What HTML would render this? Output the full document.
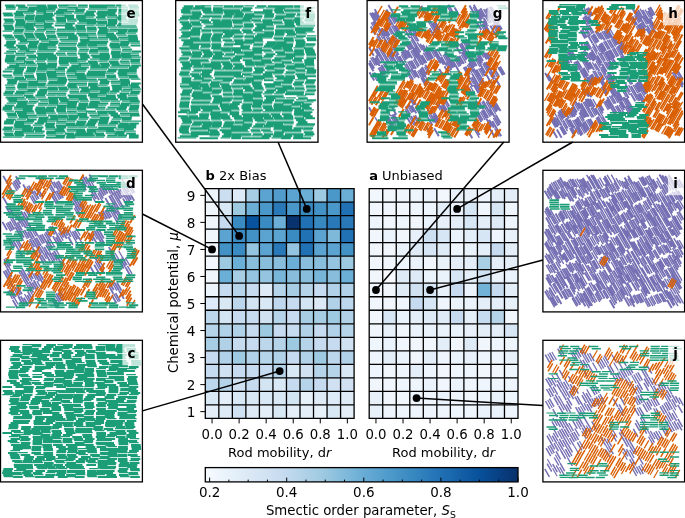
<!DOCTYPE html>
<html><head><meta charset="utf-8"><style>
html,body{margin:0;padding:0;background:#fff;}
svg{display:block;font-family:"DejaVu Sans","Liberation Sans",sans-serif;}
</style></head><body>
<svg width="685" height="518" viewBox="0 0 685 518">
<rect x="205.30" y="188.60" width="13.53" height="13.52" fill="#edf5fc"/>
<rect x="218.83" y="188.60" width="13.53" height="13.52" fill="#ccdff1"/>
<rect x="232.35" y="188.60" width="13.53" height="13.52" fill="#ddeaf7"/>
<rect x="245.88" y="188.60" width="13.53" height="13.52" fill="#a6cde4"/>
<rect x="259.41" y="188.60" width="13.53" height="13.52" fill="#5ba3d0"/>
<rect x="272.94" y="188.60" width="13.53" height="13.52" fill="#519ccc"/>
<rect x="286.46" y="188.60" width="13.53" height="13.52" fill="#5ba3d0"/>
<rect x="299.99" y="188.60" width="13.53" height="13.52" fill="#6baed6"/>
<rect x="313.52" y="188.60" width="13.53" height="13.52" fill="#9ecae1"/>
<rect x="327.05" y="188.60" width="13.53" height="13.52" fill="#4a98c9"/>
<rect x="340.57" y="188.60" width="13.53" height="13.52" fill="#6baed6"/>
<rect x="205.30" y="202.12" width="13.53" height="13.52" fill="#eff6fc"/>
<rect x="218.83" y="202.12" width="13.53" height="13.52" fill="#d9e8f5"/>
<rect x="232.35" y="202.12" width="13.53" height="13.52" fill="#9ecae1"/>
<rect x="245.88" y="202.12" width="13.53" height="13.52" fill="#6baed6"/>
<rect x="259.41" y="202.12" width="13.53" height="13.52" fill="#4a98c9"/>
<rect x="272.94" y="202.12" width="13.53" height="13.52" fill="#2979b9"/>
<rect x="286.46" y="202.12" width="13.53" height="13.52" fill="#4a98c9"/>
<rect x="299.99" y="202.12" width="13.53" height="13.52" fill="#3989c1"/>
<rect x="313.52" y="202.12" width="13.53" height="13.52" fill="#4292c6"/>
<rect x="327.05" y="202.12" width="13.53" height="13.52" fill="#4a98c9"/>
<rect x="340.57" y="202.12" width="13.53" height="13.52" fill="#2171b5"/>
<rect x="205.30" y="215.64" width="13.53" height="13.52" fill="#eff6fc"/>
<rect x="218.83" y="215.64" width="13.53" height="13.52" fill="#c6dbef"/>
<rect x="232.35" y="215.64" width="13.53" height="13.52" fill="#3b8bc3"/>
<rect x="245.88" y="215.64" width="13.53" height="13.52" fill="#09529d"/>
<rect x="259.41" y="215.64" width="13.53" height="13.52" fill="#3b8bc3"/>
<rect x="272.94" y="215.64" width="13.53" height="13.52" fill="#6baed6"/>
<rect x="286.46" y="215.64" width="13.53" height="13.52" fill="#08336f"/>
<rect x="299.99" y="215.64" width="13.53" height="13.52" fill="#2171b5"/>
<rect x="313.52" y="215.64" width="13.53" height="13.52" fill="#3989c1"/>
<rect x="327.05" y="215.64" width="13.53" height="13.52" fill="#2979b9"/>
<rect x="340.57" y="215.64" width="13.53" height="13.52" fill="#2979b9"/>
<rect x="205.30" y="229.15" width="13.53" height="13.52" fill="#eff6fc"/>
<rect x="218.83" y="229.15" width="13.53" height="13.52" fill="#5ba3d0"/>
<rect x="232.35" y="229.15" width="13.53" height="13.52" fill="#3b8bc3"/>
<rect x="245.88" y="229.15" width="13.53" height="13.52" fill="#4292c6"/>
<rect x="259.41" y="229.15" width="13.53" height="13.52" fill="#5ba3d0"/>
<rect x="272.94" y="229.15" width="13.53" height="13.52" fill="#5ba3d0"/>
<rect x="286.46" y="229.15" width="13.53" height="13.52" fill="#3b8bc3"/>
<rect x="299.99" y="229.15" width="13.53" height="13.52" fill="#2171b5"/>
<rect x="313.52" y="229.15" width="13.53" height="13.52" fill="#5ba3d0"/>
<rect x="327.05" y="229.15" width="13.53" height="13.52" fill="#7fb9da"/>
<rect x="340.57" y="229.15" width="13.53" height="13.52" fill="#2171b5"/>
<rect x="205.30" y="242.67" width="13.53" height="13.52" fill="#f3f8fe"/>
<rect x="218.83" y="242.67" width="13.53" height="13.52" fill="#4292c6"/>
<rect x="232.35" y="242.67" width="13.53" height="13.52" fill="#3b8bc3"/>
<rect x="245.88" y="242.67" width="13.53" height="13.52" fill="#94c4df"/>
<rect x="259.41" y="242.67" width="13.53" height="13.52" fill="#5ba3d0"/>
<rect x="272.94" y="242.67" width="13.53" height="13.52" fill="#2979b9"/>
<rect x="286.46" y="242.67" width="13.53" height="13.52" fill="#94c4df"/>
<rect x="299.99" y="242.67" width="13.53" height="13.52" fill="#2171b5"/>
<rect x="313.52" y="242.67" width="13.53" height="13.52" fill="#5ba3d0"/>
<rect x="327.05" y="242.67" width="13.53" height="13.52" fill="#5ba3d0"/>
<rect x="340.57" y="242.67" width="13.53" height="13.52" fill="#4292c6"/>
<rect x="205.30" y="256.19" width="13.53" height="13.52" fill="#f1f7fd"/>
<rect x="218.83" y="256.19" width="13.53" height="13.52" fill="#9ecae1"/>
<rect x="232.35" y="256.19" width="13.53" height="13.52" fill="#6baed6"/>
<rect x="245.88" y="256.19" width="13.53" height="13.52" fill="#88bedc"/>
<rect x="259.41" y="256.19" width="13.53" height="13.52" fill="#88bedc"/>
<rect x="272.94" y="256.19" width="13.53" height="13.52" fill="#88bedc"/>
<rect x="286.46" y="256.19" width="13.53" height="13.52" fill="#6baed6"/>
<rect x="299.99" y="256.19" width="13.53" height="13.52" fill="#88bedc"/>
<rect x="313.52" y="256.19" width="13.53" height="13.52" fill="#88bedc"/>
<rect x="327.05" y="256.19" width="13.53" height="13.52" fill="#94c4df"/>
<rect x="340.57" y="256.19" width="13.53" height="13.52" fill="#9ecae1"/>
<rect x="205.30" y="269.71" width="13.53" height="13.52" fill="#eff6fc"/>
<rect x="218.83" y="269.71" width="13.53" height="13.52" fill="#6baed6"/>
<rect x="232.35" y="269.71" width="13.53" height="13.52" fill="#a6cde4"/>
<rect x="245.88" y="269.71" width="13.53" height="13.52" fill="#94c4df"/>
<rect x="259.41" y="269.71" width="13.53" height="13.52" fill="#94c4df"/>
<rect x="272.94" y="269.71" width="13.53" height="13.52" fill="#77b5d9"/>
<rect x="286.46" y="269.71" width="13.53" height="13.52" fill="#88bedc"/>
<rect x="299.99" y="269.71" width="13.53" height="13.52" fill="#88bedc"/>
<rect x="313.52" y="269.71" width="13.53" height="13.52" fill="#77b5d9"/>
<rect x="327.05" y="269.71" width="13.53" height="13.52" fill="#88bedc"/>
<rect x="340.57" y="269.71" width="13.53" height="13.52" fill="#6baed6"/>
<rect x="205.30" y="283.22" width="13.53" height="13.52" fill="#edf5fc"/>
<rect x="218.83" y="283.22" width="13.53" height="13.52" fill="#c6dbef"/>
<rect x="232.35" y="283.22" width="13.53" height="13.52" fill="#b6d4e9"/>
<rect x="245.88" y="283.22" width="13.53" height="13.52" fill="#c6dbef"/>
<rect x="259.41" y="283.22" width="13.53" height="13.52" fill="#deebf7"/>
<rect x="272.94" y="283.22" width="13.53" height="13.52" fill="#b6d4e9"/>
<rect x="286.46" y="283.22" width="13.53" height="13.52" fill="#a6cde4"/>
<rect x="299.99" y="283.22" width="13.53" height="13.52" fill="#b6d4e9"/>
<rect x="313.52" y="283.22" width="13.53" height="13.52" fill="#c6dbef"/>
<rect x="327.05" y="283.22" width="13.53" height="13.52" fill="#b0d1e7"/>
<rect x="340.57" y="283.22" width="13.53" height="13.52" fill="#b0d1e7"/>
<rect x="205.30" y="296.74" width="13.53" height="13.52" fill="#ddeaf7"/>
<rect x="218.83" y="296.74" width="13.53" height="13.52" fill="#d9e8f5"/>
<rect x="232.35" y="296.74" width="13.53" height="13.52" fill="#bcd7ec"/>
<rect x="245.88" y="296.74" width="13.53" height="13.52" fill="#d3e4f3"/>
<rect x="259.41" y="296.74" width="13.53" height="13.52" fill="#d9e8f5"/>
<rect x="272.94" y="296.74" width="13.53" height="13.52" fill="#c0d8ed"/>
<rect x="286.46" y="296.74" width="13.53" height="13.52" fill="#c6dbef"/>
<rect x="299.99" y="296.74" width="13.53" height="13.52" fill="#d3e4f3"/>
<rect x="313.52" y="296.74" width="13.53" height="13.52" fill="#dbe9f6"/>
<rect x="327.05" y="296.74" width="13.53" height="13.52" fill="#b0d1e7"/>
<rect x="340.57" y="296.74" width="13.53" height="13.52" fill="#bcd7ec"/>
<rect x="205.30" y="310.26" width="13.53" height="13.52" fill="#bcd7ec"/>
<rect x="218.83" y="310.26" width="13.53" height="13.52" fill="#d3e4f3"/>
<rect x="232.35" y="310.26" width="13.53" height="13.52" fill="#c6dbef"/>
<rect x="245.88" y="310.26" width="13.53" height="13.52" fill="#c6dbef"/>
<rect x="259.41" y="310.26" width="13.53" height="13.52" fill="#d0e1f2"/>
<rect x="272.94" y="310.26" width="13.53" height="13.52" fill="#b6d4e9"/>
<rect x="286.46" y="310.26" width="13.53" height="13.52" fill="#c6dbef"/>
<rect x="299.99" y="310.26" width="13.53" height="13.52" fill="#a6cde4"/>
<rect x="313.52" y="310.26" width="13.53" height="13.52" fill="#a6cde4"/>
<rect x="327.05" y="310.26" width="13.53" height="13.52" fill="#9ecae1"/>
<rect x="340.57" y="310.26" width="13.53" height="13.52" fill="#b0d1e7"/>
<rect x="205.30" y="323.78" width="13.53" height="13.52" fill="#b6d4e9"/>
<rect x="218.83" y="323.78" width="13.53" height="13.52" fill="#b0d1e7"/>
<rect x="232.35" y="323.78" width="13.53" height="13.52" fill="#b0d1e7"/>
<rect x="245.88" y="323.78" width="13.53" height="13.52" fill="#c6dbef"/>
<rect x="259.41" y="323.78" width="13.53" height="13.52" fill="#9ecae1"/>
<rect x="272.94" y="323.78" width="13.53" height="13.52" fill="#c6dbef"/>
<rect x="286.46" y="323.78" width="13.53" height="13.52" fill="#c6dbef"/>
<rect x="299.99" y="323.78" width="13.53" height="13.52" fill="#b0d1e7"/>
<rect x="313.52" y="323.78" width="13.53" height="13.52" fill="#c6dbef"/>
<rect x="327.05" y="323.78" width="13.53" height="13.52" fill="#b0d1e7"/>
<rect x="340.57" y="323.78" width="13.53" height="13.52" fill="#b6d4e9"/>
<rect x="205.30" y="337.29" width="13.53" height="13.52" fill="#a6cde4"/>
<rect x="218.83" y="337.29" width="13.53" height="13.52" fill="#b0d1e7"/>
<rect x="232.35" y="337.29" width="13.53" height="13.52" fill="#c6dbef"/>
<rect x="245.88" y="337.29" width="13.53" height="13.52" fill="#c6dbef"/>
<rect x="259.41" y="337.29" width="13.53" height="13.52" fill="#bcd7ec"/>
<rect x="272.94" y="337.29" width="13.53" height="13.52" fill="#b6d4e9"/>
<rect x="286.46" y="337.29" width="13.53" height="13.52" fill="#9ecae1"/>
<rect x="299.99" y="337.29" width="13.53" height="13.52" fill="#b6d4e9"/>
<rect x="313.52" y="337.29" width="13.53" height="13.52" fill="#c6dbef"/>
<rect x="327.05" y="337.29" width="13.53" height="13.52" fill="#c6dbef"/>
<rect x="340.57" y="337.29" width="13.53" height="13.52" fill="#d0e1f2"/>
<rect x="205.30" y="350.81" width="13.53" height="13.52" fill="#c6dbef"/>
<rect x="218.83" y="350.81" width="13.53" height="13.52" fill="#b0d1e7"/>
<rect x="232.35" y="350.81" width="13.53" height="13.52" fill="#9ecae1"/>
<rect x="245.88" y="350.81" width="13.53" height="13.52" fill="#b0d1e7"/>
<rect x="259.41" y="350.81" width="13.53" height="13.52" fill="#b6d4e9"/>
<rect x="272.94" y="350.81" width="13.53" height="13.52" fill="#b0d1e7"/>
<rect x="286.46" y="350.81" width="13.53" height="13.52" fill="#c6dbef"/>
<rect x="299.99" y="350.81" width="13.53" height="13.52" fill="#b0d1e7"/>
<rect x="313.52" y="350.81" width="13.53" height="13.52" fill="#9ecae1"/>
<rect x="327.05" y="350.81" width="13.53" height="13.52" fill="#bcd7ec"/>
<rect x="340.57" y="350.81" width="13.53" height="13.52" fill="#b0d1e7"/>
<rect x="205.30" y="364.33" width="13.53" height="13.52" fill="#c6dbef"/>
<rect x="218.83" y="364.33" width="13.53" height="13.52" fill="#d0e1f2"/>
<rect x="232.35" y="364.33" width="13.53" height="13.52" fill="#c6dbef"/>
<rect x="245.88" y="364.33" width="13.53" height="13.52" fill="#c6dbef"/>
<rect x="259.41" y="364.33" width="13.53" height="13.52" fill="#c6dbef"/>
<rect x="272.94" y="364.33" width="13.53" height="13.52" fill="#b6d4e9"/>
<rect x="286.46" y="364.33" width="13.53" height="13.52" fill="#d9e8f5"/>
<rect x="299.99" y="364.33" width="13.53" height="13.52" fill="#d0e1f2"/>
<rect x="313.52" y="364.33" width="13.53" height="13.52" fill="#b6d4e9"/>
<rect x="327.05" y="364.33" width="13.53" height="13.52" fill="#b6d4e9"/>
<rect x="340.57" y="364.33" width="13.53" height="13.52" fill="#d9e8f5"/>
<rect x="205.30" y="377.85" width="13.53" height="13.52" fill="#bcd7ec"/>
<rect x="218.83" y="377.85" width="13.53" height="13.52" fill="#b6d4e9"/>
<rect x="232.35" y="377.85" width="13.53" height="13.52" fill="#d0e1f2"/>
<rect x="245.88" y="377.85" width="13.53" height="13.52" fill="#c6dbef"/>
<rect x="259.41" y="377.85" width="13.53" height="13.52" fill="#d3e4f3"/>
<rect x="272.94" y="377.85" width="13.53" height="13.52" fill="#d9e8f5"/>
<rect x="286.46" y="377.85" width="13.53" height="13.52" fill="#c6dbef"/>
<rect x="299.99" y="377.85" width="13.53" height="13.52" fill="#b6d4e9"/>
<rect x="313.52" y="377.85" width="13.53" height="13.52" fill="#c6dbef"/>
<rect x="327.05" y="377.85" width="13.53" height="13.52" fill="#d0e1f2"/>
<rect x="340.57" y="377.85" width="13.53" height="13.52" fill="#d0e1f2"/>
<rect x="205.30" y="391.36" width="13.53" height="13.52" fill="#d9e8f5"/>
<rect x="218.83" y="391.36" width="13.53" height="13.52" fill="#e3eef9"/>
<rect x="232.35" y="391.36" width="13.53" height="13.52" fill="#d9e8f5"/>
<rect x="245.88" y="391.36" width="13.53" height="13.52" fill="#d9e8f5"/>
<rect x="259.41" y="391.36" width="13.53" height="13.52" fill="#d9e8f5"/>
<rect x="272.94" y="391.36" width="13.53" height="13.52" fill="#d9e8f5"/>
<rect x="286.46" y="391.36" width="13.53" height="13.52" fill="#d3e4f3"/>
<rect x="299.99" y="391.36" width="13.53" height="13.52" fill="#e7f1fa"/>
<rect x="313.52" y="391.36" width="13.53" height="13.52" fill="#deebf7"/>
<rect x="327.05" y="391.36" width="13.53" height="13.52" fill="#ddeaf7"/>
<rect x="340.57" y="391.36" width="13.53" height="13.52" fill="#deebf7"/>
<rect x="205.30" y="404.88" width="13.53" height="13.52" fill="#e3eef9"/>
<rect x="218.83" y="404.88" width="13.53" height="13.52" fill="#deebf7"/>
<rect x="232.35" y="404.88" width="13.53" height="13.52" fill="#d0e1f2"/>
<rect x="245.88" y="404.88" width="13.53" height="13.52" fill="#deebf7"/>
<rect x="259.41" y="404.88" width="13.53" height="13.52" fill="#e3eef9"/>
<rect x="272.94" y="404.88" width="13.53" height="13.52" fill="#d9e8f5"/>
<rect x="286.46" y="404.88" width="13.53" height="13.52" fill="#e3eef9"/>
<rect x="299.99" y="404.88" width="13.53" height="13.52" fill="#e3eef9"/>
<rect x="313.52" y="404.88" width="13.53" height="13.52" fill="#e7f1fa"/>
<rect x="327.05" y="404.88" width="13.53" height="13.52" fill="#d9e8f5"/>
<rect x="340.57" y="404.88" width="13.53" height="13.52" fill="#e3eef9"/>
<path d="M205.30 188.60V418.40M218.83 188.60V418.40M232.35 188.60V418.40M245.88 188.60V418.40M259.41 188.60V418.40M272.94 188.60V418.40M286.46 188.60V418.40M299.99 188.60V418.40M313.52 188.60V418.40M327.05 188.60V418.40M340.57 188.60V418.40M354.10 188.60V418.40M205.30 188.60H354.10M205.30 202.12H354.10M205.30 215.64H354.10M205.30 229.15H354.10M205.30 242.67H354.10M205.30 256.19H354.10M205.30 269.71H354.10M205.30 283.22H354.10M205.30 296.74H354.10M205.30 310.26H354.10M205.30 323.78H354.10M205.30 337.29H354.10M205.30 350.81H354.10M205.30 364.33H354.10M205.30 377.85H354.10M205.30 391.36H354.10M205.30 404.88H354.10M205.30 418.40H354.10" stroke="#000" stroke-width="1.3" fill="none" stroke-linecap="square"/>
<rect x="369.20" y="188.60" width="13.53" height="13.52" fill="#f2f7fd"/>
<rect x="382.73" y="188.60" width="13.53" height="13.52" fill="#f0f6fc"/>
<rect x="396.25" y="188.60" width="13.53" height="13.52" fill="#edf4fc"/>
<rect x="409.78" y="188.60" width="13.53" height="13.52" fill="#edf4fc"/>
<rect x="423.31" y="188.60" width="13.53" height="13.52" fill="#eaf2fb"/>
<rect x="436.84" y="188.60" width="13.53" height="13.52" fill="#f2f7fd"/>
<rect x="450.36" y="188.60" width="13.53" height="13.52" fill="#e8f1fa"/>
<rect x="463.89" y="188.60" width="13.53" height="13.52" fill="#e8f1fa"/>
<rect x="477.42" y="188.60" width="13.53" height="13.52" fill="#eef5fc"/>
<rect x="490.95" y="188.60" width="13.53" height="13.52" fill="#e3eef8"/>
<rect x="504.47" y="188.60" width="13.53" height="13.52" fill="#e3eef8"/>
<rect x="369.20" y="202.12" width="13.53" height="13.52" fill="#f2f7fd"/>
<rect x="382.73" y="202.12" width="13.53" height="13.52" fill="#f0f6fc"/>
<rect x="396.25" y="202.12" width="13.53" height="13.52" fill="#f2f7fd"/>
<rect x="409.78" y="202.12" width="13.53" height="13.52" fill="#eef5fc"/>
<rect x="423.31" y="202.12" width="13.53" height="13.52" fill="#eef5fc"/>
<rect x="436.84" y="202.12" width="13.53" height="13.52" fill="#e3eef8"/>
<rect x="450.36" y="202.12" width="13.53" height="13.52" fill="#e8f1fa"/>
<rect x="463.89" y="202.12" width="13.53" height="13.52" fill="#d6e6f4"/>
<rect x="477.42" y="202.12" width="13.53" height="13.52" fill="#f0f6fc"/>
<rect x="490.95" y="202.12" width="13.53" height="13.52" fill="#d6e6f4"/>
<rect x="504.47" y="202.12" width="13.53" height="13.52" fill="#eef5fc"/>
<rect x="369.20" y="215.64" width="13.53" height="13.52" fill="#eef5fc"/>
<rect x="382.73" y="215.64" width="13.53" height="13.52" fill="#f0f6fc"/>
<rect x="396.25" y="215.64" width="13.53" height="13.52" fill="#eef5fc"/>
<rect x="409.78" y="215.64" width="13.53" height="13.52" fill="#f0f6fc"/>
<rect x="423.31" y="215.64" width="13.53" height="13.52" fill="#eaf2fb"/>
<rect x="436.84" y="215.64" width="13.53" height="13.52" fill="#e8f1fa"/>
<rect x="450.36" y="215.64" width="13.53" height="13.52" fill="#e3eef8"/>
<rect x="463.89" y="215.64" width="13.53" height="13.52" fill="#d6e6f4"/>
<rect x="477.42" y="215.64" width="13.53" height="13.52" fill="#e3eef8"/>
<rect x="490.95" y="215.64" width="13.53" height="13.52" fill="#deebf7"/>
<rect x="504.47" y="215.64" width="13.53" height="13.52" fill="#eef5fc"/>
<rect x="369.20" y="229.15" width="13.53" height="13.52" fill="#f0f6fc"/>
<rect x="382.73" y="229.15" width="13.53" height="13.52" fill="#eaf2fb"/>
<rect x="396.25" y="229.15" width="13.53" height="13.52" fill="#f0f6fc"/>
<rect x="409.78" y="229.15" width="13.53" height="13.52" fill="#e8f1fa"/>
<rect x="423.31" y="229.15" width="13.53" height="13.52" fill="#cde0f1"/>
<rect x="436.84" y="229.15" width="13.53" height="13.52" fill="#d6e6f4"/>
<rect x="450.36" y="229.15" width="13.53" height="13.52" fill="#eaf2fb"/>
<rect x="463.89" y="229.15" width="13.53" height="13.52" fill="#e3eef8"/>
<rect x="477.42" y="229.15" width="13.53" height="13.52" fill="#d6e6f4"/>
<rect x="490.95" y="229.15" width="13.53" height="13.52" fill="#eef5fc"/>
<rect x="504.47" y="229.15" width="13.53" height="13.52" fill="#e8f1fa"/>
<rect x="369.20" y="242.67" width="13.53" height="13.52" fill="#f0f6fc"/>
<rect x="382.73" y="242.67" width="13.53" height="13.52" fill="#f0f6fc"/>
<rect x="396.25" y="242.67" width="13.53" height="13.52" fill="#eaf2fb"/>
<rect x="409.78" y="242.67" width="13.53" height="13.52" fill="#deebf7"/>
<rect x="423.31" y="242.67" width="13.53" height="13.52" fill="#d6e6f4"/>
<rect x="436.84" y="242.67" width="13.53" height="13.52" fill="#deebf7"/>
<rect x="450.36" y="242.67" width="13.53" height="13.52" fill="#eef5fc"/>
<rect x="463.89" y="242.67" width="13.53" height="13.52" fill="#eaf2fb"/>
<rect x="477.42" y="242.67" width="13.53" height="13.52" fill="#e3eef8"/>
<rect x="490.95" y="242.67" width="13.53" height="13.52" fill="#c6dbef"/>
<rect x="504.47" y="242.67" width="13.53" height="13.52" fill="#e3eef8"/>
<rect x="369.20" y="256.19" width="13.53" height="13.52" fill="#f0f6fc"/>
<rect x="382.73" y="256.19" width="13.53" height="13.52" fill="#f0f6fc"/>
<rect x="396.25" y="256.19" width="13.53" height="13.52" fill="#eef5fc"/>
<rect x="409.78" y="256.19" width="13.53" height="13.52" fill="#eaf2fb"/>
<rect x="423.31" y="256.19" width="13.53" height="13.52" fill="#f0f6fc"/>
<rect x="436.84" y="256.19" width="13.53" height="13.52" fill="#e8f1fa"/>
<rect x="450.36" y="256.19" width="13.53" height="13.52" fill="#e3eef8"/>
<rect x="463.89" y="256.19" width="13.53" height="13.52" fill="#e3eef8"/>
<rect x="477.42" y="256.19" width="13.53" height="13.52" fill="#a9cfe5"/>
<rect x="490.95" y="256.19" width="13.53" height="13.52" fill="#e3eef8"/>
<rect x="504.47" y="256.19" width="13.53" height="13.52" fill="#e3eef8"/>
<rect x="369.20" y="269.71" width="13.53" height="13.52" fill="#f0f6fc"/>
<rect x="382.73" y="269.71" width="13.53" height="13.52" fill="#f7fbff"/>
<rect x="396.25" y="269.71" width="13.53" height="13.52" fill="#deebf7"/>
<rect x="409.78" y="269.71" width="13.53" height="13.52" fill="#deebf7"/>
<rect x="423.31" y="269.71" width="13.53" height="13.52" fill="#eaf2fb"/>
<rect x="436.84" y="269.71" width="13.53" height="13.52" fill="#eaf2fb"/>
<rect x="450.36" y="269.71" width="13.53" height="13.52" fill="#d6e6f4"/>
<rect x="463.89" y="269.71" width="13.53" height="13.52" fill="#e3eef8"/>
<rect x="477.42" y="269.71" width="13.53" height="13.52" fill="#d0e2f2"/>
<rect x="490.95" y="269.71" width="13.53" height="13.52" fill="#eaf2fb"/>
<rect x="504.47" y="269.71" width="13.53" height="13.52" fill="#eaf2fb"/>
<rect x="369.20" y="283.22" width="13.53" height="13.52" fill="#f0f6fc"/>
<rect x="382.73" y="283.22" width="13.53" height="13.52" fill="#f0f6fc"/>
<rect x="396.25" y="283.22" width="13.53" height="13.52" fill="#deebf7"/>
<rect x="409.78" y="283.22" width="13.53" height="13.52" fill="#d0e2f2"/>
<rect x="423.31" y="283.22" width="13.53" height="13.52" fill="#d6e6f4"/>
<rect x="436.84" y="283.22" width="13.53" height="13.52" fill="#e8f1fa"/>
<rect x="450.36" y="283.22" width="13.53" height="13.52" fill="#c6dbef"/>
<rect x="463.89" y="283.22" width="13.53" height="13.52" fill="#eaf2fb"/>
<rect x="477.42" y="283.22" width="13.53" height="13.52" fill="#74b3d8"/>
<rect x="490.95" y="283.22" width="13.53" height="13.52" fill="#c6dbef"/>
<rect x="504.47" y="283.22" width="13.53" height="13.52" fill="#e3eef8"/>
<rect x="369.20" y="296.74" width="13.53" height="13.52" fill="#f0f6fc"/>
<rect x="382.73" y="296.74" width="13.53" height="13.52" fill="#f0f6fc"/>
<rect x="396.25" y="296.74" width="13.53" height="13.52" fill="#eef5fc"/>
<rect x="409.78" y="296.74" width="13.53" height="13.52" fill="#c6dbef"/>
<rect x="423.31" y="296.74" width="13.53" height="13.52" fill="#d6e6f4"/>
<rect x="436.84" y="296.74" width="13.53" height="13.52" fill="#eef5fc"/>
<rect x="450.36" y="296.74" width="13.53" height="13.52" fill="#eaf2fb"/>
<rect x="463.89" y="296.74" width="13.53" height="13.52" fill="#eaf2fb"/>
<rect x="477.42" y="296.74" width="13.53" height="13.52" fill="#e3eef8"/>
<rect x="490.95" y="296.74" width="13.53" height="13.52" fill="#e3eef8"/>
<rect x="504.47" y="296.74" width="13.53" height="13.52" fill="#e8f1fa"/>
<rect x="369.20" y="310.26" width="13.53" height="13.52" fill="#f0f6fc"/>
<rect x="382.73" y="310.26" width="13.53" height="13.52" fill="#d6e6f4"/>
<rect x="396.25" y="310.26" width="13.53" height="13.52" fill="#eaf2fb"/>
<rect x="409.78" y="310.26" width="13.53" height="13.52" fill="#e3eef8"/>
<rect x="423.31" y="310.26" width="13.53" height="13.52" fill="#deebf7"/>
<rect x="436.84" y="310.26" width="13.53" height="13.52" fill="#deebf7"/>
<rect x="450.36" y="310.26" width="13.53" height="13.52" fill="#c6dbef"/>
<rect x="463.89" y="310.26" width="13.53" height="13.52" fill="#e3eef8"/>
<rect x="477.42" y="310.26" width="13.53" height="13.52" fill="#c6dbef"/>
<rect x="490.95" y="310.26" width="13.53" height="13.52" fill="#b5d4e9"/>
<rect x="504.47" y="310.26" width="13.53" height="13.52" fill="#f0f6fc"/>
<rect x="369.20" y="323.78" width="13.53" height="13.52" fill="#f0f6fc"/>
<rect x="382.73" y="323.78" width="13.53" height="13.52" fill="#e8f1fa"/>
<rect x="396.25" y="323.78" width="13.53" height="13.52" fill="#f0f6fc"/>
<rect x="409.78" y="323.78" width="13.53" height="13.52" fill="#eaf2fb"/>
<rect x="423.31" y="323.78" width="13.53" height="13.52" fill="#eaf2fb"/>
<rect x="436.84" y="323.78" width="13.53" height="13.52" fill="#eaf2fb"/>
<rect x="450.36" y="323.78" width="13.53" height="13.52" fill="#eaf2fb"/>
<rect x="463.89" y="323.78" width="13.53" height="13.52" fill="#e8f1fa"/>
<rect x="477.42" y="323.78" width="13.53" height="13.52" fill="#e3eef8"/>
<rect x="490.95" y="323.78" width="13.53" height="13.52" fill="#e3eef8"/>
<rect x="504.47" y="323.78" width="13.53" height="13.52" fill="#d6e6f4"/>
<rect x="369.20" y="337.29" width="13.53" height="13.52" fill="#eef5fc"/>
<rect x="382.73" y="337.29" width="13.53" height="13.52" fill="#eaf2fb"/>
<rect x="396.25" y="337.29" width="13.53" height="13.52" fill="#f0f6fc"/>
<rect x="409.78" y="337.29" width="13.53" height="13.52" fill="#f0f6fc"/>
<rect x="423.31" y="337.29" width="13.53" height="13.52" fill="#f0f6fc"/>
<rect x="436.84" y="337.29" width="13.53" height="13.52" fill="#e3eef8"/>
<rect x="450.36" y="337.29" width="13.53" height="13.52" fill="#f0f6fc"/>
<rect x="463.89" y="337.29" width="13.53" height="13.52" fill="#deebf7"/>
<rect x="477.42" y="337.29" width="13.53" height="13.52" fill="#f0f6fc"/>
<rect x="490.95" y="337.29" width="13.53" height="13.52" fill="#eef5fc"/>
<rect x="504.47" y="337.29" width="13.53" height="13.52" fill="#eef5fc"/>
<rect x="369.20" y="350.81" width="13.53" height="13.52" fill="#eef5fc"/>
<rect x="382.73" y="350.81" width="13.53" height="13.52" fill="#e3eef8"/>
<rect x="396.25" y="350.81" width="13.53" height="13.52" fill="#eaf2fb"/>
<rect x="409.78" y="350.81" width="13.53" height="13.52" fill="#f0f6fc"/>
<rect x="423.31" y="350.81" width="13.53" height="13.52" fill="#e3eef8"/>
<rect x="436.84" y="350.81" width="13.53" height="13.52" fill="#eef5fc"/>
<rect x="450.36" y="350.81" width="13.53" height="13.52" fill="#eaf2fb"/>
<rect x="463.89" y="350.81" width="13.53" height="13.52" fill="#e8f1fa"/>
<rect x="477.42" y="350.81" width="13.53" height="13.52" fill="#eef5fc"/>
<rect x="490.95" y="350.81" width="13.53" height="13.52" fill="#eef5fc"/>
<rect x="504.47" y="350.81" width="13.53" height="13.52" fill="#e8f1fa"/>
<rect x="369.20" y="364.33" width="13.53" height="13.52" fill="#eef5fc"/>
<rect x="382.73" y="364.33" width="13.53" height="13.52" fill="#f0f6fc"/>
<rect x="396.25" y="364.33" width="13.53" height="13.52" fill="#eef5fc"/>
<rect x="409.78" y="364.33" width="13.53" height="13.52" fill="#e3eef8"/>
<rect x="423.31" y="364.33" width="13.53" height="13.52" fill="#eef5fc"/>
<rect x="436.84" y="364.33" width="13.53" height="13.52" fill="#f0f6fc"/>
<rect x="450.36" y="364.33" width="13.53" height="13.52" fill="#eef5fc"/>
<rect x="463.89" y="364.33" width="13.53" height="13.52" fill="#eef5fc"/>
<rect x="477.42" y="364.33" width="13.53" height="13.52" fill="#f0f6fc"/>
<rect x="490.95" y="364.33" width="13.53" height="13.52" fill="#f0f6fc"/>
<rect x="504.47" y="364.33" width="13.53" height="13.52" fill="#eef5fc"/>
<rect x="369.20" y="377.85" width="13.53" height="13.52" fill="#f0f6fc"/>
<rect x="382.73" y="377.85" width="13.53" height="13.52" fill="#f0f6fc"/>
<rect x="396.25" y="377.85" width="13.53" height="13.52" fill="#eef5fc"/>
<rect x="409.78" y="377.85" width="13.53" height="13.52" fill="#eef5fc"/>
<rect x="423.31" y="377.85" width="13.53" height="13.52" fill="#eaf2fb"/>
<rect x="436.84" y="377.85" width="13.53" height="13.52" fill="#f0f6fc"/>
<rect x="450.36" y="377.85" width="13.53" height="13.52" fill="#eaf2fb"/>
<rect x="463.89" y="377.85" width="13.53" height="13.52" fill="#eef5fc"/>
<rect x="477.42" y="377.85" width="13.53" height="13.52" fill="#eef5fc"/>
<rect x="490.95" y="377.85" width="13.53" height="13.52" fill="#eef5fc"/>
<rect x="504.47" y="377.85" width="13.53" height="13.52" fill="#eef5fc"/>
<rect x="369.20" y="391.36" width="13.53" height="13.52" fill="#e8f1fa"/>
<rect x="382.73" y="391.36" width="13.53" height="13.52" fill="#f0f6fc"/>
<rect x="396.25" y="391.36" width="13.53" height="13.52" fill="#f2f7fd"/>
<rect x="409.78" y="391.36" width="13.53" height="13.52" fill="#eef5fc"/>
<rect x="423.31" y="391.36" width="13.53" height="13.52" fill="#eef5fc"/>
<rect x="436.84" y="391.36" width="13.53" height="13.52" fill="#eaf2fb"/>
<rect x="450.36" y="391.36" width="13.53" height="13.52" fill="#eef5fc"/>
<rect x="463.89" y="391.36" width="13.53" height="13.52" fill="#f0f6fc"/>
<rect x="477.42" y="391.36" width="13.53" height="13.52" fill="#eef5fc"/>
<rect x="490.95" y="391.36" width="13.53" height="13.52" fill="#e8f1fa"/>
<rect x="504.47" y="391.36" width="13.53" height="13.52" fill="#eef5fc"/>
<rect x="369.20" y="404.88" width="13.53" height="13.52" fill="#e8f1fa"/>
<rect x="382.73" y="404.88" width="13.53" height="13.52" fill="#eef5fc"/>
<rect x="396.25" y="404.88" width="13.53" height="13.52" fill="#eef5fc"/>
<rect x="409.78" y="404.88" width="13.53" height="13.52" fill="#eef5fc"/>
<rect x="423.31" y="404.88" width="13.53" height="13.52" fill="#eef5fc"/>
<rect x="436.84" y="404.88" width="13.53" height="13.52" fill="#eef5fc"/>
<rect x="450.36" y="404.88" width="13.53" height="13.52" fill="#eef5fc"/>
<rect x="463.89" y="404.88" width="13.53" height="13.52" fill="#eef5fc"/>
<rect x="477.42" y="404.88" width="13.53" height="13.52" fill="#eaf2fb"/>
<rect x="490.95" y="404.88" width="13.53" height="13.52" fill="#eaf2fb"/>
<rect x="504.47" y="404.88" width="13.53" height="13.52" fill="#eef5fc"/>
<path d="M369.20 188.60V418.40M382.73 188.60V418.40M396.25 188.60V418.40M409.78 188.60V418.40M423.31 188.60V418.40M436.84 188.60V418.40M450.36 188.60V418.40M463.89 188.60V418.40M477.42 188.60V418.40M490.95 188.60V418.40M504.47 188.60V418.40M518.00 188.60V418.40M369.20 188.60H518.00M369.20 202.12H518.00M369.20 215.64H518.00M369.20 229.15H518.00M369.20 242.67H518.00M369.20 256.19H518.00M369.20 269.71H518.00M369.20 283.22H518.00M369.20 296.74H518.00M369.20 310.26H518.00M369.20 323.78H518.00M369.20 337.29H518.00M369.20 350.81H518.00M369.20 364.33H518.00M369.20 377.85H518.00M369.20 391.36H518.00M369.20 404.88H518.00M369.20 418.40H518.00" stroke="#000" stroke-width="1.3" fill="none" stroke-linecap="square"/>
<path d="M200.30 411.64H205.30" stroke="#000" stroke-width="1"/>
<text x="195.40" y="416.84" text-anchor="end" font-size="13.6">1</text>
<path d="M200.30 384.61H205.30" stroke="#000" stroke-width="1"/>
<text x="195.40" y="389.81" text-anchor="end" font-size="13.6">2</text>
<path d="M200.30 357.57H205.30" stroke="#000" stroke-width="1"/>
<text x="195.40" y="362.77" text-anchor="end" font-size="13.6">3</text>
<path d="M200.30 330.54H205.30" stroke="#000" stroke-width="1"/>
<text x="195.40" y="335.74" text-anchor="end" font-size="13.6">4</text>
<path d="M200.30 303.50H205.30" stroke="#000" stroke-width="1"/>
<text x="195.40" y="308.70" text-anchor="end" font-size="13.6">5</text>
<path d="M200.30 276.46H205.30" stroke="#000" stroke-width="1"/>
<text x="195.40" y="281.66" text-anchor="end" font-size="13.6">6</text>
<path d="M200.30 249.43H205.30" stroke="#000" stroke-width="1"/>
<text x="195.40" y="254.63" text-anchor="end" font-size="13.6">7</text>
<path d="M200.30 222.39H205.30" stroke="#000" stroke-width="1"/>
<text x="195.40" y="227.59" text-anchor="end" font-size="13.6">8</text>
<path d="M200.30 195.36H205.30" stroke="#000" stroke-width="1"/>
<text x="195.40" y="200.56" text-anchor="end" font-size="13.6">9</text>
<path d="M212.06 418.40V423.40" stroke="#000" stroke-width="1"/>
<text x="212.06" y="438.80" text-anchor="middle" font-size="13.3">0.0</text>
<path d="M239.12 418.40V423.40" stroke="#000" stroke-width="1"/>
<text x="239.12" y="438.80" text-anchor="middle" font-size="13.3">0.2</text>
<path d="M266.17 418.40V423.40" stroke="#000" stroke-width="1"/>
<text x="266.17" y="438.80" text-anchor="middle" font-size="13.3">0.4</text>
<path d="M293.23 418.40V423.40" stroke="#000" stroke-width="1"/>
<text x="293.23" y="438.80" text-anchor="middle" font-size="13.3">0.6</text>
<path d="M320.28 418.40V423.40" stroke="#000" stroke-width="1"/>
<text x="320.28" y="438.80" text-anchor="middle" font-size="13.3">0.8</text>
<path d="M347.34 418.40V423.40" stroke="#000" stroke-width="1"/>
<text x="347.34" y="438.80" text-anchor="middle" font-size="13.3">1.0</text>
<text x="279.70" y="457.1" text-anchor="middle" font-size="13">Rod mobility, d<tspan font-style="italic">r</tspan></text>
<path d="M375.96 418.40V423.40" stroke="#000" stroke-width="1"/>
<text x="375.96" y="438.80" text-anchor="middle" font-size="13.3">0.0</text>
<path d="M403.02 418.40V423.40" stroke="#000" stroke-width="1"/>
<text x="403.02" y="438.80" text-anchor="middle" font-size="13.3">0.2</text>
<path d="M430.07 418.40V423.40" stroke="#000" stroke-width="1"/>
<text x="430.07" y="438.80" text-anchor="middle" font-size="13.3">0.4</text>
<path d="M457.13 418.40V423.40" stroke="#000" stroke-width="1"/>
<text x="457.13" y="438.80" text-anchor="middle" font-size="13.3">0.6</text>
<path d="M484.18 418.40V423.40" stroke="#000" stroke-width="1"/>
<text x="484.18" y="438.80" text-anchor="middle" font-size="13.3">0.8</text>
<path d="M511.24 418.40V423.40" stroke="#000" stroke-width="1"/>
<text x="511.24" y="438.80" text-anchor="middle" font-size="13.3">1.0</text>
<text x="443.60" y="457.1" text-anchor="middle" font-size="13">Rod mobility, d<tspan font-style="italic">r</tspan></text>
<text x="0" y="0" transform="translate(178.0,302.6) rotate(-90)" text-anchor="middle" font-size="13.2">Chemical potential, <tspan font-style="italic">μ</tspan></text>
<text x="205.6" y="180.1" font-size="13"><tspan font-weight="bold">b</tspan> 2x Bias</text>
<text x="369.2" y="180.1" font-size="13"><tspan font-weight="bold">a</tspan> Unbiased</text>
<defs><linearGradient id="cb" x1="0" x2="1" y1="0" y2="0"><stop offset="0.000" stop-color="#f7fbff"/><stop offset="0.031" stop-color="#f1f7fd"/><stop offset="0.062" stop-color="#eaf3fb"/><stop offset="0.094" stop-color="#e4eff9"/><stop offset="0.125" stop-color="#deebf7"/><stop offset="0.156" stop-color="#d8e7f5"/><stop offset="0.188" stop-color="#d2e3f3"/><stop offset="0.219" stop-color="#ccdff1"/><stop offset="0.250" stop-color="#c6dbef"/><stop offset="0.281" stop-color="#bcd7ec"/><stop offset="0.312" stop-color="#b2d2e8"/><stop offset="0.344" stop-color="#a8cee4"/><stop offset="0.375" stop-color="#9ecae1"/><stop offset="0.406" stop-color="#91c3de"/><stop offset="0.438" stop-color="#84bcdc"/><stop offset="0.469" stop-color="#78b5d9"/><stop offset="0.500" stop-color="#6baed6"/><stop offset="0.531" stop-color="#61a7d2"/><stop offset="0.562" stop-color="#56a0ce"/><stop offset="0.594" stop-color="#4c99ca"/><stop offset="0.625" stop-color="#4292c6"/><stop offset="0.656" stop-color="#3a8ac2"/><stop offset="0.688" stop-color="#3282be"/><stop offset="0.719" stop-color="#2979b9"/><stop offset="0.750" stop-color="#2171b5"/><stop offset="0.781" stop-color="#1b69af"/><stop offset="0.812" stop-color="#1461a8"/><stop offset="0.844" stop-color="#0e59a2"/><stop offset="0.875" stop-color="#08519c"/><stop offset="0.906" stop-color="#084990"/><stop offset="0.938" stop-color="#084084"/><stop offset="0.969" stop-color="#083877"/><stop offset="1.000" stop-color="#08306b"/></linearGradient></defs>
<rect x="205.30" y="467.60" width="312.70" height="14.30" fill="url(#cb)" stroke="#000" stroke-width="1.3"/>
<path d="M209.62 481.90V477.60" stroke="#000" stroke-width="1"/>
<text x="209.62" y="496.70" text-anchor="middle" font-size="13.5">0.2</text>
<path d="M228.89 481.90V479.60" stroke="#000" stroke-width="1"/>
<path d="M248.17 481.90V479.60" stroke="#000" stroke-width="1"/>
<path d="M267.44 481.90V479.60" stroke="#000" stroke-width="1"/>
<path d="M286.71 481.90V477.60" stroke="#000" stroke-width="1"/>
<text x="286.71" y="496.70" text-anchor="middle" font-size="13.5">0.4</text>
<path d="M305.99 481.90V479.60" stroke="#000" stroke-width="1"/>
<path d="M325.26 481.90V479.60" stroke="#000" stroke-width="1"/>
<path d="M344.53 481.90V479.60" stroke="#000" stroke-width="1"/>
<path d="M363.81 481.90V477.60" stroke="#000" stroke-width="1"/>
<text x="363.81" y="496.70" text-anchor="middle" font-size="13.5">0.6</text>
<path d="M383.08 481.90V479.60" stroke="#000" stroke-width="1"/>
<path d="M402.36 481.90V479.60" stroke="#000" stroke-width="1"/>
<path d="M421.63 481.90V479.60" stroke="#000" stroke-width="1"/>
<path d="M440.90 481.90V477.60" stroke="#000" stroke-width="1"/>
<text x="440.90" y="496.70" text-anchor="middle" font-size="13.5">0.8</text>
<path d="M460.18 481.90V479.60" stroke="#000" stroke-width="1"/>
<path d="M479.45 481.90V479.60" stroke="#000" stroke-width="1"/>
<path d="M498.73 481.90V479.60" stroke="#000" stroke-width="1"/>
<path d="M518.00 481.90V477.60" stroke="#000" stroke-width="1"/>
<text x="518.00" y="496.70" text-anchor="middle" font-size="13.5">1.0</text>
<text x="360.90" y="515.4" text-anchor="middle" font-size="13.3">Smectic order parameter, <tspan font-style="italic">S</tspan><tspan font-size="9.3" dy="2.3">S</tspan></text>
<defs><clipPath id="cle"><rect x="1.50" y="1.50" width="139.80" height="139.80"/></clipPath><clipPath id="clf"><rect x="176.70" y="1.50" width="139.80" height="139.80"/></clipPath><clipPath id="clg"><rect x="368.10" y="1.50" width="139.80" height="139.80"/></clipPath><clipPath id="clh"><rect x="543.90" y="1.50" width="139.80" height="139.80"/></clipPath><clipPath id="cld"><rect x="1.50" y="171.30" width="139.80" height="139.80"/></clipPath><clipPath id="cli"><rect x="543.90" y="171.30" width="139.80" height="139.80"/></clipPath><clipPath id="clc"><rect x="1.50" y="341.30" width="139.80" height="139.80"/></clipPath><clipPath id="clj"><rect x="543.90" y="341.30" width="139.80" height="139.80"/></clipPath></defs>
<g clip-path="url(#cle)">
<path fill="none" stroke="#1b9e77" stroke-width="1.97" d="M4.9 5.4l9.7 0.0M6.0 7.4l9.7 0.0M2.8 13.4l9.7 0.0M3.6 15.4l9.7 0.0M3.6 19.4l9.7 0.0M4.7 21.4l9.7 0.0M3.2 25.4l9.7 0.0M4.2 27.4l9.7 0.0M4.5 29.4l9.7 0.0M2.8 35.4l9.7 0.0M4.6 37.4l9.7 0.0M6.3 41.4l9.7 0.0M5.8 43.4l9.7 0.0M4.2 45.4l9.7 0.0M6.5 47.4l9.7 0.0M6.3 51.4l9.7 0.0M5.9 55.4l9.7 0.0M5.6 57.4l9.7 0.0M4.8 59.4l9.7 0.0M4.9 61.4l9.7 0.0M9.2 65.4l9.7 0.0M7.1 67.4l9.7 0.0M2.8 71.4l9.7 0.0M2.4 75.4l9.7 0.0M6.6 79.4l9.7 0.0M7.6 81.4l9.7 0.0M7.0 83.4l9.7 0.0M5.6 87.4l9.7 0.0M4.8 91.4l9.7 0.0M3.5 93.4l9.7 0.0M5.6 97.4l9.7 0.0M7.3 99.4l9.7 0.0M8.6 101.4l9.7 0.0M4.7 105.4l9.7 0.0M2.8 107.4l9.7 0.0M2.4 109.4l9.7 0.0M6.5 113.4l9.7 0.0M7.4 115.4l9.7 0.0M6.1 119.4l9.7 0.0M4.2 121.4l9.7 0.0M3.8 123.4l9.7 0.0M3.7 127.4l9.7 0.0M2.5 129.4l9.7 0.0M3.6 133.4l9.7 0.0M4.6 135.4l9.7 0.0M15.6 5.4l9.7 0.0M18.1 7.4l9.7 0.0M15.8 11.4l9.7 0.0M13.7 13.4l9.7 0.0M14.7 15.4l9.7 0.0M14.6 19.4l9.7 0.0M15.9 21.4l9.7 0.0M15.5 23.4l9.7 0.0M14.7 25.4l9.7 0.0M14.8 29.4l9.7 0.0M13.8 31.4l9.7 0.0M13.9 35.4l9.7 0.0M15.1 37.4l9.7 0.0M17.4 39.4l9.7 0.0M19.7 41.4l9.7 0.0M16.1 45.4l9.7 0.0M17.5 47.4l9.7 0.0M19.5 49.4l9.7 0.0M15.5 53.4l9.7 0.0M16.5 57.4l9.7 0.0M15.6 59.4l9.7 0.0M15.7 63.4l9.7 0.0M16.2 67.4l9.7 0.0M14.3 69.4l9.7 0.0M13.5 71.4l9.7 0.0M12.9 73.4l9.7 0.0M14.4 77.4l9.7 0.0M16.3 79.4l9.7 0.0M18.1 83.4l9.7 0.0M17.3 85.4l9.7 0.0M17.2 87.4l9.7 0.0M16.1 91.4l9.7 0.0M14.7 93.4l9.7 0.0M14.8 97.4l9.7 0.0M18.3 101.4l9.7 0.0M17.2 103.4l9.7 0.0M16.1 105.4l9.7 0.0M14.1 107.4l9.7 0.0M14.9 111.4l9.7 0.0M17.0 113.4l9.7 0.0M18.0 115.4l9.7 0.0M18.8 117.4l9.7 0.0M15.2 121.4l9.7 0.0M14.4 123.4l9.7 0.0M13.8 125.4l9.7 0.0M14.3 127.4l9.7 0.0M14.8 131.4l9.7 0.0M14.1 133.4l9.7 0.0M14.7 135.4l9.7 0.0M28.6 7.4l9.7 0.0M27.4 9.4l9.7 0.0M25.0 11.4l9.7 0.0M25.6 15.4l9.7 0.0M24.5 17.4l9.7 0.0M24.9 19.4l9.7 0.0M25.5 23.4l9.7 0.0M23.7 25.4l9.7 0.0M24.2 27.4l9.7 0.0M25.3 29.4l9.7 0.0M23.7 33.4l9.7 0.0M24.7 35.4l9.7 0.0M25.7 37.4l9.7 0.0M29.3 41.4l9.7 0.0M28.8 43.4l9.7 0.0M27.6 45.4l9.7 0.0M27.9 47.4l9.7 0.0M26.1 51.4l9.7 0.0M26.3 55.4l9.7 0.0M28.3 57.4l9.7 0.0M24.0 61.4l9.7 0.0M25.8 63.4l9.7 0.0M27.0 67.4l9.7 0.0M26.6 69.4l9.7 0.0M25.6 71.4l9.7 0.0M24.3 75.4l9.7 0.0M25.0 77.4l9.7 0.0M28.3 81.4l9.7 0.0M28.1 83.4l9.7 0.0M27.3 85.4l9.7 0.0M27.5 89.4l9.7 0.0M25.7 91.4l9.7 0.0M23.7 95.4l9.7 0.0M25.8 97.4l9.7 0.0M28.7 101.4l9.7 0.0M24.6 105.4l9.7 0.0M23.1 107.4l9.7 0.0M22.9 109.4l9.7 0.0M24.2 111.4l9.7 0.0M27.1 115.4l9.7 0.0M26.9 119.4l9.7 0.0M24.4 121.4l9.7 0.0M21.1 125.4l9.7 0.0M23.3 127.4l9.7 0.0M22.2 129.4l9.7 0.0M24.5 131.4l9.7 0.0M25.7 135.4l9.7 0.0M36.6 5.4l9.7 0.0M37.6 7.4l9.7 0.0M37.2 9.4l9.7 0.0M36.4 11.4l9.7 0.0M35.9 15.4l9.7 0.0M34.7 17.4l9.7 0.0M35.0 19.4l9.7 0.0M35.6 21.4l9.7 0.0M33.6 25.4l9.7 0.0M36.6 29.4l9.7 0.0M34.2 33.4l9.7 0.0M35.2 35.4l9.7 0.0M36.3 37.4l9.7 0.0M38.8 39.4l9.7 0.0M39.3 43.4l9.7 0.0M38.3 45.4l9.7 0.0M37.9 47.4l9.7 0.0M38.2 49.4l9.7 0.0M36.4 53.4l9.7 0.0M37.6 55.4l9.7 0.0M38.1 57.4l9.7 0.0M37.0 59.4l9.7 0.0M36.6 63.4l9.7 0.0M38.0 65.4l9.7 0.0M37.3 67.4l9.7 0.0M37.1 69.4l9.7 0.0M36.1 73.4l9.7 0.0M36.6 75.4l9.7 0.0M37.0 77.4l9.7 0.0M37.0 79.4l9.7 0.0M36.5 83.4l9.7 0.0M35.8 85.4l9.7 0.0M39.2 89.4l9.7 0.0M37.6 91.4l9.7 0.0M37.0 93.4l9.7 0.0M35.4 95.4l9.7 0.0M38.1 99.4l9.7 0.0M38.3 103.4l9.7 0.0M35.7 107.4l9.7 0.0M34.8 109.4l9.7 0.0M35.4 111.4l9.7 0.0M36.4 113.4l9.7 0.0M38.9 117.4l9.7 0.0M38.2 119.4l9.7 0.0M37.3 121.4l9.7 0.0M34.5 123.4l9.7 0.0M33.8 127.4l9.7 0.0M32.4 129.4l9.7 0.0M35.0 131.4l9.7 0.0M35.3 135.4l9.7 0.0M47.2 5.4l9.7 0.0M47.7 7.4l9.7 0.0M45.9 9.4l9.7 0.0M43.4 13.4l9.7 0.0M44.8 15.4l9.7 0.0M42.8 17.4l9.7 0.0M44.2 19.4l9.7 0.0M43.8 23.4l9.7 0.0M42.1 25.4l9.7 0.0M44.2 27.4l9.7 0.0M45.9 31.4l9.7 0.0M46.2 35.4l9.7 0.0M47.1 37.4l9.7 0.0M48.9 41.4l9.7 0.0M48.1 43.4l9.7 0.0M46.1 45.4l9.7 0.0M46.8 49.4l9.7 0.0M44.0 53.4l9.7 0.0M46.4 55.4l9.7 0.0M47.6 57.4l9.7 0.0M47.4 59.4l9.7 0.0M47.4 63.4l9.7 0.0M47.2 65.4l9.7 0.0M46.8 67.4l9.7 0.0M46.3 71.4l9.7 0.0M46.2 73.4l9.7 0.0M47.0 75.4l9.7 0.0M47.7 77.4l9.7 0.0M48.6 81.4l9.7 0.0M47.5 83.4l9.7 0.0M47.6 87.4l9.7 0.0M48.4 89.4l9.7 0.0M47.8 93.4l9.7 0.0M47.8 97.4l9.7 0.0M48.2 99.4l9.7 0.0M48.9 101.4l9.7 0.0M48.4 103.4l9.7 0.0M46.3 107.4l9.7 0.0M44.5 109.4l9.7 0.0M45.0 111.4l9.7 0.0M48.1 115.4l9.7 0.0M50.2 117.4l9.7 0.0M48.2 119.4l9.7 0.0M45.5 123.4l9.7 0.0M44.8 125.4l9.7 0.0M45.6 127.4l9.7 0.0M46.4 131.4l9.7 0.0M46.1 133.4l9.7 0.0M45.9 137.4l9.7 0.0M58.1 5.4l9.7 0.0M57.6 9.4l9.7 0.0M55.9 11.4l9.7 0.0M54.1 13.4l9.7 0.0M55.7 17.4l9.7 0.0M56.3 19.4l9.7 0.0M56.4 21.4l9.7 0.0M54.7 25.4l9.7 0.0M56.9 29.4l9.7 0.0M56.5 33.4l9.7 0.0M57.4 35.4l9.7 0.0M59.5 39.4l9.7 0.0M58.7 43.4l9.7 0.0M58.2 47.4l9.7 0.0M59.6 49.4l9.7 0.0M55.8 53.4l9.7 0.0M59.0 57.4l9.7 0.0M59.0 59.4l9.7 0.0M58.6 61.4l9.7 0.0M58.9 63.4l9.7 0.0M57.6 67.4l9.7 0.0M55.3 69.4l9.7 0.0M55.5 73.4l9.7 0.0M56.4 77.4l9.7 0.0M57.3 79.4l9.7 0.0M57.2 81.4l9.7 0.0M56.2 83.4l9.7 0.0M57.6 87.4l9.7 0.0M58.9 89.4l9.7 0.0M56.7 93.4l9.7 0.0M57.1 97.4l9.7 0.0M58.9 99.4l9.7 0.0M60.2 101.4l9.7 0.0M57.2 105.4l9.7 0.0M56.6 107.4l9.7 0.0M56.1 109.4l9.7 0.0M56.5 111.4l9.7 0.0M58.0 115.4l9.7 0.0M58.4 117.4l9.7 0.0M56.3 121.4l9.7 0.0M55.9 125.4l9.7 0.0M56.4 127.4l9.7 0.0M54.7 129.4l9.7 0.0M55.7 131.4l9.7 0.0M55.7 135.4l9.7 0.0M55.0 137.4l9.7 0.0M68.1 7.4l9.7 0.0M64.5 11.4l9.7 0.0M64.5 15.4l9.7 0.0M64.4 17.4l9.7 0.0M66.8 19.4l9.7 0.0M65.2 23.4l9.7 0.0M63.0 25.4l9.7 0.0M65.0 27.4l9.7 0.0M66.7 29.4l9.7 0.0M64.9 33.4l9.7 0.0M67.0 35.4l9.7 0.0M68.1 37.4l9.7 0.0M68.2 39.4l9.7 0.0M67.2 43.4l9.7 0.0M66.8 47.4l9.7 0.0M67.4 49.4l9.7 0.0M66.9 53.4l9.7 0.0M68.0 57.4l9.7 0.0M68.1 59.4l9.7 0.0M67.7 61.4l9.7 0.0M71.3 65.4l9.7 0.0M69.3 67.4l9.7 0.0M67.4 69.4l9.7 0.0M66.6 71.4l9.7 0.0M66.8 75.4l9.7 0.0M67.6 79.4l9.7 0.0M68.1 83.4l9.7 0.0M67.1 85.4l9.7 0.0M68.1 87.4l9.7 0.0M69.4 91.4l9.7 0.0M67.6 95.4l9.7 0.0M68.8 97.4l9.7 0.0M69.0 101.4l9.7 0.0M67.3 103.4l9.7 0.0M66.9 105.4l9.7 0.0M66.8 107.4l9.7 0.0M67.0 111.4l9.7 0.0M68.1 115.4l9.7 0.0M68.5 117.4l9.7 0.0M66.9 119.4l9.7 0.0M65.7 123.4l9.7 0.0M65.5 125.4l9.7 0.0M66.6 129.4l9.7 0.0M64.7 133.4l9.7 0.0M66.5 135.4l9.7 0.0M65.9 137.4l9.7 0.0M78.0 5.4l9.7 0.0M75.6 9.4l9.7 0.0M74.6 11.4l9.7 0.0M76.1 15.4l9.7 0.0M76.1 17.4l9.7 0.0M77.2 19.4l9.7 0.0M78.9 21.4l9.7 0.0M75.3 25.4l9.7 0.0M75.5 27.4l9.7 0.0M76.7 29.4l9.7 0.0M76.4 33.4l9.7 0.0M78.4 35.4l9.7 0.0M79.7 39.4l9.7 0.0M80.3 41.4l9.7 0.0M78.2 43.4l9.7 0.0M77.1 45.4l9.7 0.0M79.2 49.4l9.7 0.0M77.8 53.4l9.7 0.0M79.6 55.4l9.7 0.0M80.2 57.4l9.7 0.0M78.0 59.4l9.7 0.0M78.5 63.4l9.7 0.0M79.1 67.4l9.7 0.0M76.9 69.4l9.7 0.0M75.1 73.4l9.7 0.0M76.2 75.4l9.7 0.0M76.9 77.4l9.7 0.0M77.4 79.4l9.7 0.0M77.4 83.4l9.7 0.0M79.0 87.4l9.7 0.0M81.2 89.4l9.7 0.0M80.0 91.4l9.7 0.0M77.0 95.4l9.7 0.0M77.2 97.4l9.7 0.0M78.3 99.4l9.7 0.0M78.6 103.4l9.7 0.0M78.2 105.4l9.7 0.0M76.8 107.4l9.7 0.0M76.6 109.4l9.7 0.0M77.5 113.4l9.7 0.0M77.5 115.4l9.7 0.0M79.1 117.4l9.7 0.0M76.7 121.4l9.7 0.0M76.0 123.4l9.7 0.0M75.1 125.4l9.7 0.0M75.3 129.4l9.7 0.0M76.2 131.4l9.7 0.0M75.1 133.4l9.7 0.0M76.1 135.4l9.7 0.0M89.0 5.4l9.7 0.0M89.2 7.4l9.7 0.0M86.2 11.4l9.7 0.0M84.4 13.4l9.7 0.0M85.6 15.4l9.7 0.0M86.3 19.4l9.7 0.0M88.4 21.4l9.7 0.0M86.8 23.4l9.7 0.0M86.6 27.4l9.7 0.0M87.1 29.4l9.7 0.0M86.3 33.4l9.7 0.0M87.4 37.4l9.7 0.0M89.5 41.4l9.7 0.0M88.1 43.4l9.7 0.0M87.4 45.4l9.7 0.0M89.8 49.4l9.7 0.0M88.8 51.4l9.7 0.0M90.6 55.4l9.7 0.0M92.3 57.4l9.7 0.0M87.9 61.4l9.7 0.0M88.5 63.4l9.7 0.0M90.3 65.4l9.7 0.0M90.3 67.4l9.7 0.0M87.8 71.4l9.7 0.0M86.6 73.4l9.7 0.0M86.2 75.4l9.7 0.0M87.1 79.4l9.7 0.0M88.2 83.4l9.7 0.0M88.0 85.4l9.7 0.0M90.2 87.4l9.7 0.0M90.9 89.4l9.7 0.0M88.4 93.4l9.7 0.0M87.9 95.4l9.7 0.0M89.6 97.4l9.7 0.0M90.1 101.4l9.7 0.0M89.1 103.4l9.7 0.0M88.3 105.4l9.7 0.0M86.8 107.4l9.7 0.0M86.1 111.4l9.7 0.0M89.5 115.4l9.7 0.0M89.5 119.4l9.7 0.0M88.0 121.4l9.7 0.0M86.6 123.4l9.7 0.0M85.3 125.4l9.7 0.0M86.7 129.4l9.7 0.0M86.7 131.4l9.7 0.0M83.9 133.4l9.7 0.0M85.1 135.4l9.7 0.0M97.0 5.4l9.7 0.0M97.8 7.4l9.7 0.0M97.3 11.4l9.7 0.0M96.4 13.4l9.7 0.0M97.3 15.4l9.7 0.0M95.8 17.4l9.7 0.0M97.3 21.4l9.7 0.0M97.3 23.4l9.7 0.0M97.5 27.4l9.7 0.0M99.1 29.4l9.7 0.0M98.0 31.4l9.7 0.0M97.3 33.4l9.7 0.0M97.9 37.4l9.7 0.0M98.6 41.4l9.7 0.0M97.6 43.4l9.7 0.0M97.9 47.4l9.7 0.0M99.2 49.4l9.7 0.0M99.4 53.4l9.7 0.0M100.2 55.4l9.7 0.0M100.3 57.4l9.7 0.0M99.5 59.4l9.7 0.0M99.4 63.4l9.7 0.0M100.4 65.4l9.7 0.0M99.0 67.4l9.7 0.0M96.4 71.4l9.7 0.0M95.6 73.4l9.7 0.0M95.7 75.4l9.7 0.0M97.9 79.4l9.7 0.0M100.1 81.4l9.7 0.0M99.3 83.4l9.7 0.0M100.1 87.4l9.7 0.0M100.3 89.4l9.7 0.0M99.5 91.4l9.7 0.0M97.1 93.4l9.7 0.0M97.8 97.4l9.7 0.0M99.7 99.4l9.7 0.0M98.6 103.4l9.7 0.0M95.8 107.4l9.7 0.0M97.1 111.4l9.7 0.0M98.0 113.4l9.7 0.0M99.9 117.4l9.7 0.0M99.2 119.4l9.7 0.0M98.7 121.4l9.7 0.0M98.1 123.4l9.7 0.0M98.2 127.4l9.7 0.0M96.4 129.4l9.7 0.0M94.4 133.4l9.7 0.0M95.5 135.4l9.7 0.0M105.7 5.4l9.7 0.0M107.6 9.4l9.7 0.0M106.9 11.4l9.7 0.0M105.8 13.4l9.7 0.0M107.3 15.4l9.7 0.0M107.4 19.4l9.7 0.0M107.7 21.4l9.7 0.0M107.4 23.4l9.7 0.0M105.9 25.4l9.7 0.0M109.4 29.4l9.7 0.0M104.5 33.4l9.7 0.0M106.2 35.4l9.7 0.0M107.6 37.4l9.7 0.0M109.3 39.4l9.7 0.0M109.8 43.4l9.7 0.0M109.3 45.4l9.7 0.0M110.3 47.4l9.7 0.0M111.1 51.4l9.7 0.0M110.7 53.4l9.7 0.0M111.6 55.4l9.7 0.0M111.8 57.4l9.7 0.0M108.8 61.4l9.7 0.0M109.8 63.4l9.7 0.0M111.4 65.4l9.7 0.0M108.1 69.4l9.7 0.0M106.6 71.4l9.7 0.0M106.2 75.4l9.7 0.0M106.5 77.4l9.7 0.0M110.6 81.4l9.7 0.0M111.4 85.4l9.7 0.0M112.1 87.4l9.7 0.0M112.3 89.4l9.7 0.0M109.7 91.4l9.7 0.0M105.9 95.4l9.7 0.0M106.4 97.4l9.7 0.0M108.3 99.4l9.7 0.0M110.3 103.4l9.7 0.0M107.6 107.4l9.7 0.0M106.1 111.4l9.7 0.0M108.3 113.4l9.7 0.0M110.6 115.4l9.7 0.0M113.1 117.4l9.7 0.0M110.6 121.4l9.7 0.0M108.7 123.4l9.7 0.0M106.8 127.4l9.7 0.0M104.4 129.4l9.7 0.0M106.1 131.4l9.7 0.0M107.3 135.4l9.7 0.0M116.1 5.4l9.7 0.0M118.5 9.4l9.7 0.0M118.5 11.4l9.7 0.0M118.3 15.4l9.7 0.0M116.4 17.4l9.7 0.0M117.6 19.4l9.7 0.0M118.4 23.4l9.7 0.0M117.0 25.4l9.7 0.0M118.2 29.4l9.7 0.0M117.6 31.4l9.7 0.0M116.0 33.4l9.7 0.0M118.2 37.4l9.7 0.0M120.6 41.4l9.7 0.0M119.8 43.4l9.7 0.0M118.7 45.4l9.7 0.0M122.2 49.4l9.7 0.0M120.8 53.4l9.7 0.0M121.1 55.4l9.7 0.0M121.8 57.4l9.7 0.0M119.8 61.4l9.7 0.0M120.6 65.4l9.7 0.0M118.2 69.4l9.7 0.0M118.1 71.4l9.7 0.0M117.5 73.4l9.7 0.0M118.3 75.4l9.7 0.0M119.6 79.4l9.7 0.0M120.4 81.4l9.7 0.0M120.3 83.4l9.7 0.0M118.9 85.4l9.7 0.0M122.5 89.4l9.7 0.0M119.6 93.4l9.7 0.0M117.0 95.4l9.7 0.0M117.8 97.4l9.7 0.0M120.0 99.4l9.7 0.0M120.8 103.4l9.7 0.0M119.3 105.4l9.7 0.0M117.3 107.4l9.7 0.0M116.4 109.4l9.7 0.0M120.0 113.4l9.7 0.0M122.1 117.4l9.7 0.0M121.8 119.4l9.7 0.0M119.2 123.4l9.7 0.0M117.7 125.4l9.7 0.0M117.5 127.4l9.7 0.0M116.1 131.4l9.7 0.0M114.7 133.4l9.7 0.0M117.3 135.4l9.7 0.0M128.2 5.4l9.7 0.0M129.2 7.4l9.7 0.0M128.9 11.4l9.7 0.0M129.5 13.4l9.7 0.0M130.1 15.4l9.7 0.0M128.3 19.4l9.7 0.0M128.4 21.4l9.7 0.0M127.4 23.4l9.7 0.0M126.6 25.4l9.7 0.0M128.2 29.4l9.7 0.0M127.8 31.4l9.7 0.0M127.6 35.4l9.7 0.0M128.1 37.4l9.7 0.0M128.3 39.4l9.7 0.0M130.1 41.4l9.7 0.0M130.6 45.4l9.7 0.0M131.6 51.4l9.7 0.0M129.5 55.4l9.7 0.0M130.6 59.4l9.7 0.0M130.2 61.4l9.7 0.0M131.2 65.4l9.7 0.0M129.0 67.4l9.7 0.0M127.2 69.4l9.7 0.0M127.0 71.4l9.7 0.0M127.8 75.4l9.7 0.0M128.8 77.4l9.7 0.0M131.0 83.4l9.7 0.0M129.1 85.4l9.7 0.0M130.4 87.4l9.7 0.0M130.8 91.4l9.7 0.0M129.8 93.4l9.7 0.0M128.1 97.4l9.7 0.0M128.9 99.4l9.7 0.0M130.1 101.4l9.7 0.0M129.6 105.4l9.7 0.0M129.3 107.4l9.7 0.0M128.6 109.4l9.7 0.0M129.4 113.4l9.7 0.0M130.0 115.4l9.7 0.0M129.2 123.4l9.7 0.0M126.7 125.4l9.7 0.0M126.5 127.4l9.7 0.0M124.1 129.4l9.7 0.0M126.2 133.4l9.7 0.0M129.0 135.4l9.7 0.0M128.9 137.4l9.7 0.0"/>
<path fill="none" stroke="#1b9e77" stroke-width="1.35" d="M5.7 9.1l9.7 0.0M3.7 23.1l9.7 0.0M2.5 31.1l9.7 0.0M5.4 39.1l9.7 0.0M8.6 49.1l9.7 0.0M4.3 53.1l9.7 0.0M6.8 63.1l9.7 0.0M4.8 69.1l9.7 0.0M3.8 77.1l9.7 0.0M4.9 85.1l9.7 0.0M5.8 89.1l9.7 0.0M3.5 95.1l9.7 0.0M6.6 103.1l9.7 0.0M4.5 111.1l9.7 0.0M7.9 117.1l9.7 0.0M4.1 131.1l9.7 0.0M2.7 137.1l9.7 0.0M17.5 9.1l9.7 0.0M14.2 17.1l9.7 0.0M14.8 27.1l9.7 0.0M12.9 33.1l9.7 0.0M18.1 43.1l9.7 0.0M17.6 51.1l9.7 0.0M15.8 55.1l9.7 0.0M14.0 61.1l9.7 0.0M17.8 65.1l9.7 0.0M13.4 75.1l9.7 0.0M18.9 81.1l9.7 0.0M18.0 89.1l9.7 0.0M13.3 95.1l9.7 0.0M16.5 99.1l9.7 0.0M13.8 109.1l9.7 0.0M16.4 119.1l9.7 0.0M13.0 129.1l9.7 0.0M12.7 137.1l9.7 0.0M27.0 5.1l9.7 0.0M24.1 13.1l9.7 0.0M26.7 21.1l9.7 0.0M24.4 31.1l9.7 0.0M27.0 39.1l9.7 0.0M27.9 49.1l9.7 0.0M24.1 53.1l9.7 0.0M26.2 59.1l9.7 0.0M27.7 65.1l9.7 0.0M23.8 73.1l9.7 0.0M26.7 79.1l9.7 0.0M27.3 87.1l9.7 0.0M23.8 93.1l9.7 0.0M28.0 99.1l9.7 0.0M26.7 103.1l9.7 0.0M24.9 113.1l9.7 0.0M29.0 117.1l9.7 0.0M23.2 123.1l9.7 0.0M24.2 133.1l9.7 0.0M24.7 137.1l9.7 0.0M35.8 13.1l9.7 0.0M34.0 23.1l9.7 0.0M35.7 27.1l9.7 0.0M35.0 31.1l9.7 0.0M41.0 41.1l9.7 0.0M37.0 51.1l9.7 0.0M35.3 61.1l9.7 0.0M36.1 71.1l9.7 0.0M37.1 81.1l9.7 0.0M37.5 87.1l9.7 0.0M36.3 97.1l9.7 0.0M40.2 101.1l9.7 0.0M37.8 105.1l9.7 0.0M37.2 115.1l9.7 0.0M32.7 125.1l9.7 0.0M33.7 133.1l9.7 0.0M34.2 137.1l9.7 0.0M45.2 11.1l9.7 0.0M45.8 21.1l9.7 0.0M46.3 29.1l9.7 0.0M45.3 33.1l9.7 0.0M48.0 39.1l9.7 0.0M47.1 47.1l9.7 0.0M45.7 51.1l9.7 0.0M47.1 61.1l9.7 0.0M46.5 69.1l9.7 0.0M47.6 79.1l9.7 0.0M46.2 85.1l9.7 0.0M48.2 91.1l9.7 0.0M46.2 95.1l9.7 0.0M47.8 105.1l9.7 0.0M46.2 113.1l9.7 0.0M46.2 121.1l9.7 0.0M45.4 129.1l9.7 0.0M46.8 135.1l9.7 0.0M59.0 7.1l9.7 0.0M56.2 15.1l9.7 0.0M55.3 23.1l9.7 0.0M56.3 31.1l9.7 0.0M57.7 37.1l9.7 0.0M60.7 41.1l9.7 0.0M58.0 45.1l9.7 0.0M57.4 51.1l9.7 0.0M56.9 55.1l9.7 0.0M59.7 65.1l9.7 0.0M55.6 71.1l9.7 0.0M55.7 75.1l9.7 0.0M55.1 85.1l9.7 0.0M58.0 91.1l9.7 0.0M56.3 95.1l9.7 0.0M58.4 103.1l9.7 0.0M57.9 113.1l9.7 0.0M56.9 119.1l9.7 0.0M56.1 123.1l9.7 0.0M53.9 133.1l9.7 0.0M66.9 5.1l9.7 0.0M66.5 9.1l9.7 0.0M62.6 13.1l9.7 0.0M67.2 21.1l9.7 0.0M66.1 31.1l9.7 0.0M68.0 41.1l9.7 0.0M66.3 45.1l9.7 0.0M67.2 51.1l9.7 0.0M67.4 55.1l9.7 0.0M69.9 63.1l9.7 0.0M66.1 73.1l9.7 0.0M67.4 77.1l9.7 0.0M68.8 81.1l9.7 0.0M69.6 89.1l9.7 0.0M69.6 93.1l9.7 0.0M68.5 99.1l9.7 0.0M66.7 109.1l9.7 0.0M68.0 113.1l9.7 0.0M65.6 121.1l9.7 0.0M67.3 127.1l9.7 0.0M66.9 131.1l9.7 0.0M78.0 7.1l9.7 0.0M74.0 13.1l9.7 0.0M77.3 23.1l9.7 0.0M76.3 31.1l9.7 0.0M79.8 37.1l9.7 0.0M78.0 47.1l9.7 0.0M78.3 51.1l9.7 0.0M76.4 61.1l9.7 0.0M80.4 65.1l9.7 0.0M76.0 71.1l9.7 0.0M78.1 81.1l9.7 0.0M77.2 85.1l9.7 0.0M78.8 93.1l9.7 0.0M79.6 101.1l9.7 0.0M77.4 111.1l9.7 0.0M78.3 119.1l9.7 0.0M77.2 127.1l9.7 0.0M75.7 137.1l9.7 0.0M88.3 9.1l9.7 0.0M84.1 17.1l9.7 0.0M85.0 25.1l9.7 0.0M86.7 31.1l9.7 0.0M87.0 35.1l9.7 0.0M88.5 39.1l9.7 0.0M88.3 47.1l9.7 0.0M89.0 53.1l9.7 0.0M90.0 59.1l9.7 0.0M89.7 69.1l9.7 0.0M86.8 77.1l9.7 0.0M88.3 81.1l9.7 0.0M89.1 91.1l9.7 0.0M89.7 99.1l9.7 0.0M88.1 113.1l9.7 0.0M91.1 117.1l9.7 0.0M87.6 127.1l9.7 0.0M84.6 137.1l9.7 0.0M97.6 9.1l9.7 0.0M97.0 19.1l9.7 0.0M95.5 25.1l9.7 0.0M97.7 35.1l9.7 0.0M98.3 39.1l9.7 0.0M97.1 45.1l9.7 0.0M99.1 51.1l9.7 0.0M98.0 61.1l9.7 0.0M97.4 69.1l9.7 0.0M95.7 77.1l9.7 0.0M98.0 85.1l9.7 0.0M96.0 95.1l9.7 0.0M100.4 101.1l9.7 0.0M96.8 105.1l9.7 0.0M95.3 109.1l9.7 0.0M98.9 115.1l9.7 0.0M97.8 125.1l9.7 0.0M96.6 131.1l9.7 0.0M94.5 137.1l9.7 0.0M107.6 7.1l9.7 0.0M106.9 17.1l9.7 0.0M107.8 27.1l9.7 0.0M107.2 31.1l9.7 0.0M111.2 41.1l9.7 0.0M111.5 49.1l9.7 0.0M109.7 59.1l9.7 0.0M109.8 67.1l9.7 0.0M104.5 73.1l9.7 0.0M108.2 79.1l9.7 0.0M110.9 83.1l9.7 0.0M107.2 93.1l9.7 0.0M110.6 101.1l9.7 0.0M109.9 105.1l9.7 0.0M105.7 109.1l9.7 0.0M111.6 119.1l9.7 0.0M106.4 125.1l9.7 0.0M105.7 133.1l9.7 0.0M106.7 137.1l9.7 0.0M118.4 7.1l9.7 0.0M118.0 13.1l9.7 0.0M119.2 21.1l9.7 0.0M118.0 27.1l9.7 0.0M117.2 35.1l9.7 0.0M119.4 39.1l9.7 0.0M120.7 47.1l9.7 0.0M121.5 51.1l9.7 0.0M121.1 59.1l9.7 0.0M120.4 63.1l9.7 0.0M118.8 67.1l9.7 0.0M118.7 77.1l9.7 0.0M120.7 87.1l9.7 0.0M120.9 91.1l9.7 0.0M122.0 101.1l9.7 0.0M118.1 111.1l9.7 0.0M120.8 115.1l9.7 0.0M121.5 121.1l9.7 0.0M115.3 129.1l9.7 0.0M116.6 137.1l9.7 0.0M129.1 9.1l9.7 0.0M128.2 17.1l9.7 0.0M127.4 27.1l9.7 0.0M126.4 33.1l9.7 0.0M130.3 43.1l9.7 0.0M129.4 53.1l9.7 0.0M131.2 57.1l9.7 0.0M130.7 63.1l9.7 0.0M126.9 73.1l9.7 0.0M130.7 79.1l9.7 0.0M131.7 89.1l9.7 0.0M127.8 95.1l9.7 0.0M129.8 103.1l9.7 0.0M129.0 111.1l9.7 0.0M131.3 121.1l9.7 0.0M126.1 131.1l9.7 0.0"/>
</g>
<rect x="121.25" y="0.50" width="21.15" height="24.90" fill="#fff" fill-opacity="0.72"/>
<text x="131.02" y="17.70" text-anchor="middle" font-size="13.5" font-weight="bold">e</text>
<rect x="0.50" y="0.50" width="141.90" height="141.70" fill="none" stroke="#000" stroke-width="1.3"/>
<g clip-path="url(#clf)">
<path fill="none" stroke="#1b9e77" stroke-width="1.97" d="M183.7 6.2l9.7 0.0M182.3 8.2l9.7 0.0M180.9 10.2l9.7 0.0M181.1 12.2l9.7 0.0M181.7 16.2l9.7 0.0M180.0 18.2l9.7 0.0M179.7 22.2l9.7 0.0M181.5 24.2l9.7 0.0M182.7 26.2l9.7 0.0M181.3 28.2l9.7 0.0M181.3 32.2l9.7 0.0M182.3 34.2l9.7 0.0M180.8 36.2l9.7 0.0M181.3 40.2l9.7 0.0M183.5 42.2l9.7 0.0M182.9 44.2l9.7 0.0M179.4 48.2l9.7 0.0M181.2 52.2l9.7 0.0M182.5 54.2l9.7 0.0M179.5 58.2l9.7 0.0M180.2 62.2l9.7 0.0M182.0 64.2l9.7 0.0M182.7 66.2l9.7 0.0M181.0 68.2l9.7 0.0M180.1 72.2l9.7 0.0M179.1 74.2l9.7 0.0M181.7 78.2l9.7 0.0M181.6 80.2l9.7 0.0M181.7 82.2l9.7 0.0M180.0 86.2l9.7 0.0M182.6 90.2l9.7 0.0M181.9 92.2l9.7 0.0M180.3 94.2l9.7 0.0M180.8 98.2l9.7 0.0M180.1 102.2l9.7 0.0M179.5 104.2l9.7 0.0M179.3 106.2l9.7 0.0M180.2 110.2l9.7 0.0M178.0 112.2l9.7 0.0M178.2 116.2l9.7 0.0M180.7 118.2l9.7 0.0M181.9 120.2l9.7 0.0M182.5 122.2l9.7 0.0M180.4 126.2l9.7 0.0M179.4 128.2l9.7 0.0M179.0 130.2l9.7 0.0M179.5 132.2l9.7 0.0M180.0 136.2l9.7 0.0M194.9 6.2l9.7 0.0M192.3 8.2l9.7 0.0M191.4 12.2l9.7 0.0M192.2 14.2l9.7 0.0M191.1 16.2l9.7 0.0M190.0 18.2l9.7 0.0M190.2 22.2l9.7 0.0M191.6 24.2l9.7 0.0M192.2 28.2l9.7 0.0M190.6 30.2l9.7 0.0M190.7 32.2l9.7 0.0M190.5 34.2l9.7 0.0M190.0 38.2l9.7 0.0M191.0 40.2l9.7 0.0M191.4 44.2l9.7 0.0M189.4 46.2l9.7 0.0M189.2 48.2l9.7 0.0M192.0 52.2l9.7 0.0M192.4 54.2l9.7 0.0M191.3 56.2l9.7 0.0M189.7 60.2l9.7 0.0M190.7 62.2l9.7 0.0M191.6 64.2l9.7 0.0M193.4 66.2l9.7 0.0M193.6 70.2l9.7 0.0M189.8 74.2l9.7 0.0M191.5 76.2l9.7 0.0M194.1 78.2l9.7 0.0M190.9 82.2l9.7 0.0M189.0 84.2l9.7 0.0M189.8 86.2l9.7 0.0M191.6 88.2l9.7 0.0M192.9 92.2l9.7 0.0M191.7 94.2l9.7 0.0M191.5 96.2l9.7 0.0M193.3 98.2l9.7 0.0M191.0 102.2l9.7 0.0M190.5 106.2l9.7 0.0M190.7 108.2l9.7 0.0M190.9 110.2l9.7 0.0M188.3 112.2l9.7 0.0M188.4 116.2l9.7 0.0M190.2 118.2l9.7 0.0M193.3 122.2l9.7 0.0M192.1 124.2l9.7 0.0M190.4 128.2l9.7 0.0M190.8 132.2l9.7 0.0M190.9 134.2l9.7 0.0M188.6 136.2l9.7 0.0M201.6 8.2l9.7 0.0M201.7 10.2l9.7 0.0M203.1 12.2l9.7 0.0M202.4 16.2l9.7 0.0M199.3 20.2l9.7 0.0M201.4 22.2l9.7 0.0M205.4 26.2l9.7 0.0M201.4 30.2l9.7 0.0M202.2 34.2l9.7 0.0M201.3 36.2l9.7 0.0M200.7 38.2l9.7 0.0M200.8 40.2l9.7 0.0M200.8 44.2l9.7 0.0M200.9 46.2l9.7 0.0M200.7 50.2l9.7 0.0M202.6 52.2l9.7 0.0M203.8 54.2l9.7 0.0M202.3 56.2l9.7 0.0M198.9 60.2l9.7 0.0M201.9 64.2l9.7 0.0M203.5 66.2l9.7 0.0M203.4 70.2l9.7 0.0M202.0 72.2l9.7 0.0M200.2 74.2l9.7 0.0M201.9 76.2l9.7 0.0M202.0 80.2l9.7 0.0M198.7 84.2l9.7 0.0M199.7 86.2l9.7 0.0M202.2 88.2l9.7 0.0M202.3 90.2l9.7 0.0M200.4 94.2l9.7 0.0M201.1 96.2l9.7 0.0M201.9 98.2l9.7 0.0M200.7 102.2l9.7 0.0M199.4 106.2l9.7 0.0M200.8 108.2l9.7 0.0M202.6 110.2l9.7 0.0M199.2 114.2l9.7 0.0M199.2 116.2l9.7 0.0M198.7 118.2l9.7 0.0M202.2 122.2l9.7 0.0M202.5 124.2l9.7 0.0M201.6 126.2l9.7 0.0M200.0 128.2l9.7 0.0M199.4 132.2l9.7 0.0M200.5 134.2l9.7 0.0M199.6 138.2l9.7 0.0M213.0 8.2l9.7 0.0M212.8 10.2l9.7 0.0M213.2 12.2l9.7 0.0M212.0 16.2l9.7 0.0M211.0 20.2l9.7 0.0M212.8 22.2l9.7 0.0M213.2 24.2l9.7 0.0M214.5 26.2l9.7 0.0M211.6 30.2l9.7 0.0M213.3 34.2l9.7 0.0M212.2 36.2l9.7 0.0M211.1 38.2l9.7 0.0M211.3 40.2l9.7 0.0M211.4 44.2l9.7 0.0M211.6 46.2l9.7 0.0M211.2 48.2l9.7 0.0M212.8 52.2l9.7 0.0M214.5 54.2l9.7 0.0M212.8 56.2l9.7 0.0M212.2 58.2l9.7 0.0M210.7 62.2l9.7 0.0M211.2 64.2l9.7 0.0M212.0 66.2l9.7 0.0M211.6 68.2l9.7 0.0M214.5 72.2l9.7 0.0M214.0 74.2l9.7 0.0M214.8 78.2l9.7 0.0M210.9 82.2l9.7 0.0M209.5 84.2l9.7 0.0M210.2 86.2l9.7 0.0M212.2 90.2l9.7 0.0M211.5 92.2l9.7 0.0M212.2 96.2l9.7 0.0M213.8 98.2l9.7 0.0M213.1 100.2l9.7 0.0M212.2 102.2l9.7 0.0M208.5 106.2l9.7 0.0M209.9 108.2l9.7 0.0M210.6 112.2l9.7 0.0M209.6 114.2l9.7 0.0M210.8 116.2l9.7 0.0M210.9 118.2l9.7 0.0M212.2 122.2l9.7 0.0M212.2 124.2l9.7 0.0M211.7 126.2l9.7 0.0M208.0 130.2l9.7 0.0M209.6 132.2l9.7 0.0M210.2 134.2l9.7 0.0M208.4 138.2l9.7 0.0M223.7 6.2l9.7 0.0M222.5 10.2l9.7 0.0M223.6 12.2l9.7 0.0M224.4 14.2l9.7 0.0M222.8 16.2l9.7 0.0M221.3 20.2l9.7 0.0M222.4 22.2l9.7 0.0M222.4 24.2l9.7 0.0M222.8 26.2l9.7 0.0M220.3 30.2l9.7 0.0M222.5 32.2l9.7 0.0M224.6 34.2l9.7 0.0M223.0 36.2l9.7 0.0M222.7 40.2l9.7 0.0M224.0 44.2l9.7 0.0M221.0 48.2l9.7 0.0M221.4 50.2l9.7 0.0M225.3 54.2l9.7 0.0M221.8 58.2l9.7 0.0M220.6 62.2l9.7 0.0M222.3 64.2l9.7 0.0M223.5 66.2l9.7 0.0M222.4 68.2l9.7 0.0M224.2 72.2l9.7 0.0M223.3 74.2l9.7 0.0M224.0 78.2l9.7 0.0M222.4 80.2l9.7 0.0M219.8 84.2l9.7 0.0M221.3 86.2l9.7 0.0M221.6 88.2l9.7 0.0M222.7 90.2l9.7 0.0M222.7 94.2l9.7 0.0M223.6 98.2l9.7 0.0M222.0 100.2l9.7 0.0M220.0 104.2l9.7 0.0M219.7 106.2l9.7 0.0M221.0 108.2l9.7 0.0M221.6 110.2l9.7 0.0M218.1 114.2l9.7 0.0M220.1 116.2l9.7 0.0M220.8 118.2l9.7 0.0M224.5 122.2l9.7 0.0M223.6 124.2l9.7 0.0M222.9 126.2l9.7 0.0M219.7 130.2l9.7 0.0M221.8 132.2l9.7 0.0M223.6 134.2l9.7 0.0M221.9 136.2l9.7 0.0M233.9 6.2l9.7 0.0M230.7 10.2l9.7 0.0M233.0 12.2l9.7 0.0M234.4 14.2l9.7 0.0M233.6 16.2l9.7 0.0M231.4 20.2l9.7 0.0M232.7 22.2l9.7 0.0M233.7 26.2l9.7 0.0M230.2 30.2l9.7 0.0M231.9 32.2l9.7 0.0M233.9 36.2l9.7 0.0M233.7 40.2l9.7 0.0M235.0 42.2l9.7 0.0M233.8 44.2l9.7 0.0M230.8 48.2l9.7 0.0M231.4 50.2l9.7 0.0M233.9 52.2l9.7 0.0M234.7 56.2l9.7 0.0M232.5 58.2l9.7 0.0M230.3 60.2l9.7 0.0M232.7 64.2l9.7 0.0M234.5 66.2l9.7 0.0M232.8 68.2l9.7 0.0M232.0 72.2l9.7 0.0M231.3 74.2l9.7 0.0M233.3 76.2l9.7 0.0M234.1 80.2l9.7 0.0M233.2 82.2l9.7 0.0M231.2 86.2l9.7 0.0M233.4 90.2l9.7 0.0M233.6 92.2l9.7 0.0M232.9 94.2l9.7 0.0M233.6 98.2l9.7 0.0M232.2 102.2l9.7 0.0M230.0 104.2l9.7 0.0M228.1 106.2l9.7 0.0M229.4 108.2l9.7 0.0M229.5 112.2l9.7 0.0M229.5 114.2l9.7 0.0M232.0 116.2l9.7 0.0M233.9 118.2l9.7 0.0M234.6 122.2l9.7 0.0M232.2 126.2l9.7 0.0M230.6 128.2l9.7 0.0M229.3 130.2l9.7 0.0M232.5 134.2l9.7 0.0M231.8 136.2l9.7 0.0M231.2 138.2l9.7 0.0M242.8 8.2l9.7 0.0M241.2 10.2l9.7 0.0M244.9 14.2l9.7 0.0M243.9 16.2l9.7 0.0M242.4 18.2l9.7 0.0M240.9 20.2l9.7 0.0M243.7 24.2l9.7 0.0M244.1 26.2l9.7 0.0M241.8 30.2l9.7 0.0M243.1 32.2l9.7 0.0M244.4 36.2l9.7 0.0M244.4 40.2l9.7 0.0M244.6 42.2l9.7 0.0M240.4 46.2l9.7 0.0M240.0 48.2l9.7 0.0M243.8 52.2l9.7 0.0M244.4 54.2l9.7 0.0M242.8 56.2l9.7 0.0M242.7 60.2l9.7 0.0M245.0 62.2l9.7 0.0M245.1 64.2l9.7 0.0M242.6 68.2l9.7 0.0M242.7 70.2l9.7 0.0M242.0 74.2l9.7 0.0M245.7 78.2l9.7 0.0M244.2 80.2l9.7 0.0M242.0 82.2l9.7 0.0M241.0 86.2l9.7 0.0M242.8 88.2l9.7 0.0M244.9 90.2l9.7 0.0M241.8 94.2l9.7 0.0M242.5 96.2l9.7 0.0M243.4 98.2l9.7 0.0M243.6 100.2l9.7 0.0M242.4 104.2l9.7 0.0M241.4 106.2l9.7 0.0M241.4 108.2l9.7 0.0M242.7 110.2l9.7 0.0M241.7 114.2l9.7 0.0M242.9 116.2l9.7 0.0M242.8 118.2l9.7 0.0M243.1 120.2l9.7 0.0M242.6 124.2l9.7 0.0M242.0 126.2l9.7 0.0M240.1 128.2l9.7 0.0M238.1 130.2l9.7 0.0M241.6 134.2l9.7 0.0M241.9 138.2l9.7 0.0M256.7 6.2l9.7 0.0M253.7 12.2l9.7 0.0M252.8 16.2l9.7 0.0M251.3 20.2l9.7 0.0M255.1 24.2l9.7 0.0M256.5 26.2l9.7 0.0M254.8 28.2l9.7 0.0M252.9 30.2l9.7 0.0M256.7 34.2l9.7 0.0M255.0 36.2l9.7 0.0M253.0 38.2l9.7 0.0M253.1 40.2l9.7 0.0M253.4 44.2l9.7 0.0M252.3 48.2l9.7 0.0M252.3 50.2l9.7 0.0M252.3 52.2l9.7 0.0M252.6 56.2l9.7 0.0M252.5 58.2l9.7 0.0M254.8 62.2l9.7 0.0M255.0 64.2l9.7 0.0M254.0 68.2l9.7 0.0M255.0 70.2l9.7 0.0M253.2 72.2l9.7 0.0M253.2 76.2l9.7 0.0M254.9 78.2l9.7 0.0M252.0 82.2l9.7 0.0M251.8 84.2l9.7 0.0M252.7 86.2l9.7 0.0M253.8 88.2l9.7 0.0M253.0 92.2l9.7 0.0M251.7 94.2l9.7 0.0M252.2 96.2l9.7 0.0M253.2 100.2l9.7 0.0M252.9 102.2l9.7 0.0M252.4 104.2l9.7 0.0M251.7 106.2l9.7 0.0M253.1 110.2l9.7 0.0M250.8 114.2l9.7 0.0M252.2 116.2l9.7 0.0M253.4 118.2l9.7 0.0M254.8 120.2l9.7 0.0M255.2 124.2l9.7 0.0M253.3 126.2l9.7 0.0M250.6 130.2l9.7 0.0M252.8 134.2l9.7 0.0M250.7 138.2l9.7 0.0M267.7 6.2l9.7 0.0M263.0 10.2l9.7 0.0M262.8 12.2l9.7 0.0M264.5 14.2l9.7 0.0M264.2 16.2l9.7 0.0M262.3 20.2l9.7 0.0M263.0 22.2l9.7 0.0M263.4 24.2l9.7 0.0M264.2 28.2l9.7 0.0M264.2 32.2l9.7 0.0M264.4 34.2l9.7 0.0M263.2 36.2l9.7 0.0M267.0 42.2l9.7 0.0M265.4 44.2l9.7 0.0M263.8 46.2l9.7 0.0M261.9 50.2l9.7 0.0M265.5 54.2l9.7 0.0M263.6 56.2l9.7 0.0M261.3 60.2l9.7 0.0M262.6 62.2l9.7 0.0M266.3 66.2l9.7 0.0M264.8 68.2l9.7 0.0M264.9 72.2l9.7 0.0M262.6 74.2l9.7 0.0M263.0 76.2l9.7 0.0M263.9 80.2l9.7 0.0M264.0 84.2l9.7 0.0M265.2 86.2l9.7 0.0M266.3 90.2l9.7 0.0M264.5 92.2l9.7 0.0M264.3 96.2l9.7 0.0M266.0 98.2l9.7 0.0M264.3 100.2l9.7 0.0M262.8 102.2l9.7 0.0M262.4 106.2l9.7 0.0M263.2 108.2l9.7 0.0M265.1 110.2l9.7 0.0M259.9 114.2l9.7 0.0M261.5 116.2l9.7 0.0M263.7 118.2l9.7 0.0M266.9 122.2l9.7 0.0M265.5 124.2l9.7 0.0M263.6 126.2l9.7 0.0M261.1 130.2l9.7 0.0M263.7 134.2l9.7 0.0M261.5 136.2l9.7 0.0M259.8 138.2l9.7 0.0M277.3 6.2l9.7 0.0M275.1 8.2l9.7 0.0M273.6 10.2l9.7 0.0M274.6 12.2l9.7 0.0M275.4 16.2l9.7 0.0M274.5 18.2l9.7 0.0M272.7 22.2l9.7 0.0M276.1 26.2l9.7 0.0M274.9 30.2l9.7 0.0M275.1 32.2l9.7 0.0M274.8 34.2l9.7 0.0M273.5 38.2l9.7 0.0M276.8 42.2l9.7 0.0M275.2 44.2l9.7 0.0M273.6 46.2l9.7 0.0M272.1 48.2l9.7 0.0M275.2 52.2l9.7 0.0M277.2 54.2l9.7 0.0M274.4 58.2l9.7 0.0M271.8 60.2l9.7 0.0M274.4 64.2l9.7 0.0M275.8 66.2l9.7 0.0M274.9 70.2l9.7 0.0M273.9 72.2l9.7 0.0M274.8 76.2l9.7 0.0M276.7 78.2l9.7 0.0M273.5 82.2l9.7 0.0M271.5 84.2l9.7 0.0M275.1 88.2l9.7 0.0M277.4 90.2l9.7 0.0M275.6 92.2l9.7 0.0M274.0 96.2l9.7 0.0M274.9 100.2l9.7 0.0M273.7 104.2l9.7 0.0M273.3 106.2l9.7 0.0M273.6 108.2l9.7 0.0M273.8 110.2l9.7 0.0M270.5 114.2l9.7 0.0M272.1 116.2l9.7 0.0M273.9 118.2l9.7 0.0M275.1 122.2l9.7 0.0M273.6 124.2l9.7 0.0M273.5 126.2l9.7 0.0M273.6 128.2l9.7 0.0M274.2 132.2l9.7 0.0M273.9 134.2l9.7 0.0M272.7 136.2l9.7 0.0M283.8 6.2l9.7 0.0M284.0 10.2l9.7 0.0M286.1 14.2l9.7 0.0M285.0 16.2l9.7 0.0M282.9 20.2l9.7 0.0M284.2 22.2l9.7 0.0M284.5 24.2l9.7 0.0M285.6 26.2l9.7 0.0M284.0 30.2l9.7 0.0M285.2 32.2l9.7 0.0M287.0 34.2l9.7 0.0M283.8 38.2l9.7 0.0M284.1 40.2l9.7 0.0M283.5 44.2l9.7 0.0M283.3 46.2l9.7 0.0M282.3 48.2l9.7 0.0M283.3 50.2l9.7 0.0M286.6 54.2l9.7 0.0M285.4 56.2l9.7 0.0M283.3 58.2l9.7 0.0M282.1 62.2l9.7 0.0M286.4 66.2l9.7 0.0M285.7 68.2l9.7 0.0M285.8 72.2l9.7 0.0M285.2 76.2l9.7 0.0M285.3 78.2l9.7 0.0M283.6 80.2l9.7 0.0M282.6 82.2l9.7 0.0M282.4 86.2l9.7 0.0M284.3 88.2l9.7 0.0M286.1 92.2l9.7 0.0M285.0 94.2l9.7 0.0M284.5 100.2l9.7 0.0M283.2 102.2l9.7 0.0M281.8 106.2l9.7 0.0M282.3 108.2l9.7 0.0M283.0 110.2l9.7 0.0M282.0 114.2l9.7 0.0M283.4 116.2l9.7 0.0M283.7 118.2l9.7 0.0M284.1 122.2l9.7 0.0M282.8 126.2l9.7 0.0M282.5 128.2l9.7 0.0M282.1 130.2l9.7 0.0M284.9 134.2l9.7 0.0M282.5 136.2l9.7 0.0M281.1 138.2l9.7 0.0M294.1 6.2l9.7 0.0M293.2 10.2l9.7 0.0M296.9 14.2l9.7 0.0M294.3 18.2l9.7 0.0M292.8 20.2l9.7 0.0M294.4 22.2l9.7 0.0M295.9 24.2l9.7 0.0M294.7 28.2l9.7 0.0M294.7 30.2l9.7 0.0M295.8 32.2l9.7 0.0M296.1 36.2l9.7 0.0M294.9 40.2l9.7 0.0M295.9 42.2l9.7 0.0M295.7 44.2l9.7 0.0M295.1 46.2l9.7 0.0M294.1 50.2l9.7 0.0M294.2 52.2l9.7 0.0M294.9 54.2l9.7 0.0M294.0 58.2l9.7 0.0M292.3 60.2l9.7 0.0M294.3 64.2l9.7 0.0M296.1 66.2l9.7 0.0M295.5 70.2l9.7 0.0M295.4 74.2l9.7 0.0M296.8 76.2l9.7 0.0M297.8 78.2l9.7 0.0M294.3 82.2l9.7 0.0M292.9 84.2l9.7 0.0M294.7 88.2l9.7 0.0M294.4 92.2l9.7 0.0M294.0 94.2l9.7 0.0M298.1 98.2l9.7 0.0M294.2 102.2l9.7 0.0M291.7 104.2l9.7 0.0M291.6 108.2l9.7 0.0M294.3 110.2l9.7 0.0M294.1 112.2l9.7 0.0M293.8 114.2l9.7 0.0M294.5 118.2l9.7 0.0M296.1 120.2l9.7 0.0M297.8 122.2l9.7 0.0M296.4 124.2l9.7 0.0M293.5 128.2l9.7 0.0M291.6 130.2l9.7 0.0M293.7 134.2l9.7 0.0M293.5 136.2l9.7 0.0M293.1 138.2l9.7 0.0M302.8 10.2l9.7 0.0M305.4 14.2l9.7 0.0M305.4 16.2l9.7 0.0M305.2 18.2l9.7 0.0M304.2 20.2l9.7 0.0M305.3 24.2l9.7 0.0M304.0 28.2l9.7 0.0M303.0 30.2l9.7 0.0M306.3 38.2l9.7 0.0M307.0 40.2l9.7 0.0M305.8 44.2l9.7 0.0M303.5 48.2l9.7 0.0M304.8 50.2l9.7 0.0M305.3 52.2l9.7 0.0M306.2 54.2l9.7 0.0M306.3 58.2l9.7 0.0M304.3 60.2l9.7 0.0M304.3 62.2l9.7 0.0M304.5 64.2l9.7 0.0M304.6 68.2l9.7 0.0M306.8 70.2l9.7 0.0M306.4 72.2l9.7 0.0M306.4 76.2l9.7 0.0M306.2 80.2l9.7 0.0M305.1 82.2l9.7 0.0M305.9 86.2l9.7 0.0M306.6 90.2l9.7 0.0M304.9 94.2l9.7 0.0M306.5 100.2l9.7 0.0M301.9 104.2l9.7 0.0M299.9 106.2l9.7 0.0M302.1 108.2l9.7 0.0M302.7 112.2l9.7 0.0M301.0 114.2l9.7 0.0M303.0 116.2l9.7 0.0M305.3 118.2l9.7 0.0M305.3 124.2l9.7 0.0M303.4 128.2l9.7 0.0M303.8 132.2l9.7 0.0M304.8 134.2l9.7 0.0M301.4 138.2l9.7 0.0"/>
<path fill="none" stroke="#1b9e77" stroke-width="1.35" d="M182.8 13.9l9.7 0.0M178.4 19.9l9.7 0.0M179.5 29.9l9.7 0.0M178.8 37.9l9.7 0.0M181.9 45.9l9.7 0.0M180.8 49.9l9.7 0.0M181.3 55.9l9.7 0.0M178.5 59.9l9.7 0.0M181.2 69.9l9.7 0.0M180.4 75.9l9.7 0.0M179.9 83.9l9.7 0.0M181.1 87.9l9.7 0.0M180.9 95.9l9.7 0.0M180.3 99.9l9.7 0.0M179.7 107.9l9.7 0.0M181.3 123.9l9.7 0.0M181.7 133.9l9.7 0.0M177.7 137.9l9.7 0.0M190.9 9.9l9.7 0.0M189.5 19.9l9.7 0.0M192.7 25.9l9.7 0.0M190.2 35.9l9.7 0.0M192.0 41.9l9.7 0.0M191.1 49.9l9.7 0.0M190.5 57.9l9.7 0.0M192.6 67.9l9.7 0.0M191.5 71.9l9.7 0.0M192.5 79.9l9.7 0.0M193.7 89.9l9.7 0.0M191.7 99.9l9.7 0.0M191.5 103.9l9.7 0.0M186.5 113.9l9.7 0.0M192.1 119.9l9.7 0.0M190.7 125.9l9.7 0.0M190.1 129.9l9.7 0.0M186.7 137.9l9.7 0.0M201.6 5.9l9.7 0.0M204.7 13.9l9.7 0.0M200.5 17.9l9.7 0.0M203.6 23.9l9.7 0.0M203.6 27.9l9.7 0.0M201.4 31.9l9.7 0.0M201.1 41.9l9.7 0.0M200.0 47.9l9.7 0.0M200.5 57.9l9.7 0.0M199.8 61.9l9.7 0.0M202.6 67.9l9.7 0.0M203.5 77.9l9.7 0.0M200.1 81.9l9.7 0.0M201.6 91.9l9.7 0.0M201.6 99.9l9.7 0.0M199.9 103.9l9.7 0.0M200.9 111.9l9.7 0.0M200.5 119.9l9.7 0.0M198.1 129.9l9.7 0.0M213.4 5.9l9.7 0.0M213.5 13.9l9.7 0.0M211.8 17.9l9.7 0.0M212.9 27.9l9.7 0.0M212.6 31.9l9.7 0.0M212.0 41.9l9.7 0.0M212.9 49.9l9.7 0.0M210.6 59.9l9.7 0.0M214.4 69.9l9.7 0.0M213.8 75.9l9.7 0.0M212.6 79.9l9.7 0.0M211.6 87.9l9.7 0.0M209.7 93.9l9.7 0.0M210.1 103.9l9.7 0.0M210.5 109.9l9.7 0.0M211.3 119.9l9.7 0.0M209.8 127.9l9.7 0.0M209.5 135.9l9.7 0.0M223.3 7.9l9.7 0.0M222.3 17.9l9.7 0.0M221.6 27.9l9.7 0.0M220.8 37.9l9.7 0.0M224.7 41.9l9.7 0.0M223.3 45.9l9.7 0.0M223.2 51.9l9.7 0.0M223.9 55.9l9.7 0.0M219.5 59.9l9.7 0.0M224.4 69.9l9.7 0.0M223.5 75.9l9.7 0.0M220.5 81.9l9.7 0.0M222.8 91.9l9.7 0.0M223.2 95.9l9.7 0.0M220.6 101.9l9.7 0.0M219.9 111.9l9.7 0.0M222.7 119.9l9.7 0.0M220.9 127.9l9.7 0.0M220.5 137.9l9.7 0.0M232.2 7.9l9.7 0.0M232.7 17.9l9.7 0.0M233.3 23.9l9.7 0.0M232.0 27.9l9.7 0.0M233.9 33.9l9.7 0.0M232.8 37.9l9.7 0.0M236.3 53.9l9.7 0.0M231.0 61.9l9.7 0.0M232.5 69.9l9.7 0.0M235.7 77.9l9.7 0.0M231.2 83.9l9.7 0.0M232.2 87.9l9.7 0.0M233.4 95.9l9.7 0.0M232.7 99.9l9.7 0.0M229.9 109.9l9.7 0.0M234.7 119.9l9.7 0.0M233.2 123.9l9.7 0.0M230.4 131.9l9.7 0.0M244.3 5.9l9.7 0.0M243.1 11.9l9.7 0.0M242.0 21.9l9.7 0.0M242.8 27.9l9.7 0.0M245.9 33.9l9.7 0.0M244.4 37.9l9.7 0.0M242.6 43.9l9.7 0.0M242.0 49.9l9.7 0.0M242.8 57.9l9.7 0.0M245.6 65.9l9.7 0.0M242.1 71.9l9.7 0.0M244.1 75.9l9.7 0.0M239.9 83.9l9.7 0.0M243.9 91.9l9.7 0.0M243.2 101.9l9.7 0.0M241.6 111.9l9.7 0.0M243.3 121.9l9.7 0.0M239.7 131.9l9.7 0.0M241.5 135.9l9.7 0.0M254.9 7.9l9.7 0.0M254.9 13.9l9.7 0.0M252.2 17.9l9.7 0.0M253.4 21.9l9.7 0.0M254.8 31.9l9.7 0.0M253.7 41.9l9.7 0.0M253.0 45.9l9.7 0.0M252.8 53.9l9.7 0.0M252.8 59.9l9.7 0.0M256.0 65.9l9.7 0.0M251.6 73.9l9.7 0.0M253.2 79.9l9.7 0.0M254.6 89.9l9.7 0.0M253.4 97.9l9.7 0.0M252.4 107.9l9.7 0.0M251.7 111.9l9.7 0.0M256.7 121.9l9.7 0.0M252.0 127.9l9.7 0.0M251.2 131.9l9.7 0.0M251.7 135.9l9.7 0.0M265.6 7.9l9.7 0.0M263.6 17.9l9.7 0.0M264.4 25.9l9.7 0.0M264.0 29.9l9.7 0.0M262.3 37.9l9.7 0.0M262.3 47.9l9.7 0.0M263.7 51.9l9.7 0.0M262.0 57.9l9.7 0.0M264.2 63.9l9.7 0.0M266.7 69.9l9.7 0.0M263.9 77.9l9.7 0.0M265.2 87.9l9.7 0.0M262.8 93.9l9.7 0.0M262.4 103.9l9.7 0.0M262.5 111.9l9.7 0.0M264.6 119.9l9.7 0.0M261.3 127.9l9.7 0.0M263.0 131.9l9.7 0.0M276.2 13.9l9.7 0.0M272.4 19.9l9.7 0.0M273.8 23.9l9.7 0.0M275.8 27.9l9.7 0.0M274.1 35.9l9.7 0.0M274.7 39.9l9.7 0.0M273.1 49.9l9.7 0.0M275.5 55.9l9.7 0.0M273.7 61.9l9.7 0.0M274.5 67.9l9.7 0.0M272.9 73.9l9.7 0.0M275.3 79.9l9.7 0.0M273.4 85.9l9.7 0.0M273.8 93.9l9.7 0.0M275.5 97.9l9.7 0.0M274.7 101.9l9.7 0.0M271.5 111.9l9.7 0.0M274.7 119.9l9.7 0.0M273.5 129.9l9.7 0.0M271.5 137.9l9.7 0.0M284.0 7.9l9.7 0.0M285.0 11.9l9.7 0.0M284.0 17.9l9.7 0.0M284.6 27.9l9.7 0.0M285.7 35.9l9.7 0.0M284.2 41.9l9.7 0.0M285.3 51.9l9.7 0.0M281.4 59.9l9.7 0.0M284.5 63.9l9.7 0.0M287.5 69.9l9.7 0.0M284.5 73.9l9.7 0.0M281.9 83.9l9.7 0.0M286.7 89.9l9.7 0.0M286.1 97.9l9.7 0.0M282.3 103.9l9.7 0.0M282.2 111.9l9.7 0.0M283.7 119.9l9.7 0.0M283.8 123.9l9.7 0.0M283.3 131.9l9.7 0.0M294.2 7.9l9.7 0.0M294.9 11.9l9.7 0.0M296.3 15.9l9.7 0.0M296.8 25.9l9.7 0.0M297.2 33.9l9.7 0.0M293.8 37.9l9.7 0.0M293.5 47.9l9.7 0.0M294.1 55.9l9.7 0.0M293.1 61.9l9.7 0.0M294.7 67.9l9.7 0.0M296.1 71.9l9.7 0.0M295.2 79.9l9.7 0.0M294.0 85.9l9.7 0.0M295.2 89.9l9.7 0.0M296.6 95.9l9.7 0.0M296.0 99.9l9.7 0.0M289.9 105.9l9.7 0.0M294.5 115.9l9.7 0.0M295.5 125.9l9.7 0.0M291.7 131.9l9.7 0.0M305.4 7.9l9.7 0.0M304.7 11.9l9.7 0.0M305.5 21.9l9.7 0.0M305.4 25.9l9.7 0.0M305.0 31.9l9.7 0.0M306.9 35.9l9.7 0.0M304.8 45.9l9.7 0.0M306.5 55.9l9.7 0.0M304.8 65.9l9.7 0.0M305.7 73.9l9.7 0.0M304.6 83.9l9.7 0.0M305.9 87.9l9.7 0.0M305.2 91.9l9.7 0.0M303.8 101.9l9.7 0.0M304.3 109.9l9.7 0.0M304.4 125.9l9.7 0.0M302.6 129.9l9.7 0.0M303.5 135.9l9.7 0.0"/>
</g>
<rect x="300.13" y="0.50" width="17.87" height="24.90" fill="#fff" fill-opacity="0.72"/>
<text x="308.26" y="17.70" text-anchor="middle" font-size="13.5" font-weight="bold">f</text>
<rect x="175.70" y="0.50" width="142.30" height="141.70" fill="none" stroke="#000" stroke-width="1.3"/>
<g clip-path="url(#clg)">
<path fill="none" stroke="#7570b3" stroke-width="1.97" d="M388.4 5.0l4.7 8.1M386.4 9.5l4.7 8.1M374.7 9.3l4.7 8.1M374.2 12.4l4.7 8.1M372.0 12.6l4.7 8.1M370.0 13.1l4.7 8.1M394.0 14.8l4.7 8.1M391.4 14.3l4.7 8.1M388.2 16.7l4.7 8.1M374.4 20.7l4.7 8.1M372.7 21.8l4.7 8.1M370.7 26.4l4.7 8.1M421.2 5.8l4.7 8.1M395.6 25.5l4.7 8.1M393.0 24.9l4.7 8.1M389.0 26.1l4.7 8.1M385.1 27.3l4.7 8.1M383.7 28.9l4.7 8.1M381.1 28.3l4.7 8.1M378.7 28.2l4.7 8.1M377.1 33.4l4.7 8.1M448.3 4.7l4.7 8.1M426.8 15.6l4.7 8.1M412.8 27.3l4.7 8.1M408.2 27.3l4.7 8.1M405.2 30.1l4.7 8.1M392.3 35.7l4.7 8.1M388.5 37.2l4.7 8.1M383.4 36.4l4.7 8.1M380.9 48.0l4.7 8.1M376.5 48.4l4.7 8.1M373.9 47.9l4.7 8.1M369.1 47.6l4.7 8.1M473.7 4.8l4.7 8.1M469.5 5.5l4.7 8.1M454.6 7.6l4.7 8.1M435.0 21.8l4.7 8.1M433.1 22.5l4.7 8.1M431.6 23.8l4.7 8.1M429.5 28.3l4.7 8.1M413.9 33.2l4.7 8.1M411.1 36.4l4.7 8.1M410.0 42.5l4.7 8.1M407.1 41.3l4.7 8.1M405.2 42.2l4.7 8.1M394.0 46.8l4.7 8.1M390.0 47.8l4.7 8.1M388.8 49.7l4.7 8.1M388.3 52.8l4.7 8.1M385.0 55.0l4.7 8.1M379.1 52.9l4.7 8.1M376.0 55.4l4.7 8.1M375.0 57.8l4.7 8.1M372.3 57.1l4.7 8.1M369.5 60.4l4.7 8.1M368.8 63.1l4.7 8.1M491.0 6.8l4.7 8.1M487.1 7.9l4.7 8.1M485.6 9.3l4.7 8.1M480.4 8.3l4.7 8.1M478.7 9.5l4.7 8.1M477.4 11.2l4.7 8.1M476.7 14.0l4.7 8.1M422.9 44.8l4.7 8.1M420.0 43.8l4.7 8.1M415.8 44.5l4.7 8.1M415.1 47.3l4.7 8.1M414.5 50.2l4.7 8.1M412.1 50.0l4.7 8.1M407.5 50.2l4.7 8.1M404.9 49.6l4.7 8.1M403.0 50.3l4.7 8.1M401.5 51.7l4.7 8.1M399.4 56.1l4.7 8.1M396.2 54.5l4.7 8.1M392.4 55.9l4.7 8.1M384.7 62.7l4.7 8.1M381.4 64.8l4.7 8.1M380.2 66.7l4.7 8.1M378.4 67.7l4.7 8.1M374.2 72.4l4.7 8.1M369.5 72.3l4.7 8.1M495.1 13.8l4.7 8.1M491.0 14.6l4.7 8.1M486.5 15.0l4.7 8.1M483.6 17.9l4.7 8.1M483.0 20.8l4.7 8.1M482.4 23.8l4.7 8.1M476.7 21.9l4.7 8.1M434.8 49.5l4.7 8.1M432.0 48.5l4.7 8.1M428.5 50.4l4.7 8.1M426.8 51.5l4.7 8.1M425.0 52.3l4.7 8.1M421.8 54.9l4.7 8.1M419.9 55.5l4.7 8.1M418.3 56.9l4.7 8.1M414.5 58.2l4.7 8.1M411.3 60.6l4.7 8.1M409.2 61.0l4.7 8.1M406.0 63.4l4.7 8.1M497.2 21.5l4.7 8.1M495.5 22.5l4.7 8.1M493.9 23.7l4.7 8.1M490.3 25.6l4.7 8.1M487.6 28.7l4.7 8.1M465.9 39.2l4.7 8.1M464.3 40.5l4.7 8.1M461.2 43.1l4.7 8.1M459.4 43.9l4.7 8.1M455.8 45.7l4.7 8.1M445.2 51.4l4.7 8.1M444.3 53.9l4.7 8.1M441.4 56.9l4.7 8.1M439.0 56.6l4.7 8.1M436.0 55.5l4.7 8.1M425.1 64.7l4.7 8.1M421.9 67.0l4.7 8.1M420.5 68.6l4.7 8.1M419.0 69.9l4.7 8.1M414.4 70.0l4.7 8.1M411.6 69.1l4.7 8.1M408.4 71.7l4.7 8.1M465.6 50.7l4.7 8.1M463.1 50.4l4.7 8.1M461.7 51.9l4.7 8.1M459.3 55.7l4.7 8.1M457.2 56.2l4.7 8.1M455.9 57.9l4.7 8.1M452.6 60.2l4.7 8.1M449.7 59.2l4.7 8.1M447.9 60.0l4.7 8.1M446.7 62.0l4.7 8.1M444.5 66.3l4.7 8.1M439.2 69.1l4.7 8.1M422.8 76.7l4.7 8.1M421.3 77.9l4.7 8.1M368.9 107.2l4.7 8.1M487.4 52.4l4.7 8.1M485.2 52.7l4.7 8.1M482.1 51.3l4.7 8.1M478.3 52.8l4.7 8.1M477.4 55.2l4.7 8.1M476.8 58.1l4.7 8.1M472.0 57.8l4.7 8.1M470.1 58.6l4.7 8.1M468.7 60.1l4.7 8.1M468.4 63.5l4.7 8.1M465.4 66.4l4.7 8.1M463.6 67.2l4.7 8.1M457.2 68.2l4.7 8.1M411.3 96.6l4.7 8.1M409.3 97.2l4.7 8.1M391.6 106.6l4.7 8.1M485.9 61.9l4.7 8.1M483.9 62.5l4.7 8.1M480.7 64.9l4.7 8.1M480.2 67.9l4.7 8.1M476.4 69.4l4.7 8.1M473.5 68.5l4.7 8.1M471.9 73.6l4.7 8.1M471.6 77.2l4.7 8.1M467.9 78.6l4.7 8.1M416.5 105.7l4.7 8.1M411.6 105.2l4.7 8.1M408.7 104.2l4.7 8.1M405.4 106.4l4.7 8.1M393.6 114.0l4.7 8.1M391.8 114.8l4.7 8.1M388.6 117.4l4.7 8.1M387.1 118.8l4.7 8.1M500.0 66.4l4.7 8.1M498.2 67.2l4.7 8.1M494.2 68.2l4.7 8.1M490.3 69.4l4.7 8.1M489.1 71.4l4.7 8.1M486.6 75.1l4.7 8.1M480.9 77.2l4.7 8.1M477.8 75.9l4.7 8.1M475.8 80.3l4.7 8.1M475.4 83.7l4.7 8.1M473.7 84.8l4.7 8.1M467.9 86.7l4.7 8.1M444.7 98.4l4.7 8.1M442.1 102.1l4.7 8.1M441.6 105.2l4.7 8.1M438.6 104.0l4.7 8.1M426.3 106.7l4.7 8.1M415.1 115.2l4.7 8.1M411.0 116.1l4.7 8.1M407.0 117.2l4.7 8.1M495.2 78.0l4.7 8.1M434.6 113.1l4.7 8.1M433.6 115.3l4.7 8.1M431.1 114.9l4.7 8.1M427.8 117.3l4.7 8.1M426.1 126.2l4.7 8.1M486.8 99.5l4.7 8.1M483.0 100.8l4.7 8.1M478.8 101.5l4.7 8.1M476.0 100.8l4.7 8.1M434.1 128.2l4.7 8.1M495.8 103.0l4.7 8.1M493.2 102.5l4.7 8.1M491.8 104.0l4.7 8.1M490.0 108.9l4.7 8.1M486.9 107.5l4.7 8.1M483.5 109.7l4.7 8.1M481.7 110.5l4.7 8.1M478.1 112.3l4.7 8.1M476.6 113.8l4.7 8.1M495.9 115.1l4.7 8.1M494.7 117.2l4.7 8.1M492.3 121.0l4.7 8.1M489.2 119.7l4.7 8.1M486.4 118.8l4.7 8.1M474.9 126.9l4.7 8.1M467.6 130.2l4.7 8.1M496.5 128.2l4.7 8.1M489.9 128.8l4.7 8.1"/>
<path fill="none" stroke="#7570b3" stroke-width="1.35" d="M390.3 15.7l4.7 8.1M386.5 17.0l4.7 8.1M371.2 22.6l4.7 8.1M419.5 6.3l4.7 8.1M391.4 25.6l4.7 8.1M387.1 26.2l4.7 8.1M378.3 30.9l4.7 8.1M376.8 36.3l4.7 8.1M447.0 5.8l4.7 8.1M425.4 16.5l4.7 8.1M410.8 27.3l4.7 8.1M407.1 28.7l4.7 8.1M394.2 34.4l4.7 8.1M390.8 36.5l4.7 8.1M386.2 36.7l4.7 8.1M378.4 47.1l4.7 8.1M473.1 7.0l4.7 8.1M430.3 24.9l4.7 8.1M412.0 33.3l4.7 8.1M411.0 39.5l4.7 8.1M392.2 47.0l4.7 8.1M387.0 53.9l4.7 8.1M382.2 53.6l4.7 8.1M377.7 53.8l4.7 8.1M370.6 57.6l4.7 8.1M489.1 6.8l4.7 8.1M483.6 9.2l4.7 8.1M426.1 45.7l4.7 8.1M417.1 42.1l4.7 8.1M410.7 50.9l4.7 8.1M401.2 54.5l4.7 8.1M393.5 53.2l4.7 8.1M383.4 63.7l4.7 8.1M372.5 72.9l4.7 8.1M492.6 12.9l4.7 8.1M489.7 15.8l4.7 8.1M484.8 15.3l4.7 8.1M480.0 23.0l4.7 8.1M437.0 48.6l4.7 8.1M430.3 49.0l4.7 8.1M423.3 52.8l4.7 8.1M416.4 56.8l4.7 8.1M413.3 59.5l4.7 8.1M407.6 61.7l4.7 8.1M404.7 64.7l4.7 8.1M492.4 24.5l4.7 8.1M462.8 41.2l4.7 8.1M443.0 55.0l4.7 8.1M424.5 67.0l4.7 8.1M417.6 71.0l4.7 8.1M410.1 70.0l4.7 8.1M406.9 72.5l4.7 8.1M467.4 49.3l4.7 8.1M461.3 54.7l4.7 8.1M454.5 58.8l4.7 8.1M446.1 64.4l4.7 8.1M424.7 75.2l4.7 8.1M479.1 49.5l4.7 8.1M475.3 58.9l4.7 8.1M467.3 65.1l4.7 8.1M386.0 108.1l4.7 8.1M375.1 117.4l4.7 8.1M482.7 63.7l4.7 8.1M478.6 68.6l4.7 8.1M472.4 69.8l4.7 8.1M469.0 76.0l4.7 8.1M415.1 106.6l4.7 8.1M407.1 104.8l4.7 8.1M405.1 109.3l4.7 8.1M391.0 116.9l4.7 8.1M492.6 68.9l4.7 8.1M476.5 76.9l4.7 8.1M470.3 86.2l4.7 8.1M444.2 101.0l4.7 8.1M435.7 102.4l4.7 8.1M429.3 107.2l4.7 8.1M413.4 115.6l4.7 8.1M409.8 117.5l4.7 8.1M428.9 114.5l4.7 8.1M486.2 101.8l4.7 8.1M481.7 101.9l4.7 8.1M491.2 106.4l4.7 8.1M485.6 108.8l4.7 8.1M480.4 111.8l4.7 8.1M493.3 118.0l4.7 8.1M474.6 129.6l4.7 8.1M494.6 128.4l4.7 8.1"/>
<path fill="none" stroke="#d95f02" stroke-width="1.97" d="M369.9 135.4l4.7 -8.1M371.4 136.9l4.7 -8.1M373.0 138.1l4.7 -8.1M368.8 125.3l4.7 -8.1M374.3 127.9l4.7 -8.1M375.9 129.0l4.7 -8.1M379.6 130.6l4.7 -8.1M381.5 131.4l4.7 -8.1M382.6 137.4l4.7 -8.1M385.4 136.5l4.7 -8.1M390.9 135.0l4.7 -8.1M370.1 115.1l4.7 -8.1M371.5 116.6l4.7 -8.1M373.7 116.9l4.7 -8.1M404.2 132.0l4.7 -8.1M408.1 133.3l4.7 -8.1M411.3 135.7l4.7 -8.1M412.8 137.1l4.7 -8.1M368.8 101.3l4.7 -8.1M371.4 104.8l4.7 -8.1M375.8 105.3l4.7 -8.1M399.0 117.1l4.7 -8.1M410.7 124.7l4.7 -8.1M414.9 125.6l4.7 -8.1M418.0 128.1l4.7 -8.1M419.3 129.9l4.7 -8.1M423.6 130.4l4.7 -8.1M427.2 132.2l4.7 -8.1M427.8 135.2l4.7 -8.1M428.5 138.0l4.7 -8.1M373.1 93.8l4.7 -8.1M373.9 96.6l4.7 -8.1M378.5 96.6l4.7 -8.1M381.2 99.9l4.7 -8.1M384.1 98.9l4.7 -8.1M396.9 104.6l4.7 -8.1M398.6 105.7l4.7 -8.1M400.1 107.1l4.7 -8.1M401.8 108.2l4.7 -8.1M406.1 108.8l4.7 -8.1M435.2 126.4l4.7 -8.1M438.8 128.1l4.7 -8.1M442.5 129.7l4.7 -8.1M444.3 130.6l4.7 -8.1M446.1 131.5l4.7 -8.1M446.9 134.0l4.7 -8.1M450.5 135.8l4.7 -8.1M454.2 137.5l4.7 -8.1M396.4 97.4l4.7 -8.1M398.5 97.8l4.7 -8.1M400.8 97.9l4.7 -8.1M402.7 98.6l4.7 -8.1M406.1 100.7l4.7 -8.1M408.8 100.0l4.7 -8.1M411.5 99.3l4.7 -8.1M413.8 103.5l4.7 -8.1M415.9 107.7l4.7 -8.1M423.3 106.9l4.7 -8.1M425.1 107.9l4.7 -8.1M426.7 109.0l4.7 -8.1M428.4 114.1l4.7 -8.1M430.7 114.1l4.7 -8.1M433.7 112.9l4.7 -8.1M438.1 117.3l4.7 -8.1M442.0 118.5l4.7 -8.1M445.0 117.3l4.7 -8.1M446.6 122.6l4.7 -8.1M451.8 125.5l4.7 -8.1M453.7 126.2l4.7 -8.1M455.4 127.3l4.7 -8.1M456.1 130.1l4.7 -8.1M465.0 134.7l4.7 -8.1M466.5 136.0l4.7 -8.1M399.8 87.6l4.7 -8.1M403.6 89.1l4.7 -8.1M406.7 87.7l4.7 -8.1M408.5 88.7l4.7 -8.1M411.0 92.3l4.7 -8.1M416.0 91.6l4.7 -8.1M416.7 94.3l4.7 -8.1M418.1 95.9l4.7 -8.1M419.3 97.8l4.7 -8.1M423.5 98.6l4.7 -8.1M427.1 100.4l4.7 -8.1M428.9 101.3l4.7 -8.1M430.4 102.7l4.7 -8.1M431.9 104.1l4.7 -8.1M435.8 105.2l4.7 -8.1M438.7 104.3l4.7 -8.1M441.0 104.3l4.7 -8.1M442.9 105.0l4.7 -8.1M472.2 126.2l4.7 -8.1M473.7 127.6l4.7 -8.1M474.7 129.9l4.7 -8.1M478.0 132.1l4.7 -8.1M483.9 130.0l4.7 -8.1M484.6 132.8l4.7 -8.1M485.9 134.6l4.7 -8.1M493.3 137.7l4.7 -8.1M495.9 137.2l4.7 -8.1M369.5 56.0l4.7 -8.1M424.2 85.4l4.7 -8.1M426.0 90.3l4.7 -8.1M427.8 91.2l4.7 -8.1M430.5 90.5l4.7 -8.1M432.2 91.5l4.7 -8.1M435.1 94.4l4.7 -8.1M436.5 96.0l4.7 -8.1M437.3 98.7l4.7 -8.1M439.6 98.8l4.7 -8.1M445.7 96.1l4.7 -8.1M456.7 105.0l4.7 -8.1M459.3 104.5l4.7 -8.1M368.9 45.1l4.7 -8.1M369.4 48.2l4.7 -8.1M372.6 46.8l4.7 -8.1M376.6 47.8l4.7 -8.1M380.9 48.3l4.7 -8.1M381.8 50.8l4.7 -8.1M383.5 51.9l4.7 -8.1M386.8 54.2l4.7 -8.1M387.6 56.7l4.7 -8.1M392.2 56.7l4.7 -8.1M428.0 74.7l4.7 -8.1M435.7 81.5l4.7 -8.1M438.5 80.6l4.7 -8.1M439.9 82.3l4.7 -8.1M441.7 87.1l4.7 -8.1M443.5 88.0l4.7 -8.1M445.3 88.9l4.7 -8.1M454.8 92.3l4.7 -8.1M460.8 90.0l4.7 -8.1M461.4 93.0l4.7 -8.1M463.0 94.2l4.7 -8.1M464.5 95.6l4.7 -8.1M466.8 99.6l4.7 -8.1M476.7 106.4l4.7 -8.1M371.2 33.1l4.7 -8.1M374.0 32.3l4.7 -8.1M388.5 43.3l4.7 -8.1M389.9 44.7l4.7 -8.1M393.0 47.4l4.7 -8.1M395.0 47.9l4.7 -8.1M427.3 67.9l4.7 -8.1M431.8 68.2l4.7 -8.1M433.5 69.3l4.7 -8.1M434.1 72.2l4.7 -8.1M444.4 74.4l4.7 -8.1M455.3 79.6l4.7 -8.1M457.0 80.5l4.7 -8.1M457.7 83.4l4.7 -8.1M458.9 85.3l4.7 -8.1M464.7 83.3l4.7 -8.1M465.8 89.2l4.7 -8.1M477.9 96.4l4.7 -8.1M479.9 96.9l4.7 -8.1M483.8 98.2l4.7 -8.1M487.0 100.6l4.7 -8.1M489.7 103.9l4.7 -8.1M491.6 104.6l4.7 -8.1M492.7 106.7l4.7 -8.1M375.1 26.4l4.7 -8.1M377.9 25.5l4.7 -8.1M379.8 26.2l4.7 -8.1M383.7 27.6l4.7 -8.1M384.3 30.5l4.7 -8.1M385.9 31.6l4.7 -8.1M464.4 75.8l4.7 -8.1M466.4 76.2l4.7 -8.1M479.3 89.9l4.7 -8.1M482.0 89.3l4.7 -8.1M484.9 88.3l4.7 -8.1M489.6 88.1l4.7 -8.1M490.2 91.0l4.7 -8.1M493.5 93.3l4.7 -8.1M495.6 93.8l4.7 -8.1M381.8 18.9l4.7 -8.1M383.5 19.8l4.7 -8.1M385.5 20.4l4.7 -8.1M397.7 27.2l4.7 -8.1M398.9 29.2l4.7 -8.1M401.3 29.1l4.7 -8.1M404.8 30.9l4.7 -8.1M415.9 35.8l4.7 -8.1M417.8 36.4l4.7 -8.1M421.3 38.3l4.7 -8.1M424.1 37.6l4.7 -8.1M425.7 38.8l4.7 -8.1M426.3 41.8l4.7 -8.1M429.7 43.9l4.7 -8.1M485.2 75.8l4.7 -8.1M491.4 76.9l4.7 -8.1M494.4 83.8l4.7 -8.1M393.3 14.9l4.7 -8.1M433.7 37.0l4.7 -8.1M435.3 38.2l4.7 -8.1M436.8 39.6l4.7 -8.1M437.2 42.9l4.7 -8.1M443.1 40.7l4.7 -8.1M445.1 41.2l4.7 -8.1M447.0 45.9l4.7 -8.1M448.9 46.6l4.7 -8.1M454.7 44.6l4.7 -8.1M486.9 64.8l4.7 -8.1M488.5 66.1l4.7 -8.1M491.0 69.7l4.7 -8.1M493.0 70.2l4.7 -8.1M416.3 15.1l4.7 -8.1M419.0 18.4l4.7 -8.1M423.9 17.9l4.7 -8.1M424.5 20.9l4.7 -8.1M426.2 21.9l4.7 -8.1M429.1 20.8l4.7 -8.1M433.7 20.9l4.7 -8.1M434.6 23.3l4.7 -8.1M438.9 27.9l4.7 -8.1M441.2 27.9l4.7 -8.1M442.5 33.6l4.7 -8.1M445.4 32.6l4.7 -8.1M449.9 32.9l4.7 -8.1M450.3 36.2l4.7 -8.1M452.2 36.8l4.7 -8.1M453.9 37.9l4.7 -8.1M477.1 45.7l4.7 -8.1M489.8 55.8l4.7 -8.1M493.4 57.5l4.7 -8.1M494.9 62.9l4.7 -8.1M430.2 14.9l4.7 -8.1M435.5 13.7l4.7 -8.1M448.7 23.0l4.7 -8.1M457.5 23.7l4.7 -8.1M459.0 29.0l4.7 -8.1M462.0 27.9l4.7 -8.1M464.6 27.3l4.7 -8.1M466.6 27.9l4.7 -8.1M479.1 38.3l4.7 -8.1M482.1 37.0l4.7 -8.1M483.8 38.1l4.7 -8.1M487.3 40.0l4.7 -8.1M489.0 41.2l4.7 -8.1M489.4 44.5l4.7 -8.1M461.2 13.3l4.7 -8.1M461.7 16.4l4.7 -8.1M462.5 19.1l4.7 -8.1M465.8 21.3l4.7 -8.1M494.6 35.4l4.7 -8.1M495.5 37.9l4.7 -8.1"/>
<path fill="none" stroke="#d95f02" stroke-width="1.35" d="M376.8 130.8l4.7 -8.1M381.8 134.2l4.7 -8.1M405.6 133.0l4.7 -8.1M409.4 134.3l4.7 -8.1M369.6 103.4l4.7 -8.1M374.0 103.7l4.7 -8.1M379.0 107.1l4.7 -8.1M416.2 126.6l4.7 -8.1M420.6 131.1l4.7 -8.1M425.3 130.9l4.7 -8.1M379.6 98.0l4.7 -8.1M394.4 104.3l4.7 -8.1M436.7 127.1l4.7 -8.1M440.5 128.6l4.7 -8.1M448.3 135.1l4.7 -8.1M451.8 136.9l4.7 -8.1M395.5 94.4l4.7 -8.1M403.2 101.1l4.7 -8.1M412.9 100.4l4.7 -8.1M427.3 111.4l4.7 -8.1M439.3 118.6l4.7 -8.1M445.5 119.9l4.7 -8.1M449.9 124.3l4.7 -8.1M468.9 135.4l4.7 -8.1M400.4 90.0l4.7 -8.1M408.9 91.2l4.7 -8.1M412.8 92.6l4.7 -8.1M421.6 97.3l4.7 -8.1M424.9 99.5l4.7 -8.1M433.4 104.9l4.7 -8.1M476.1 130.9l4.7 -8.1M480.6 131.1l4.7 -8.1M488.0 138.2l4.7 -8.1M424.1 88.9l4.7 -8.1M433.5 92.6l4.7 -8.1M442.6 96.9l4.7 -8.1M460.6 105.8l4.7 -8.1M373.6 48.3l4.7 -8.1M378.6 47.7l4.7 -8.1M384.8 53.0l4.7 -8.1M426.2 73.3l4.7 -8.1M440.8 84.0l4.7 -8.1M457.6 90.8l4.7 -8.1M465.5 97.1l4.7 -8.1M374.5 34.8l4.7 -8.1M378.4 36.1l4.7 -8.1M391.1 46.1l4.7 -8.1M430.0 66.7l4.7 -8.1M444.5 77.6l4.7 -8.1M461.4 84.3l4.7 -8.1M465.0 86.0l4.7 -8.1M481.8 97.0l4.7 -8.1M485.1 99.3l4.7 -8.1M488.6 101.1l4.7 -8.1M381.4 26.9l4.7 -8.1M478.8 86.1l4.7 -8.1M487.5 87.2l4.7 -8.1M490.6 93.7l4.7 -8.1M377.4 13.9l4.7 -8.1M379.6 18.0l4.7 -8.1M395.8 26.0l4.7 -8.1M402.5 30.3l4.7 -8.1M419.3 37.2l4.7 -8.1M427.6 42.9l4.7 -8.1M431.9 35.5l4.7 -8.1M439.8 41.8l4.7 -8.1M445.1 44.6l4.7 -8.1M451.4 45.7l4.7 -8.1M489.8 67.1l4.7 -8.1M495.7 68.9l4.7 -8.1M417.6 16.2l4.7 -8.1M421.5 17.4l4.7 -8.1M431.5 20.1l4.7 -8.1M435.8 28.6l4.7 -8.1M441.7 30.5l4.7 -8.1M447.8 32.0l4.7 -8.1M456.6 36.6l4.7 -8.1M487.7 54.7l4.7 -8.1M491.4 56.4l4.7 -8.1M493.8 60.2l4.7 -8.1M432.3 14.8l4.7 -8.1M455.8 22.1l4.7 -8.1M458.0 26.2l4.7 -8.1M476.1 38.8l4.7 -8.1M485.0 39.4l4.7 -8.1M462.9 21.8l4.7 -8.1M491.0 33.1l4.7 -8.1"/>
<path fill="none" stroke="#1b9e77" stroke-width="1.97" d="M372.3 74.2l9.4 0.0M370.5 76.2l9.4 0.0M370.3 102.2l9.4 0.0M372.1 138.2l9.4 0.0M380.5 62.2l9.4 0.0M379.9 72.2l9.4 0.0M378.9 76.2l9.4 0.0M377.0 78.2l9.4 0.0M376.9 80.2l9.4 0.0M378.3 82.2l9.4 0.0M379.1 86.2l9.4 0.0M377.0 88.2l9.4 0.0M375.2 90.2l9.4 0.0M381.1 98.2l9.4 0.0M382.1 102.2l9.4 0.0M379.8 104.2l9.4 0.0M378.5 106.2l9.4 0.0M378.5 108.2l9.4 0.0M380.4 112.2l9.4 0.0M379.9 116.2l9.4 0.0M380.0 118.2l9.4 0.0M377.9 120.2l9.4 0.0M376.8 132.2l9.4 0.0M377.0 134.2l9.4 0.0M379.0 138.2l9.4 0.0M391.0 14.2l9.4 0.0M390.7 16.2l9.4 0.0M388.4 62.2l9.4 0.0M383.6 66.2l9.4 0.0M386.0 68.2l9.4 0.0M388.6 72.2l9.4 0.0M391.0 76.2l9.4 0.0M390.4 78.2l9.4 0.0M387.6 82.2l9.4 0.0M385.8 86.2l9.4 0.0M385.7 88.2l9.4 0.0M383.8 90.2l9.4 0.0M388.4 94.2l9.4 0.0M390.9 96.2l9.4 0.0M391.0 98.2l9.4 0.0M388.9 102.2l9.4 0.0M388.4 106.2l9.4 0.0M386.2 110.2l9.4 0.0M386.0 122.2l9.4 0.0M387.5 126.2l9.4 0.0M387.5 128.2l9.4 0.0M387.2 130.2l9.4 0.0M392.6 138.2l9.4 0.0M398.8 6.2l9.4 0.0M403.4 10.2l9.4 0.0M400.9 12.2l9.4 0.0M402.0 14.2l9.4 0.0M397.2 18.2l9.4 0.0M395.8 20.2l9.4 0.0M400.6 28.2l9.4 0.0M395.6 32.2l9.4 0.0M393.2 34.2l9.4 0.0M395.8 36.2l9.4 0.0M398.2 38.2l9.4 0.0M401.8 42.2l9.4 0.0M400.0 44.2l9.4 0.0M395.7 48.2l9.4 0.0M394.2 50.2l9.4 0.0M395.7 64.2l9.4 0.0M393.5 66.2l9.4 0.0M396.2 68.2l9.4 0.0M399.0 70.2l9.4 0.0M400.8 74.2l9.4 0.0M398.4 76.2l9.4 0.0M395.7 78.2l9.4 0.0M401.0 114.2l9.4 0.0M401.0 116.2l9.4 0.0M398.7 118.2l9.4 0.0M395.1 122.2l9.4 0.0M396.5 124.2l9.4 0.0M397.0 126.2l9.4 0.0M395.4 128.2l9.4 0.0M396.3 132.2l9.4 0.0M396.5 134.2l9.4 0.0M398.4 138.2l9.4 0.0M410.5 6.2l9.4 0.0M411.5 10.2l9.4 0.0M407.9 14.2l9.4 0.0M407.7 16.2l9.4 0.0M405.5 18.2l9.4 0.0M405.6 20.2l9.4 0.0M406.8 24.2l9.4 0.0M408.7 26.2l9.4 0.0M410.0 28.2l9.4 0.0M409.5 30.2l9.4 0.0M404.7 34.2l9.4 0.0M404.3 130.2l9.4 0.0M421.3 8.2l9.4 0.0M421.2 10.2l9.4 0.0M416.3 22.2l9.4 0.0M416.6 24.2l9.4 0.0M416.6 26.2l9.4 0.0M417.0 30.2l9.4 0.0M420.6 102.2l9.4 0.0M419.6 104.2l9.4 0.0M417.0 106.2l9.4 0.0M415.4 108.2l9.4 0.0M418.4 112.2l9.4 0.0M419.1 114.2l9.4 0.0M418.8 116.2l9.4 0.0M417.1 120.2l9.4 0.0M427.1 6.2l9.4 0.0M430.3 10.2l9.4 0.0M431.6 14.2l9.4 0.0M432.0 42.2l9.4 0.0M430.2 44.2l9.4 0.0M426.1 48.2l9.4 0.0M424.1 50.2l9.4 0.0M431.8 74.2l9.4 0.0M427.8 78.2l9.4 0.0M425.3 120.2l9.4 0.0M435.8 6.2l9.4 0.0M437.9 8.2l9.4 0.0M437.9 10.2l9.4 0.0M438.0 12.2l9.4 0.0M440.2 16.2l9.4 0.0M437.2 20.2l9.4 0.0M441.0 44.2l9.4 0.0M438.4 48.2l9.4 0.0M435.4 50.2l9.4 0.0M442.3 74.2l9.4 0.0M441.2 98.2l9.4 0.0M437.8 132.2l9.4 0.0M441.2 136.2l9.4 0.0M445.3 6.2l9.4 0.0M448.6 12.2l9.4 0.0M448.7 14.2l9.4 0.0M448.2 16.2l9.4 0.0M447.1 20.2l9.4 0.0M449.0 42.2l9.4 0.0M449.7 44.2l9.4 0.0M449.4 46.2l9.4 0.0M442.9 50.2l9.4 0.0M444.4 54.2l9.4 0.0M447.3 56.2l9.4 0.0M450.4 60.2l9.4 0.0M452.7 74.2l9.4 0.0M450.4 76.2l9.4 0.0M449.5 78.2l9.4 0.0M448.6 82.2l9.4 0.0M448.3 86.2l9.4 0.0M447.1 88.2l9.4 0.0M447.2 90.2l9.4 0.0M448.6 92.2l9.4 0.0M449.1 96.2l9.4 0.0M449.0 100.2l9.4 0.0M450.0 102.2l9.4 0.0M450.3 106.2l9.4 0.0M447.8 108.2l9.4 0.0M447.4 112.2l9.4 0.0M449.4 116.2l9.4 0.0M450.1 118.2l9.4 0.0M448.2 120.2l9.4 0.0M454.8 32.2l9.4 0.0M454.9 36.2l9.4 0.0M460.7 40.2l9.4 0.0M461.7 42.2l9.4 0.0M453.3 50.2l9.4 0.0M460.4 102.2l9.4 0.0M458.1 106.2l9.4 0.0M455.4 108.2l9.4 0.0M457.2 112.2l9.4 0.0M459.8 116.2l9.4 0.0M459.6 118.2l9.4 0.0M457.8 120.2l9.4 0.0M457.5 122.2l9.4 0.0M459.5 126.2l9.4 0.0M457.3 128.2l9.4 0.0M469.6 14.2l9.4 0.0M469.8 16.2l9.4 0.0M467.4 20.2l9.4 0.0M465.7 22.2l9.4 0.0M469.6 26.2l9.4 0.0M467.3 30.2l9.4 0.0M465.2 34.2l9.4 0.0M467.7 36.2l9.4 0.0M468.0 38.2l9.4 0.0M468.9 42.2l9.4 0.0M466.2 46.2l9.4 0.0M465.2 48.2l9.4 0.0M465.4 52.2l9.4 0.0M465.2 54.2l9.4 0.0M467.1 56.2l9.4 0.0M468.0 60.2l9.4 0.0M465.6 92.2l9.4 0.0M465.9 94.2l9.4 0.0M469.6 98.2l9.4 0.0M467.8 102.2l9.4 0.0M468.0 104.2l9.4 0.0M467.8 106.2l9.4 0.0M467.7 108.2l9.4 0.0M469.8 112.2l9.4 0.0M470.3 114.2l9.4 0.0M468.0 116.2l9.4 0.0M467.4 120.2l9.4 0.0M473.7 22.2l9.4 0.0M474.0 34.2l9.4 0.0M479.6 42.2l9.4 0.0M478.1 44.2l9.4 0.0M475.5 46.2l9.4 0.0M475.9 48.2l9.4 0.0M475.2 52.2l9.4 0.0M473.2 54.2l9.4 0.0M475.7 106.2l9.4 0.0M489.2 44.2l9.4 0.0M489.7 46.2l9.4 0.0M487.4 48.2l9.4 0.0M498.5 8.2l9.4 0.0M496.6 32.2l9.4 0.0M496.2 36.2l9.4 0.0M498.2 38.2l9.4 0.0M497.9 46.2l9.4 0.0M497.3 48.2l9.4 0.0M496.8 50.2l9.4 0.0"/>
<path fill="none" stroke="#1b9e77" stroke-width="1.35" d="M369.5 135.9l9.4 0.0M380.4 73.9l9.4 0.0M379.6 83.9l9.4 0.0M380.8 109.9l9.4 0.0M380.4 113.9l9.4 0.0M378.1 135.9l9.4 0.0M391.1 9.9l9.4 0.0M385.6 63.9l9.4 0.0M386.3 69.9l9.4 0.0M391.2 73.9l9.4 0.0M387.8 79.9l9.4 0.0M387.7 83.9l9.4 0.0M385.9 91.9l9.4 0.0M389.1 99.9l9.4 0.0M388.3 103.9l9.4 0.0M385.9 107.9l9.4 0.0M390.5 117.9l9.4 0.0M385.9 123.9l9.4 0.0M401.1 7.9l9.4 0.0M399.5 15.9l9.4 0.0M399.8 39.9l9.4 0.0M397.3 45.9l9.4 0.0M397.2 61.9l9.4 0.0M401.2 71.9l9.4 0.0M395.3 79.9l9.4 0.0M398.1 111.9l9.4 0.0M395.9 119.9l9.4 0.0M394.2 129.9l9.4 0.0M398.3 135.9l9.4 0.0M411.3 7.9l9.4 0.0M408.3 11.9l9.4 0.0M404.0 21.9l9.4 0.0M418.1 27.9l9.4 0.0M416.0 109.9l9.4 0.0M418.5 117.9l9.4 0.0M428.8 7.9l9.4 0.0M424.2 21.9l9.4 0.0M428.3 45.9l9.4 0.0M430.0 71.9l9.4 0.0M429.6 75.9l9.4 0.0M425.4 79.9l9.4 0.0M440.4 13.9l9.4 0.0M439.6 17.9l9.4 0.0M441.2 41.9l9.4 0.0M441.0 45.9l9.4 0.0M440.9 133.9l9.4 0.0M442.8 137.9l9.4 0.0M447.4 17.9l9.4 0.0M446.3 47.9l9.4 0.0M444.8 51.9l9.4 0.0M450.4 57.9l9.4 0.0M450.2 71.9l9.4 0.0M446.8 79.9l9.4 0.0M449.3 83.9l9.4 0.0M449.7 93.9l9.4 0.0M450.8 97.9l9.4 0.0M450.6 103.9l9.4 0.0M447.5 109.9l9.4 0.0M449.8 113.9l9.4 0.0M457.5 37.9l9.4 0.0M455.0 89.9l9.4 0.0M460.1 103.9l9.4 0.0M455.7 109.9l9.4 0.0M459.5 113.9l9.4 0.0M457.3 123.9l9.4 0.0M455.8 129.9l9.4 0.0M469.9 11.9l9.4 0.0M469.6 17.9l9.4 0.0M467.6 23.9l9.4 0.0M469.4 27.9l9.4 0.0M465.3 31.9l9.4 0.0M468.6 39.9l9.4 0.0M468.9 43.9l9.4 0.0M467.6 57.9l9.4 0.0M467.4 95.9l9.4 0.0M467.6 99.9l9.4 0.0M469.9 109.9l9.4 0.0M467.4 117.9l9.4 0.0M464.6 129.9l9.4 0.0M475.4 25.9l9.4 0.0M475.7 49.9l9.4 0.0M476.0 107.9l9.4 0.0M489.4 41.9l9.4 0.0M485.6 49.9l9.4 0.0M496.8 5.9l9.4 0.0M494.4 33.9l9.4 0.0"/>
</g>
<rect x="487.43" y="0.50" width="21.67" height="24.90" fill="#fff" fill-opacity="0.72"/>
<text x="497.47" y="17.70" text-anchor="middle" font-size="13.5" font-weight="bold">g</text>
<rect x="367.10" y="0.50" width="142.00" height="141.70" fill="none" stroke="#000" stroke-width="1.3"/>
<g clip-path="url(#clh)">
<path fill="none" stroke="#7570b3" stroke-width="1.97" d="M588.1 7.6l4.7 8.1M586.3 8.5l4.7 8.1M580.9 7.2l4.7 8.1M588.4 16.2l4.7 8.1M585.7 15.4l4.7 8.1M584.0 16.5l4.7 8.1M632.2 8.0l4.7 8.1M589.0 25.1l4.7 8.1M585.7 27.4l4.7 8.1M582.2 29.3l4.7 8.1M580.5 30.5l4.7 8.1M650.1 6.9l4.7 8.1M648.3 7.9l4.7 8.1M647.8 11.0l4.7 8.1M642.5 9.9l4.7 8.1M638.0 10.0l4.7 8.1M636.5 11.5l4.7 8.1M635.6 13.9l4.7 8.1M632.5 16.6l4.7 8.1M630.8 17.5l4.7 8.1M607.3 28.8l4.7 8.1M605.6 29.9l4.7 8.1M603.8 30.9l4.7 8.1M600.2 32.5l4.7 8.1M597.2 31.4l4.7 8.1M593.9 33.7l4.7 8.1M592.3 34.9l4.7 8.1M587.8 35.1l4.7 8.1M586.5 40.9l4.7 8.1M584.8 41.9l4.7 8.1M581.1 43.5l4.7 8.1M571.0 50.0l4.7 8.1M568.2 49.2l4.7 8.1M567.6 52.1l4.7 8.1M564.9 55.4l4.7 8.1M562.9 55.9l4.7 8.1M561.1 56.8l4.7 8.1M649.6 18.2l4.7 8.1M646.7 17.1l4.7 8.1M643.7 15.9l4.7 8.1M641.2 19.5l4.7 8.1M640.7 22.7l4.7 8.1M639.1 24.0l4.7 8.1M637.5 25.1l4.7 8.1M613.9 36.4l4.7 8.1M612.0 37.1l4.7 8.1M609.0 39.7l4.7 8.1M605.1 41.1l4.7 8.1M601.4 42.7l4.7 8.1M599.8 43.8l4.7 8.1M598.5 45.6l4.7 8.1M592.7 43.6l4.7 8.1M591.4 49.4l4.7 8.1M590.6 51.9l4.7 8.1M589.0 53.1l4.7 8.1M586.1 52.2l4.7 8.1M581.2 51.7l4.7 8.1M580.8 55.0l4.7 8.1M577.1 60.5l4.7 8.1M575.4 61.6l4.7 8.1M572.8 65.1l4.7 8.1M547.7 73.7l4.7 8.1M545.1 73.1l4.7 8.1M650.7 24.1l4.7 8.1M647.0 25.6l4.7 8.1M646.3 28.5l4.7 8.1M621.3 41.1l4.7 8.1M619.4 41.8l4.7 8.1M618.9 45.0l4.7 8.1M617.3 46.2l4.7 8.1M613.8 48.1l4.7 8.1M610.1 49.7l4.7 8.1M608.3 50.5l4.7 8.1M606.4 51.3l4.7 8.1M604.7 52.3l4.7 8.1M600.4 53.0l4.7 8.1M597.1 55.2l4.7 8.1M596.2 57.6l4.7 8.1M594.9 63.4l4.7 8.1M589.4 61.9l4.7 8.1M586.5 60.9l4.7 8.1M584.6 61.6l4.7 8.1M583.5 67.7l4.7 8.1M581.9 68.8l4.7 8.1M580.2 69.9l4.7 8.1M621.3 53.2l4.7 8.1M620.8 56.3l4.7 8.1M612.3 57.5l4.7 8.1M608.8 59.5l4.7 8.1M608.0 62.0l4.7 8.1M605.5 61.8l4.7 8.1M602.0 63.7l4.7 8.1M601.4 66.7l4.7 8.1M599.8 72.0l4.7 8.1M594.5 70.8l4.7 8.1M591.8 74.1l4.7 8.1M590.1 75.0l4.7 8.1M588.6 76.5l4.7 8.1M586.7 77.1l4.7 8.1M609.6 72.9l4.7 8.1M608.0 74.0l4.7 8.1M606.5 75.5l4.7 8.1M601.4 78.6l4.7 8.1M599.4 79.2l4.7 8.1M586.7 89.2l4.7 8.1M584.1 88.6l4.7 8.1M627.7 76.2l4.7 8.1M612.6 86.0l4.7 8.1M610.8 86.9l4.7 8.1M609.2 88.1l4.7 8.1M603.3 86.0l4.7 8.1M601.5 86.8l4.7 8.1M589.9 98.8l4.7 8.1M587.4 98.4l4.7 8.1M585.4 99.0l4.7 8.1M584.5 101.5l4.7 8.1M581.0 103.3l4.7 8.1M578.2 102.5l4.7 8.1M575.1 101.1l4.7 8.1M572.4 104.4l4.7 8.1M571.6 107.0l4.7 8.1M570.2 108.6l4.7 8.1M568.2 109.1l4.7 8.1M564.4 110.5l4.7 8.1M561.3 109.1l4.7 8.1M559.5 110.1l4.7 8.1M558.1 111.7l4.7 8.1M557.0 117.7l4.7 8.1M554.4 117.3l4.7 8.1M553.0 118.8l4.7 8.1M551.1 119.5l4.7 8.1M638.5 78.9l4.7 8.1M637.8 81.7l4.7 8.1M636.3 83.1l4.7 8.1M634.8 84.4l4.7 8.1M631.0 86.0l4.7 8.1M625.4 84.2l4.7 8.1M624.0 89.8l4.7 8.1M618.2 91.8l4.7 8.1M616.4 92.6l4.7 8.1M614.7 93.7l4.7 8.1M611.1 95.5l4.7 8.1M607.3 96.9l4.7 8.1M606.5 99.4l4.7 8.1M605.0 100.9l4.7 8.1M598.9 102.3l4.7 8.1M598.2 105.1l4.7 8.1M595.3 108.0l4.7 8.1M592.2 106.7l4.7 8.1M589.0 109.1l4.7 8.1M584.0 108.6l4.7 8.1M581.9 108.8l4.7 8.1M580.1 109.7l4.7 8.1M579.4 112.6l4.7 8.1M577.3 117.0l4.7 8.1M576.0 118.7l4.7 8.1M574.4 119.8l4.7 8.1M569.5 119.5l4.7 8.1M566.4 118.1l4.7 8.1M563.1 120.3l4.7 8.1M561.7 125.9l4.7 8.1M559.9 126.8l4.7 8.1M556.9 129.6l4.7 8.1M552.4 129.7l4.7 8.1M677.7 70.7l4.7 8.1M673.5 71.5l4.7 8.1M642.2 85.3l4.7 8.1M640.6 86.5l4.7 8.1M639.8 93.1l4.7 8.1M637.9 93.8l4.7 8.1M635.0 92.9l4.7 8.1M630.6 93.2l4.7 8.1M626.3 97.7l4.7 8.1M623.6 97.1l4.7 8.1M620.4 99.6l4.7 8.1M619.5 102.0l4.7 8.1M616.9 105.4l4.7 8.1M612.1 105.1l4.7 8.1M610.7 106.8l4.7 8.1M602.5 116.5l4.7 8.1M597.9 116.6l4.7 8.1M596.3 117.8l4.7 8.1M589.9 118.7l4.7 8.1M587.9 119.3l4.7 8.1M584.5 121.3l4.7 8.1M583.1 123.0l4.7 8.1M581.6 124.3l4.7 8.1M578.1 126.3l4.7 8.1M576.6 127.6l4.7 8.1M570.7 125.5l4.7 8.1M569.9 128.1l4.7 8.1M678.8 76.7l4.7 8.1M677.9 79.1l4.7 8.1M630.1 104.4l4.7 8.1M627.2 103.4l4.7 8.1M626.4 105.9l4.7 8.1"/>
<path fill="none" stroke="#7570b3" stroke-width="1.35" d="M583.8 7.5l4.7 8.1M582.7 17.7l4.7 8.1M587.5 26.0l4.7 8.1M583.2 26.5l4.7 8.1M645.0 9.6l4.7 8.1M639.9 8.7l4.7 8.1M634.5 15.3l4.7 8.1M609.1 27.4l4.7 8.1M602.1 31.3l4.7 8.1M595.0 30.9l4.7 8.1M590.9 35.8l4.7 8.1M583.3 42.6l4.7 8.1M567.1 54.7l4.7 8.1M642.1 16.4l4.7 8.1M636.2 26.3l4.7 8.1M610.9 38.5l4.7 8.1M607.2 40.1l4.7 8.1M603.5 41.6l4.7 8.1M595.8 44.3l4.7 8.1M592.4 46.5l4.7 8.1M583.5 51.0l4.7 8.1M580.2 57.2l4.7 8.1M573.8 62.2l4.7 8.1M649.0 24.5l4.7 8.1M616.1 47.5l4.7 8.1M612.2 48.7l4.7 8.1M603.3 53.4l4.7 8.1M598.0 52.2l4.7 8.1M595.9 60.6l4.7 8.1M592.4 62.4l4.7 8.1M584.4 64.6l4.7 8.1M609.6 56.2l4.7 8.1M602.9 60.5l4.7 8.1M600.9 69.1l4.7 8.1M597.6 71.4l4.7 8.1M592.8 71.1l4.7 8.1M585.3 78.1l4.7 8.1M611.8 72.0l4.7 8.1M605.1 76.4l4.7 8.1M581.5 87.5l4.7 8.1M553.2 110.5l4.7 8.1M626.0 76.6l4.7 8.1M592.8 99.1l4.7 8.1M583.1 102.2l4.7 8.1M573.9 102.5l4.7 8.1M566.4 109.4l4.7 8.1M557.8 114.5l4.7 8.1M633.1 85.0l4.7 8.1M628.6 85.2l4.7 8.1M625.0 86.9l4.7 8.1M621.6 89.0l4.7 8.1M613.4 94.8l4.7 8.1M609.4 95.9l4.7 8.1M603.6 101.9l4.7 8.1M598.0 108.2l4.7 8.1M590.8 107.7l4.7 8.1M587.2 109.4l4.7 8.1M579.4 116.0l4.7 8.1M572.6 120.2l4.7 8.1M565.0 119.0l4.7 8.1M562.8 123.1l4.7 8.1M675.4 70.1l4.7 8.1M672.1 72.4l4.7 8.1M640.2 89.3l4.7 8.1M632.8 92.4l4.7 8.1M622.2 98.1l4.7 8.1M619.1 104.8l4.7 8.1M615.4 106.2l4.7 8.1M600.1 115.8l4.7 8.1M586.4 120.0l4.7 8.1M580.2 125.4l4.7 8.1M573.9 126.4l4.7 8.1M625.2 107.2l4.7 8.1"/>
<path fill="none" stroke="#d95f02" stroke-width="1.97" d="M546.0 134.9l4.7 -8.1M549.5 136.9l4.7 -8.1M546.6 125.9l4.7 -8.1M571.9 138.0l4.7 -8.1M546.2 110.6l4.7 -8.1M547.0 113.2l4.7 -8.1M549.4 117.1l4.7 -8.1M550.8 118.7l4.7 -8.1M588.6 137.2l4.7 -8.1M547.3 100.8l4.7 -8.1M549.0 101.8l4.7 -8.1M550.6 103.0l4.7 -8.1M553.5 106.0l4.7 -8.1M555.3 106.8l4.7 -8.1M557.8 106.6l4.7 -8.1M559.3 108.0l4.7 -8.1M562.0 111.3l4.7 -8.1M564.4 115.2l4.7 -8.1M565.9 116.5l4.7 -8.1M591.4 128.3l4.7 -8.1M592.6 130.3l4.7 -8.1M596.2 132.0l4.7 -8.1M598.9 131.4l4.7 -8.1M601.2 131.4l4.7 -8.1M546.8 89.5l4.7 -8.1M551.0 90.3l4.7 -8.1M552.4 91.9l4.7 -8.1M552.9 95.1l4.7 -8.1M555.3 98.8l4.7 -8.1M557.1 99.7l4.7 -8.1M560.2 98.4l4.7 -8.1M564.6 98.7l4.7 -8.1M566.4 99.5l4.7 -8.1M568.3 100.3l4.7 -8.1M570.0 101.4l4.7 -8.1M572.0 106.0l4.7 -8.1M552.7 83.3l4.7 -8.1M555.4 82.7l4.7 -8.1M557.7 86.6l4.7 -8.1M559.2 88.1l4.7 -8.1M562.8 89.9l4.7 -8.1M568.8 91.4l4.7 -8.1M570.8 92.1l4.7 -8.1M572.4 93.3l4.7 -8.1M574.8 97.1l4.7 -8.1M578.8 98.1l4.7 -8.1M581.2 102.0l4.7 -8.1M596.4 107.7l4.7 -8.1M599.4 106.5l4.7 -8.1M641.9 136.8l4.7 -8.1M643.4 138.3l4.7 -8.1M548.5 66.6l4.7 -8.1M550.3 67.5l4.7 -8.1M551.9 72.8l4.7 -8.1M553.7 73.6l4.7 -8.1M556.7 72.5l4.7 -8.1M580.9 86.5l4.7 -8.1M581.3 89.8l4.7 -8.1M583.3 94.4l4.7 -8.1M586.1 93.5l4.7 -8.1M589.8 95.2l4.7 -8.1M591.7 95.8l4.7 -8.1M596.0 96.4l4.7 -8.1M599.6 98.2l4.7 -8.1M605.5 96.0l4.7 -8.1M642.3 124.2l4.7 -8.1M644.3 124.6l4.7 -8.1M646.2 125.5l4.7 -8.1M647.1 127.8l4.7 -8.1M650.9 129.3l4.7 -8.1M654.9 130.3l4.7 -8.1M656.5 131.5l4.7 -8.1M664.1 134.4l4.7 -8.1M666.0 135.2l4.7 -8.1M667.5 136.6l4.7 -8.1M668.9 138.2l4.7 -8.1M544.7 57.2l4.7 -8.1M549.0 57.7l4.7 -8.1M556.9 64.1l4.7 -8.1M560.5 65.8l4.7 -8.1M591.0 85.1l4.7 -8.1M592.5 86.4l4.7 -8.1M595.4 85.3l4.7 -8.1M602.9 88.5l4.7 -8.1M606.5 90.1l4.7 -8.1M609.3 89.3l4.7 -8.1M642.7 111.5l4.7 -8.1M645.4 114.7l4.7 -8.1M647.1 115.8l4.7 -8.1M653.2 117.2l4.7 -8.1M655.4 121.4l4.7 -8.1M657.2 122.4l4.7 -8.1M659.1 123.1l4.7 -8.1M662.2 125.7l4.7 -8.1M667.7 124.1l4.7 -8.1M669.7 124.8l4.7 -8.1M673.2 126.6l4.7 -8.1M673.9 129.4l4.7 -8.1M675.1 135.4l4.7 -8.1M677.3 135.5l4.7 -8.1M545.7 43.5l4.7 -8.1M549.1 41.6l4.7 -8.1M550.4 43.4l4.7 -8.1M643.3 102.4l4.7 -8.1M646.1 101.6l4.7 -8.1M647.7 102.9l4.7 -8.1M650.3 106.3l4.7 -8.1M651.0 109.1l4.7 -8.1M655.1 110.0l4.7 -8.1M660.2 109.1l4.7 -8.1M663.4 111.7l4.7 -8.1M666.1 110.9l4.7 -8.1M666.7 113.9l4.7 -8.1M669.0 118.0l4.7 -8.1M671.5 117.5l4.7 -8.1M674.2 116.8l4.7 -8.1M677.8 118.7l4.7 -8.1M544.4 29.7l4.7 -8.1M545.8 31.3l4.7 -8.1M547.5 32.4l4.7 -8.1M549.9 36.1l4.7 -8.1M643.3 86.4l4.7 -8.1M644.3 88.7l4.7 -8.1M645.0 91.4l4.7 -8.1M646.6 92.7l4.7 -8.1M651.8 91.6l4.7 -8.1M654.9 94.3l4.7 -8.1M656.9 98.9l4.7 -8.1M658.7 99.7l4.7 -8.1M660.9 99.9l4.7 -8.1M664.3 102.1l4.7 -8.1M668.6 102.6l4.7 -8.1M671.7 105.3l4.7 -8.1M672.3 108.3l4.7 -8.1M673.7 109.7l4.7 -8.1M675.4 110.8l4.7 -8.1M546.1 18.8l4.7 -8.1M551.1 22.1l4.7 -8.1M646.3 77.3l4.7 -8.1M647.2 79.7l4.7 -8.1M648.7 85.0l4.7 -8.1M654.1 83.8l4.7 -8.1M658.0 85.0l4.7 -8.1M659.4 86.5l4.7 -8.1M659.8 89.8l4.7 -8.1M662.8 92.7l4.7 -8.1M665.9 91.3l4.7 -8.1M669.2 93.6l4.7 -8.1M670.8 94.8l4.7 -8.1M673.6 93.9l4.7 -8.1M677.1 100.0l4.7 -8.1M556.1 13.5l4.7 -8.1M622.8 49.9l4.7 -8.1M623.6 52.5l4.7 -8.1M627.3 54.1l4.7 -8.1M629.7 54.0l4.7 -8.1M630.2 57.2l4.7 -8.1M644.3 60.7l4.7 -8.1M645.2 63.2l4.7 -8.1M646.6 64.8l4.7 -8.1M648.6 69.3l4.7 -8.1M650.3 70.3l4.7 -8.1M650.9 73.3l4.7 -8.1M652.7 74.1l4.7 -8.1M656.9 74.9l4.7 -8.1M659.7 74.0l4.7 -8.1M661.7 74.6l4.7 -8.1M664.7 73.3l4.7 -8.1M666.8 77.7l4.7 -8.1M668.0 83.7l4.7 -8.1M669.8 84.5l4.7 -8.1M670.8 86.8l4.7 -8.1M675.8 86.1l4.7 -8.1M678.3 85.8l4.7 -8.1M592.8 22.0l4.7 -8.1M594.6 22.8l4.7 -8.1M595.7 28.9l4.7 -8.1M596.0 32.4l4.7 -8.1M598.7 31.6l4.7 -8.1M604.4 29.8l4.7 -8.1M607.0 33.3l4.7 -8.1M613.6 37.9l4.7 -8.1M615.2 39.2l4.7 -8.1M617.0 40.0l4.7 -8.1M617.5 43.0l4.7 -8.1M622.4 42.6l4.7 -8.1M625.3 41.5l4.7 -8.1M628.4 44.3l4.7 -8.1M628.9 47.4l4.7 -8.1M633.0 48.2l4.7 -8.1M635.7 51.5l4.7 -8.1M641.8 57.0l4.7 -8.1M645.2 55.2l4.7 -8.1M649.5 55.6l4.7 -8.1M649.8 59.2l4.7 -8.1M651.3 60.6l4.7 -8.1M653.6 60.5l4.7 -8.1M656.9 62.9l4.7 -8.1M657.3 66.1l4.7 -8.1M662.0 66.0l4.7 -8.1M663.6 67.2l4.7 -8.1M665.8 67.5l4.7 -8.1M667.8 68.0l4.7 -8.1M671.3 70.0l4.7 -8.1M672.8 71.3l4.7 -8.1M674.1 73.0l4.7 -8.1M675.9 74.0l4.7 -8.1M587.9 14.4l4.7 -8.1M591.7 15.8l4.7 -8.1M594.6 14.7l4.7 -8.1M597.6 13.5l4.7 -8.1M598.7 15.8l4.7 -8.1M600.9 19.9l4.7 -8.1M602.0 21.9l4.7 -8.1M603.7 22.9l4.7 -8.1M605.3 24.3l4.7 -8.1M611.1 22.2l4.7 -8.1M612.9 23.1l4.7 -8.1M615.1 27.3l4.7 -8.1M616.9 28.2l4.7 -8.1M619.6 31.5l4.7 -8.1M622.3 30.8l4.7 -8.1M623.9 32.1l4.7 -8.1M625.5 33.3l4.7 -8.1M630.0 33.4l4.7 -8.1M634.8 37.1l4.7 -8.1M637.2 37.0l4.7 -8.1M639.8 36.5l4.7 -8.1M640.4 39.4l4.7 -8.1M642.6 43.7l4.7 -8.1M644.2 44.8l4.7 -8.1M645.8 46.0l4.7 -8.1M648.0 46.3l4.7 -8.1M652.2 47.0l4.7 -8.1M656.0 48.4l4.7 -8.1M659.9 49.7l4.7 -8.1M661.4 51.2l4.7 -8.1M661.8 54.3l4.7 -8.1M662.9 60.5l4.7 -8.1M665.9 59.2l4.7 -8.1M668.7 58.5l4.7 -8.1M671.5 57.5l4.7 -8.1M674.6 60.3l4.7 -8.1M675.6 62.5l4.7 -8.1M678.4 65.7l4.7 -8.1M609.6 12.8l4.7 -8.1M612.8 15.2l4.7 -8.1M619.2 16.2l4.7 -8.1M619.9 18.9l4.7 -8.1M625.9 20.6l4.7 -8.1M627.7 21.4l4.7 -8.1M629.5 26.4l4.7 -8.1M648.4 37.6l4.7 -8.1M651.9 39.5l4.7 -8.1M654.9 38.4l4.7 -8.1M657.0 38.7l4.7 -8.1M659.0 39.3l4.7 -8.1M662.3 41.5l4.7 -8.1M663.6 43.2l4.7 -8.1M665.4 44.1l4.7 -8.1M667.1 49.1l4.7 -8.1M667.8 51.9l4.7 -8.1M673.6 49.9l4.7 -8.1M676.5 48.9l4.7 -8.1M634.5 13.6l4.7 -8.1M653.8 28.2l4.7 -8.1M657.2 30.3l4.7 -8.1M659.8 29.8l4.7 -8.1M664.5 29.7l4.7 -8.1M666.3 30.5l4.7 -8.1M667.1 33.2l4.7 -8.1M671.4 33.7l4.7 -8.1M672.7 35.5l4.7 -8.1M673.3 38.4l4.7 -8.1M674.1 41.2l4.7 -8.1M677.8 42.7l4.7 -8.1M656.4 15.7l4.7 -8.1M657.4 18.0l4.7 -8.1M658.1 20.8l4.7 -8.1M660.8 20.1l4.7 -8.1M664.9 20.9l4.7 -8.1M667.4 20.7l4.7 -8.1M669.1 21.7l4.7 -8.1M670.9 26.5l4.7 -8.1M673.5 26.1l4.7 -8.1M676.1 25.5l4.7 -8.1M677.5 31.2l4.7 -8.1M678.3 33.9l4.7 -8.1M674.0 13.2l4.7 -8.1M676.7 16.6l4.7 -8.1M678.4 17.6l4.7 -8.1"/>
<path fill="none" stroke="#d95f02" stroke-width="1.35" d="M547.3 136.1l4.7 -8.1M548.9 125.2l4.7 -8.1M547.6 115.6l4.7 -8.1M587.1 135.1l4.7 -8.1M544.5 101.0l4.7 -8.1M551.6 104.7l4.7 -8.1M561.0 108.3l4.7 -8.1M562.6 113.6l4.7 -8.1M568.7 115.0l4.7 -8.1M593.2 132.5l4.7 -8.1M549.2 88.7l4.7 -8.1M553.2 97.9l4.7 -8.1M562.6 97.7l4.7 -8.1M570.2 104.5l4.7 -8.1M547.0 76.6l4.7 -8.1M550.6 82.3l4.7 -8.1M556.3 84.6l4.7 -8.1M560.7 88.8l4.7 -8.1M564.6 90.2l4.7 -8.1M572.9 95.7l4.7 -8.1M575.8 98.7l4.7 -8.1M579.0 101.1l4.7 -8.1M545.3 67.5l4.7 -8.1M551.0 69.7l4.7 -8.1M559.0 71.9l4.7 -8.1M582.7 90.8l4.7 -8.1M587.6 94.3l4.7 -8.1M594.1 95.0l4.7 -8.1M597.3 97.5l4.7 -8.1M649.4 127.2l4.7 -8.1M652.6 129.7l4.7 -8.1M658.1 132.2l4.7 -8.1M661.7 133.9l4.7 -8.1M546.0 58.4l4.7 -8.1M558.2 65.3l4.7 -8.1M588.0 85.6l4.7 -8.1M598.4 83.6l4.7 -8.1M603.3 91.2l4.7 -8.1M610.8 90.0l4.7 -8.1M643.9 112.7l4.7 -8.1M648.8 116.2l4.7 -8.1M654.8 117.9l4.7 -8.1M660.4 124.1l4.7 -8.1M664.5 125.1l4.7 -8.1M672.2 123.8l4.7 -8.1M674.5 131.8l4.7 -8.1M678.9 136.2l4.7 -8.1M648.6 104.6l4.7 -8.1M651.9 110.9l4.7 -8.1M656.9 110.2l4.7 -8.1M661.4 110.5l4.7 -8.1M666.9 117.0l4.7 -8.1M676.8 115.8l4.7 -8.1M678.5 120.8l4.7 -8.1M548.8 33.5l4.7 -8.1M649.0 91.9l4.7 -8.1M654.3 90.7l4.7 -8.1M655.3 97.1l4.7 -8.1M661.8 101.8l4.7 -8.1M665.6 103.2l4.7 -8.1M670.9 102.0l4.7 -8.1M677.9 109.9l4.7 -8.1M547.8 19.3l4.7 -8.1M641.1 73.7l4.7 -8.1M644.2 76.3l4.7 -8.1M647.6 82.4l4.7 -8.1M651.1 84.4l4.7 -8.1M655.7 84.3l4.7 -8.1M660.8 91.5l4.7 -8.1M666.6 93.5l4.7 -8.1M675.9 93.3l4.7 -8.1M678.5 100.8l4.7 -8.1M620.4 49.4l4.7 -8.1M624.5 54.4l4.7 -8.1M641.1 61.6l4.7 -8.1M646.9 67.7l4.7 -8.1M654.1 75.1l4.7 -8.1M665.1 76.0l4.7 -8.1M667.1 80.6l4.7 -8.1M673.5 85.5l4.7 -8.1M595.0 25.5l4.7 -8.1M601.3 30.6l4.7 -8.1M606.1 30.2l4.7 -8.1M619.0 44.0l4.7 -8.1M627.4 41.3l4.7 -8.1M631.2 46.8l4.7 -8.1M634.1 49.8l4.7 -8.1M637.2 52.4l4.7 -8.1M648.3 53.1l4.7 -8.1M656.0 59.9l4.7 -8.1M658.8 67.0l4.7 -8.1M669.6 68.3l4.7 -8.1M599.2 18.2l4.7 -8.1M607.9 23.2l4.7 -8.1M614.3 24.0l4.7 -8.1M618.5 28.8l4.7 -8.1M626.9 34.2l4.7 -8.1M640.6 42.4l4.7 -8.1M649.7 46.8l4.7 -8.1M653.9 47.4l4.7 -8.1M657.1 49.9l4.7 -8.1M662.0 57.5l4.7 -8.1M673.3 57.8l4.7 -8.1M676.9 63.5l4.7 -8.1M610.9 13.9l4.7 -8.1M617.2 14.9l4.7 -8.1M620.8 20.8l4.7 -8.1M627.8 24.6l4.7 -8.1M631.9 25.5l4.7 -8.1M650.0 38.2l4.7 -8.1M660.6 39.9l4.7 -8.1M665.5 47.4l4.7 -8.1M670.5 50.8l4.7 -8.1M652.9 25.2l4.7 -8.1M655.2 29.1l4.7 -8.1M662.3 28.9l4.7 -8.1M668.7 33.9l4.7 -8.1M675.5 42.1l4.7 -8.1M655.4 12.8l4.7 -8.1M662.1 21.3l4.7 -8.1M669.8 23.9l4.7 -8.1M676.4 28.5l4.7 -8.1M675.5 14.0l4.7 -8.1"/>
<path fill="none" stroke="#1b9e77" stroke-width="1.97" d="M548.8 11.1l9.4 0.0M549.2 13.1l9.4 0.0M551.0 17.1l9.4 0.0M548.4 19.1l9.4 0.0M548.4 21.1l9.4 0.0M547.7 23.1l9.4 0.0M548.4 27.1l9.4 0.0M549.0 31.1l9.4 0.0M548.2 33.1l9.4 0.0M548.3 35.1l9.4 0.0M548.7 39.1l9.4 0.0M551.0 41.1l9.4 0.0M551.0 45.1l9.4 0.0M549.1 49.1l9.4 0.0M548.8 51.1l9.4 0.0M548.0 53.1l9.4 0.0M546.6 61.1l9.4 0.0M557.8 7.1l9.4 0.0M559.4 11.1l9.4 0.0M559.7 13.1l9.4 0.0M561.3 17.1l9.4 0.0M558.6 19.1l9.4 0.0M556.1 21.1l9.4 0.0M557.3 25.1l9.4 0.0M559.9 27.1l9.4 0.0M560.4 31.1l9.4 0.0M558.9 35.1l9.4 0.0M558.7 37.1l9.4 0.0M558.9 41.1l9.4 0.0M558.7 45.1l9.4 0.0M558.1 47.1l9.4 0.0M559.2 49.1l9.4 0.0M558.4 51.1l9.4 0.0M558.2 55.1l9.4 0.0M558.4 57.1l9.4 0.0M558.4 59.1l9.4 0.0M558.9 63.1l9.4 0.0M561.0 65.1l9.4 0.0M560.9 67.1l9.4 0.0M560.9 69.1l9.4 0.0M558.5 73.1l9.4 0.0M562.5 77.1l9.4 0.0M560.4 79.1l9.4 0.0M565.9 7.1l9.4 0.0M566.0 9.1l9.4 0.0M568.8 11.1l9.4 0.0M571.3 13.1l9.4 0.0M569.6 17.1l9.4 0.0M568.7 19.1l9.4 0.0M568.3 21.1l9.4 0.0M567.6 23.1l9.4 0.0M569.3 27.1l9.4 0.0M569.9 29.1l9.4 0.0M567.2 33.1l9.4 0.0M567.5 35.1l9.4 0.0M567.4 39.1l9.4 0.0M568.6 43.1l9.4 0.0M570.2 45.1l9.4 0.0M568.2 47.1l9.4 0.0M568.1 51.1l9.4 0.0M567.0 57.1l9.4 0.0M567.4 59.1l9.4 0.0M568.1 67.1l9.4 0.0M568.1 69.1l9.4 0.0M570.3 73.1l9.4 0.0M570.9 75.1l9.4 0.0M571.4 77.1l9.4 0.0M570.8 79.1l9.4 0.0M576.3 5.1l9.4 0.0M575.7 7.1l9.4 0.0M573.8 9.1l9.4 0.0M578.3 13.1l9.4 0.0M576.4 21.1l9.4 0.0M576.4 23.1l9.4 0.0M581.9 29.1l9.4 0.0M578.9 43.1l9.4 0.0M578.1 47.1l9.4 0.0M579.7 49.1l9.4 0.0M577.1 55.1l9.4 0.0M575.0 57.1l9.4 0.0M577.3 59.1l9.4 0.0M588.5 21.1l9.4 0.0M590.5 25.1l9.4 0.0M599.7 123.1l9.4 0.0M601.7 127.1l9.4 0.0M599.5 129.1l9.4 0.0M599.1 135.1l9.4 0.0M601.0 137.1l9.4 0.0M611.2 5.1l9.4 0.0M609.3 7.1l9.4 0.0M606.8 9.1l9.4 0.0M609.5 63.1l9.4 0.0M609.0 67.1l9.4 0.0M607.2 73.1l9.4 0.0M610.8 77.1l9.4 0.0M610.3 85.1l9.4 0.0M610.4 87.1l9.4 0.0M607.3 115.1l9.4 0.0M605.2 117.1l9.4 0.0M607.6 119.1l9.4 0.0M610.6 123.1l9.4 0.0M609.1 129.1l9.4 0.0M608.9 131.1l9.4 0.0M610.0 133.1l9.4 0.0M609.3 137.1l9.4 0.0M618.7 5.1l9.4 0.0M616.9 59.1l9.4 0.0M619.3 63.1l9.4 0.0M619.9 65.1l9.4 0.0M620.7 69.1l9.4 0.0M619.8 73.1l9.4 0.0M618.9 77.1l9.4 0.0M615.5 81.1l9.4 0.0M617.2 83.1l9.4 0.0M618.3 87.1l9.4 0.0M617.2 91.1l9.4 0.0M618.8 113.1l9.4 0.0M616.7 115.1l9.4 0.0M614.0 117.1l9.4 0.0M615.5 119.1l9.4 0.0M619.9 123.1l9.4 0.0M622.1 125.1l9.4 0.0M620.5 127.1l9.4 0.0M617.0 131.1l9.4 0.0M616.8 133.1l9.4 0.0M619.0 135.1l9.4 0.0M618.9 137.1l9.4 0.0M625.8 5.1l9.4 0.0M625.8 7.1l9.4 0.0M629.4 53.1l9.4 0.0M624.4 57.1l9.4 0.0M625.8 59.1l9.4 0.0M629.1 63.1l9.4 0.0M630.1 65.1l9.4 0.0M628.3 67.1l9.4 0.0M627.3 71.1l9.4 0.0M629.1 73.1l9.4 0.0M629.4 75.1l9.4 0.0M629.3 77.1l9.4 0.0M627.3 81.1l9.4 0.0M632.4 109.1l9.4 0.0M630.9 111.1l9.4 0.0M629.0 113.1l9.4 0.0M627.2 115.1l9.4 0.0M628.0 121.1l9.4 0.0M631.1 125.1l9.4 0.0M629.6 127.1l9.4 0.0M627.6 129.1l9.4 0.0M628.3 131.1l9.4 0.0M631.5 135.1l9.4 0.0M631.5 137.1l9.4 0.0M636.9 55.1l9.4 0.0M634.1 57.1l9.4 0.0M636.4 59.1l9.4 0.0M638.4 63.1l9.4 0.0M638.1 65.1l9.4 0.0M637.7 67.1l9.4 0.0M637.7 71.1l9.4 0.0M638.2 73.1l9.4 0.0M638.9 77.1l9.4 0.0M638.2 81.1l9.4 0.0M635.0 105.1l9.4 0.0M637.5 107.1l9.4 0.0M639.2 115.1l9.4 0.0M636.7 117.1l9.4 0.0M636.4 121.1l9.4 0.0M637.6 123.1l9.4 0.0M639.4 125.1l9.4 0.0M638.4 129.1l9.4 0.0M637.3 131.1l9.4 0.0M638.2 133.1l9.4 0.0"/>
<path fill="none" stroke="#1b9e77" stroke-width="1.35" d="M551.3 14.7l9.4 0.0M548.4 24.7l9.4 0.0M548.7 28.7l9.4 0.0M548.4 36.7l9.4 0.0M551.0 42.7l9.4 0.0M549.3 46.7l9.4 0.0M559.3 4.7l9.4 0.0M562.1 14.7l9.4 0.0M555.9 22.7l9.4 0.0M562.1 28.7l9.4 0.0M558.7 32.7l9.4 0.0M559.6 38.7l9.4 0.0M558.9 42.7l9.4 0.0M558.4 52.7l9.4 0.0M558.7 60.7l9.4 0.0M560.8 74.7l9.4 0.0M567.2 4.7l9.4 0.0M572.3 14.7l9.4 0.0M569.2 24.7l9.4 0.0M568.2 30.7l9.4 0.0M567.5 36.7l9.4 0.0M567.1 40.7l9.4 0.0M568.4 48.7l9.4 0.0M568.9 54.7l9.4 0.0M568.8 64.7l9.4 0.0M567.8 70.7l9.4 0.0M570.6 80.7l9.4 0.0M576.5 10.7l9.4 0.0M579.8 26.7l9.4 0.0M578.6 32.7l9.4 0.0M578.2 52.7l9.4 0.0M579.5 60.7l9.4 0.0M579.6 80.7l9.4 0.0M589.0 22.7l9.4 0.0M602.4 124.7l9.4 0.0M610.4 64.7l9.4 0.0M607.2 68.7l9.4 0.0M607.9 78.7l9.4 0.0M608.2 82.7l9.4 0.0M609.8 112.7l9.4 0.0M610.0 120.7l9.4 0.0M611.6 126.7l9.4 0.0M609.6 134.7l9.4 0.0M614.6 8.7l9.4 0.0M618.6 60.7l9.4 0.0M620.7 66.7l9.4 0.0M619.3 70.7l9.4 0.0M619.4 74.7l9.4 0.0M617.6 78.7l9.4 0.0M616.8 88.7l9.4 0.0M617.6 120.7l9.4 0.0M618.4 128.7l9.4 0.0M625.6 8.7l9.4 0.0M626.9 54.7l9.4 0.0M627.4 60.7l9.4 0.0M626.7 68.7l9.4 0.0M628.4 78.7l9.4 0.0M629.4 106.7l9.4 0.0M625.0 116.7l9.4 0.0M629.2 122.7l9.4 0.0M630.6 132.7l9.4 0.0M638.1 52.7l9.4 0.0M638.1 60.7l9.4 0.0M637.4 68.7l9.4 0.0M638.4 74.7l9.4 0.0M638.6 78.7l9.4 0.0M635.4 102.7l9.4 0.0M637.1 118.7l9.4 0.0M638.9 126.7l9.4 0.0"/>
</g>
<rect x="662.99" y="0.50" width="21.61" height="24.90" fill="#fff" fill-opacity="0.72"/>
<text x="672.99" y="17.70" text-anchor="middle" font-size="13.5" font-weight="bold">h</text>
<rect x="542.90" y="0.50" width="141.70" height="141.70" fill="none" stroke="#000" stroke-width="1.3"/>
<g clip-path="url(#cld)">
<path fill="none" stroke="#7570b3" stroke-width="1.85" d="M3.2 175.9l4.7 8.1M15.8 176.2l4.7 8.1M15.3 179.7l4.7 8.1M13.7 181.3l4.7 8.1M8.0 184.2l4.7 8.1M38.4 176.7l4.7 8.1M28.7 185.6l4.7 8.1M23.1 184.5l4.7 8.1M2.6 196.4l4.7 8.1M58.2 180.9l4.7 8.1M56.4 182.0l4.7 8.1M53.7 181.7l4.7 8.1M50.4 184.6l4.7 8.1M38.3 189.4l4.7 8.1M34.1 190.8l4.7 8.1M31.8 195.3l4.7 8.1M9.2 207.8l4.7 8.1M5.7 206.1l4.7 8.1M89.3 174.5l4.7 8.1M85.6 176.7l4.7 8.1M82.7 176.0l4.7 8.1M81.9 179.0l4.7 8.1M81.4 182.3l4.7 8.1M58.5 189.9l4.7 8.1M56.5 190.7l4.7 8.1M53.1 193.5l4.7 8.1M51.7 195.4l4.7 8.1M25.4 205.8l4.7 8.1M24.0 211.9l4.7 8.1M21.1 211.3l4.7 8.1M15.8 215.0l4.7 8.1M12.1 217.1l4.7 8.1M9.6 221.4l4.7 8.1M7.7 222.4l4.7 8.1M2.4 221.9l4.7 8.1M89.5 183.4l4.7 8.1M74.4 196.0l4.7 8.1M72.2 196.5l4.7 8.1M26.2 220.1l4.7 8.1M22.9 218.5l4.7 8.1M21.1 219.9l4.7 8.1M17.5 222.3l4.7 8.1M15.6 223.2l4.7 8.1M15.2 226.8l4.7 8.1M108.9 187.0l4.7 8.1M103.0 185.4l4.7 8.1M101.2 186.5l4.7 8.1M99.4 187.7l4.7 8.1M98.4 190.4l4.7 8.1M94.4 192.0l4.7 8.1M91.3 191.0l4.7 8.1M79.6 200.7l4.7 8.1M77.5 201.4l4.7 8.1M75.8 202.7l4.7 8.1M75.6 206.7l4.7 8.1M33.2 227.9l4.7 8.1M29.4 229.9l4.7 8.1M27.8 231.5l4.7 8.1M24.4 229.9l4.7 8.1M19.3 229.6l4.7 8.1M18.6 232.8l4.7 8.1M17.7 239.8l4.7 8.1M13.0 240.2l4.7 8.1M9.7 238.8l4.7 8.1M129.9 184.6l4.7 8.1M124.5 183.9l4.7 8.1M122.6 184.9l4.7 8.1M120.1 189.2l4.7 8.1M117.8 189.5l4.7 8.1M116.0 190.6l4.7 8.1M114.3 192.1l4.7 8.1M110.8 194.5l4.7 8.1M109.0 195.7l4.7 8.1M105.3 198.0l4.7 8.1M52.0 226.0l4.7 8.1M49.8 226.4l4.7 8.1M46.2 229.0l4.7 8.1M45.6 232.1l4.7 8.1M41.9 234.3l4.7 8.1M39.8 235.0l4.7 8.1M36.3 237.6l4.7 8.1M34.3 238.3l4.7 8.1M32.7 239.9l4.7 8.1M29.7 239.0l4.7 8.1M17.8 248.4l4.7 8.1M5.8 257.9l4.7 8.1M4.1 259.1l4.7 8.1M129.5 192.6l4.7 8.1M126.5 191.7l4.7 8.1M125.9 194.9l4.7 8.1M122.9 198.4l4.7 8.1M119.0 200.1l4.7 8.1M114.0 200.1l4.7 8.1M112.6 202.0l4.7 8.1M111.9 205.1l4.7 8.1M110.4 206.7l4.7 8.1M106.8 209.1l4.7 8.1M105.1 210.4l4.7 8.1M102.7 210.7l4.7 8.1M98.5 211.9l4.7 8.1M74.6 230.7l4.7 8.1M72.5 231.4l4.7 8.1M66.0 228.7l4.7 8.1M62.9 227.6l4.7 8.1M62.1 230.7l4.7 8.1M59.0 229.5l4.7 8.1M56.7 234.2l4.7 8.1M55.9 237.0l4.7 8.1M52.9 236.1l4.7 8.1M47.7 240.1l4.7 8.1M46.1 241.6l4.7 8.1M44.2 246.9l4.7 8.1M38.0 244.7l4.7 8.1M36.2 246.0l4.7 8.1M32.9 248.8l4.7 8.1M7.1 268.6l4.7 8.1M5.4 270.1l4.7 8.1M3.5 271.1l4.7 8.1M117.3 210.2l4.7 8.1M113.6 212.3l4.7 8.1M99.2 230.4l4.7 8.1M96.4 229.9l4.7 8.1M94.6 231.0l4.7 8.1M91.8 234.8l4.7 8.1M88.2 232.8l4.7 8.1M68.2 236.8l4.7 8.1M54.0 250.9l4.7 8.1M52.4 252.5l4.7 8.1M50.0 252.7l4.7 8.1M45.2 253.0l4.7 8.1M41.3 254.7l4.7 8.1M39.2 255.5l4.7 8.1M21.9 268.4l4.7 8.1M20.4 270.2l4.7 8.1M99.4 235.1l4.7 8.1M98.1 237.1l4.7 8.1M57.6 257.2l4.7 8.1M38.6 271.6l4.7 8.1M38.1 275.1l4.7 8.1M34.6 273.3l4.7 8.1M28.3 270.9l4.7 8.1M24.3 272.7l4.7 8.1M23.8 276.1l4.7 8.1M17.2 286.2l4.7 8.1M15.3 287.1l4.7 8.1M11.3 288.8l4.7 8.1M9.5 290.0l4.7 8.1M108.8 247.0l4.7 8.1M33.7 280.3l4.7 8.1M32.4 282.4l4.7 8.1M29.4 281.4l4.7 8.1M28.7 284.5l4.7 8.1M27.7 291.4l4.7 8.1M27.3 295.1l4.7 8.1M23.8 297.6l4.7 8.1M20.6 296.3l4.7 8.1M18.4 296.9l4.7 8.1M12.7 299.9l4.7 8.1M112.8 254.0l4.7 8.1M110.6 254.5l4.7 8.1M95.6 258.5l4.7 8.1M94.2 264.8l4.7 8.1M90.3 266.6l4.7 8.1M122.1 257.2l4.7 8.1M120.5 258.7l4.7 8.1M119.0 260.4l4.7 8.1M99.4 265.2l4.7 8.1M58.7 289.2l4.7 8.1M58.1 292.6l4.7 8.1M56.1 293.4l4.7 8.1M54.1 298.4l4.7 8.1M52.0 299.2l4.7 8.1M125.4 267.1l4.7 8.1M116.9 282.5l4.7 8.1M114.3 282.4l4.7 8.1M109.1 281.9l4.7 8.1M108.7 285.6l4.7 8.1M119.2 290.8l4.7 8.1M115.5 293.1l4.7 8.1M111.9 295.3l4.7 8.1"/>
<path fill="none" stroke="#7570b3" stroke-width="1.35" d="M12.5 182.9l4.7 8.1M26.9 186.3l4.7 8.1M50.6 180.1l4.7 8.1M49.4 186.7l4.7 8.1M36.0 189.1l4.7 8.1M32.6 192.0l4.7 8.1M30.0 196.0l4.7 8.1M89.2 178.2l4.7 8.1M54.9 191.8l4.7 8.1M25.0 208.8l4.7 8.1M17.6 213.3l4.7 8.1M10.6 218.3l4.7 8.1M6.1 223.3l4.7 8.1M87.8 184.4l4.7 8.1M72.3 200.5l4.7 8.1M18.3 218.7l4.7 8.1M120.7 176.8l4.7 8.1M110.9 185.7l4.7 8.1M106.0 185.8l4.7 8.1M97.9 193.2l4.7 8.1M91.0 194.2l4.7 8.1M74.2 208.0l4.7 8.1M31.3 228.4l4.7 8.1M22.7 230.7l4.7 8.1M15.8 240.2l4.7 8.1M7.9 239.4l4.7 8.1M128.2 185.5l4.7 8.1M122.0 187.7l4.7 8.1M112.7 193.0l4.7 8.1M44.3 233.7l4.7 8.1M38.0 235.7l4.7 8.1M28.9 241.4l4.7 8.1M4.0 262.7l4.7 8.1M124.0 195.4l4.7 8.1M116.1 198.9l4.7 8.1M109.3 208.7l4.7 8.1M101.0 211.6l4.7 8.1M75.6 227.6l4.7 8.1M69.4 229.9l4.7 8.1M58.5 232.6l4.7 8.1M49.9 239.1l4.7 8.1M45.8 244.8l4.7 8.1M41.5 246.1l4.7 8.1M7.8 265.1l4.7 8.1M115.7 211.2l4.7 8.1M113.7 216.3l4.7 8.1M92.7 231.4l4.7 8.1M78.4 236.9l4.7 8.1M73.4 236.8l4.7 8.1M56.0 249.6l4.7 8.1M48.6 254.1l4.7 8.1M41.8 250.9l4.7 8.1M19.2 271.9l4.7 8.1M8.4 279.1l4.7 8.1M59.3 255.4l4.7 8.1M31.5 271.7l4.7 8.1M27.4 273.3l4.7 8.1M23.6 279.6l4.7 8.1M14.8 290.1l4.7 8.1M7.8 290.9l4.7 8.1M36.9 281.1l4.7 8.1M28.4 287.9l4.7 8.1M24.5 294.0l4.7 8.1M13.4 296.2l4.7 8.1M118.8 251.0l4.7 8.1M115.0 253.0l4.7 8.1M99.0 259.6l4.7 8.1M95.1 261.5l4.7 8.1M125.3 257.8l4.7 8.1M55.2 295.6l4.7 8.1M127.4 265.8l4.7 8.1M112.2 282.5l4.7 8.1M113.8 293.9l4.7 8.1"/>
<path fill="none" stroke="#d95f02" stroke-width="1.85" d="M3.6 287.0l4.7 -8.1M6.7 286.0l4.7 -8.1M7.6 288.8l4.7 -8.1M10.4 292.5l4.7 -8.1M16.3 295.3l4.7 -8.1M28.8 303.6l4.7 -8.1M36.0 308.3l4.7 -8.1M7.6 280.1l4.7 -8.1M11.2 282.5l4.7 -8.1M13.6 282.7l4.7 -8.1M16.4 286.4l4.7 -8.1M17.6 288.6l4.7 -8.1M35.3 296.6l4.7 -8.1M37.2 297.7l4.7 -8.1M4.2 264.6l4.7 -8.1M29.0 277.5l4.7 -8.1M40.4 287.8l4.7 -8.1M42.3 288.9l4.7 -8.1M48.0 287.6l4.7 -8.1M52.1 289.1l4.7 -8.1M53.5 290.9l4.7 -8.1M58.2 291.5l4.7 -8.1M58.4 295.3l4.7 -8.1M61.1 299.3l4.7 -8.1M62.9 300.5l4.7 -8.1M65.2 300.8l4.7 -8.1M68.0 300.3l4.7 -8.1M71.7 302.4l4.7 -8.1M72.2 305.9l4.7 -8.1M74.5 306.2l4.7 -8.1M77.4 305.5l4.7 -8.1M6.9 255.6l4.7 -8.1M27.6 271.3l4.7 -8.1M34.0 268.8l4.7 -8.1M35.1 271.3l4.7 -8.1M35.5 274.9l4.7 -8.1M43.8 277.7l4.7 -8.1M46.1 282.2l4.7 -8.1M48.1 283.1l4.7 -8.1M57.3 284.4l4.7 -8.1M61.6 285.6l4.7 -8.1M63.5 286.6l4.7 -8.1M63.9 290.2l4.7 -8.1M66.6 294.1l4.7 -8.1M69.8 292.9l4.7 -8.1M73.5 295.0l4.7 -8.1M75.1 296.6l4.7 -8.1M80.7 295.4l4.7 -8.1M84.7 297.2l4.7 -8.1M88.6 307.5l4.7 -8.1M23.5 248.3l4.7 -8.1M24.1 251.5l4.7 -8.1M27.1 255.0l4.7 -8.1M30.4 258.0l4.7 -8.1M31.7 259.9l4.7 -8.1M35.7 261.7l4.7 -8.1M57.9 270.5l4.7 -8.1M59.8 271.4l4.7 -8.1M64.2 272.4l4.7 -8.1M65.1 275.1l4.7 -8.1M67.3 279.9l4.7 -8.1M69.2 280.9l4.7 -8.1M82.6 287.9l4.7 -8.1M85.8 286.5l4.7 -8.1M92.9 291.5l4.7 -8.1M93.3 295.1l4.7 -8.1M96.5 298.2l4.7 -8.1M99.7 296.9l4.7 -8.1M102.1 297.1l4.7 -8.1M105.1 300.5l4.7 -8.1M105.3 304.5l4.7 -8.1M34.7 254.8l4.7 -8.1M61.7 263.8l4.7 -8.1M66.3 264.5l4.7 -8.1M69.6 267.4l4.7 -8.1M71.7 268.0l4.7 -8.1M74.5 271.9l4.7 -8.1M76.3 273.0l4.7 -8.1M79.4 272.0l4.7 -8.1M81.3 272.9l4.7 -8.1M84.8 275.5l4.7 -8.1M98.3 286.5l4.7 -8.1M98.7 290.2l4.7 -8.1M100.3 291.7l4.7 -8.1M107.3 288.1l4.7 -8.1M110.6 286.7l4.7 -8.1M119.2 297.6l4.7 -8.1M122.4 296.3l4.7 -8.1M126.0 298.7l4.7 -8.1M126.4 302.2l4.7 -8.1M126.9 305.7l4.7 -8.1M80.1 266.4l4.7 -8.1M84.8 266.8l4.7 -8.1M86.7 267.9l4.7 -8.1M88.2 269.5l4.7 -8.1M99.9 270.8l4.7 -8.1M99.8 275.3l4.7 -8.1M121.5 285.0l4.7 -8.1M125.5 286.7l4.7 -8.1M48.5 235.1l4.7 -8.1M50.6 235.7l4.7 -8.1M78.6 251.9l4.7 -8.1M81.7 250.7l4.7 -8.1M85.1 253.5l4.7 -8.1M85.4 257.3l4.7 -8.1M89.9 258.0l4.7 -8.1M94.5 258.6l4.7 -8.1M96.8 258.9l4.7 -8.1M99.3 263.3l4.7 -8.1M108.3 269.1l4.7 -8.1M108.8 272.6l4.7 -8.1M2.2 194.9l4.7 -8.1M6.1 196.8l4.7 -8.1M7.5 198.6l4.7 -8.1M9.3 199.8l4.7 -8.1M20.2 206.8l4.7 -8.1M21.2 209.3l4.7 -8.1M25.4 210.6l4.7 -8.1M27.2 211.8l4.7 -8.1M31.8 212.5l4.7 -8.1M54.1 225.4l4.7 -8.1M58.1 227.1l4.7 -8.1M58.7 230.3l4.7 -8.1M61.0 234.9l4.7 -8.1M67.3 232.7l4.7 -8.1M80.7 239.6l4.7 -8.1M84.9 241.0l4.7 -8.1M88.4 239.2l4.7 -8.1M89.2 242.0l4.7 -8.1M110.4 252.6l4.7 -8.1M111.1 255.6l4.7 -8.1M129.8 266.4l4.7 -8.1M132.9 265.3l4.7 -8.1M6.3 183.4l4.7 -8.1M6.7 187.1l4.7 -8.1M21.2 196.4l4.7 -8.1M25.8 197.1l4.7 -8.1M26.7 199.8l4.7 -8.1M38.8 208.9l4.7 -8.1M70.1 223.4l4.7 -8.1M72.9 227.3l4.7 -8.1M77.6 227.7l4.7 -8.1M114.1 246.3l4.7 -8.1M115.7 247.7l4.7 -8.1M118.1 247.8l4.7 -8.1M130.8 256.0l4.7 -8.1M132.4 257.5l4.7 -8.1M134.4 258.3l4.7 -8.1M31.7 191.1l4.7 -8.1M35.0 189.6l4.7 -8.1M36.7 191.0l4.7 -8.1M36.9 195.0l4.7 -8.1M41.2 196.2l4.7 -8.1M45.8 201.1l4.7 -8.1M48.9 200.0l4.7 -8.1M78.7 217.1l4.7 -8.1M80.7 218.1l4.7 -8.1M85.6 218.2l4.7 -8.1M87.0 220.0l4.7 -8.1M91.0 221.7l4.7 -8.1M93.2 222.2l4.7 -8.1M98.7 221.3l4.7 -8.1M99.1 224.9l4.7 -8.1M112.4 236.2l4.7 -8.1M115.8 238.9l4.7 -8.1M117.7 239.9l4.7 -8.1M119.4 241.3l4.7 -8.1M122.0 241.1l4.7 -8.1M126.0 242.8l4.7 -8.1M128.0 243.7l4.7 -8.1M38.0 184.5l4.7 -8.1M39.7 185.9l4.7 -8.1M43.1 188.5l4.7 -8.1M46.4 187.2l4.7 -8.1M59.7 194.2l4.7 -8.1M61.6 195.3l4.7 -8.1M63.7 195.9l4.7 -8.1M66.4 199.8l4.7 -8.1M68.1 201.1l4.7 -8.1M70.1 202.0l4.7 -8.1M79.8 206.6l4.7 -8.1M81.8 207.6l4.7 -8.1M83.5 213.2l4.7 -8.1M88.4 213.4l4.7 -8.1M94.7 211.0l4.7 -8.1M100.3 214.2l4.7 -8.1M119.1 229.0l4.7 -8.1M124.0 229.0l4.7 -8.1M124.8 232.0l4.7 -8.1M125.8 234.6l4.7 -8.1M127.8 235.4l4.7 -8.1M63.0 184.3l4.7 -8.1M66.6 186.6l4.7 -8.1M129.9 223.2l4.7 -8.1M78.8 182.6l4.7 -8.1"/>
<path fill="none" stroke="#d95f02" stroke-width="1.35" d="M9.5 289.4l4.7 -8.1M11.1 295.2l4.7 -8.1M29.2 306.8l4.7 -8.1M15.5 283.1l4.7 -8.1M33.3 295.3l4.7 -8.1M38.7 298.9l4.7 -8.1M43.9 290.0l4.7 -8.1M54.8 292.6l4.7 -8.1M59.9 296.6l4.7 -8.1M69.5 301.4l4.7 -8.1M7.0 259.3l4.7 -8.1M30.7 269.7l4.7 -8.1M37.1 275.8l4.7 -8.1M42.8 274.7l4.7 -8.1M43.8 281.5l4.7 -8.1M58.9 285.4l4.7 -8.1M64.6 292.8l4.7 -8.1M71.3 294.0l4.7 -8.1M77.2 296.7l4.7 -8.1M19.9 249.8l4.7 -8.1M26.1 251.8l4.7 -8.1M33.7 260.2l4.7 -8.1M61.1 273.1l4.7 -8.1M66.7 276.3l4.7 -8.1M87.4 287.6l4.7 -8.1M93.4 298.7l4.7 -8.1M104.0 297.7l4.7 -8.1M108.4 302.8l4.7 -8.1M69.0 263.5l4.7 -8.1M72.3 270.8l4.7 -8.1M83.9 272.2l4.7 -8.1M103.8 289.4l4.7 -8.1M125.4 295.0l4.7 -8.1M130.3 308.0l4.7 -8.1M78.0 265.2l4.7 -8.1M81.8 267.3l4.7 -8.1M123.2 285.8l4.7 -8.1M127.1 287.6l4.7 -8.1M83.9 250.8l4.7 -8.1M92.6 257.1l4.7 -8.1M97.1 262.2l4.7 -8.1M106.5 267.5l4.7 -8.1M2.6 198.0l4.7 -8.1M17.9 205.9l4.7 -8.1M23.2 209.6l4.7 -8.1M28.6 213.2l4.7 -8.1M33.3 213.6l4.7 -8.1M37.1 215.6l4.7 -8.1M51.7 224.8l4.7 -8.1M55.8 226.4l4.7 -8.1M60.1 231.7l4.7 -8.1M63.9 233.8l4.7 -8.1M83.8 237.9l4.7 -8.1M7.0 190.4l4.7 -8.1M23.0 197.1l4.7 -8.1M35.5 209.9l4.7 -8.1M74.7 228.0l4.7 -8.1M110.7 247.2l4.7 -8.1M118.9 250.3l4.7 -8.1M29.7 189.8l4.7 -8.1M41.6 199.3l4.7 -8.1M82.4 218.9l4.7 -8.1M90.2 218.4l4.7 -8.1M95.0 222.8l4.7 -8.1M113.9 237.4l4.7 -8.1M123.9 241.7l4.7 -8.1M41.3 186.9l4.7 -8.1M46.6 190.6l4.7 -8.1M66.0 195.8l4.7 -8.1M82.4 210.4l4.7 -8.1M86.1 212.5l4.7 -8.1M91.2 212.2l4.7 -8.1M96.2 212.2l4.7 -8.1M121.7 228.3l4.7 -8.1M128.4 238.1l4.7 -8.1M64.5 185.4l4.7 -8.1M68.6 187.0l4.7 -8.1"/>
<path fill="none" stroke="#1b9e77" stroke-width="1.85" d="M5.1 193.4l9.3 0.0M6.5 204.2l9.3 0.0M6.8 206.3l9.3 0.0M6.8 208.5l9.3 0.0M3.5 212.8l9.3 0.0M6.0 214.9l9.3 0.0M7.9 217.1l9.3 0.0M5.5 236.4l9.3 0.0M6.1 238.6l9.3 0.0M3.3 240.7l9.3 0.0M3.6 242.9l9.3 0.0M5.3 247.2l9.3 0.0M6.2 260.1l9.3 0.0M3.7 262.2l9.3 0.0M3.3 292.3l9.3 0.0M6.2 294.5l9.3 0.0M16.1 178.4l9.3 0.0M14.2 195.6l9.3 0.0M13.2 199.9l9.3 0.0M13.4 202.0l9.3 0.0M14.0 206.3l9.3 0.0M13.8 208.5l9.3 0.0M11.2 210.6l9.3 0.0M12.9 212.8l9.3 0.0M14.5 217.1l9.3 0.0M15.0 219.2l9.3 0.0M13.8 234.3l9.3 0.0M13.1 236.4l9.3 0.0M13.1 238.6l9.3 0.0M16.3 251.5l9.3 0.0M15.5 253.6l9.3 0.0M15.6 255.8l9.3 0.0M15.8 260.1l9.3 0.0M16.2 262.2l9.3 0.0M13.1 266.5l9.3 0.0M11.2 270.8l9.3 0.0M16.4 285.9l9.3 0.0M18.8 303.1l9.3 0.0M18.6 305.2l9.3 0.0M15.9 307.4l9.3 0.0M28.0 176.2l9.3 0.0M28.1 214.9l9.3 0.0M24.9 219.2l9.3 0.0M28.5 223.5l9.3 0.0M26.2 227.8l9.3 0.0M26.5 230.0l9.3 0.0M26.2 251.5l9.3 0.0M23.1 253.6l9.3 0.0M24.8 260.1l9.3 0.0M22.3 262.2l9.3 0.0M23.4 264.4l9.3 0.0M26.1 268.7l9.3 0.0M22.6 290.2l9.3 0.0M37.6 176.2l9.3 0.0M35.6 178.4l9.3 0.0M34.7 202.0l9.3 0.0M32.4 212.8l9.3 0.0M34.5 214.9l9.3 0.0M35.2 217.1l9.3 0.0M32.7 219.2l9.3 0.0M33.2 223.5l9.3 0.0M35.9 225.7l9.3 0.0M35.5 227.8l9.3 0.0M35.8 230.0l9.3 0.0M35.1 262.2l9.3 0.0M34.9 298.8l9.3 0.0M37.6 303.1l9.3 0.0M38.2 307.4l9.3 0.0M44.5 178.4l9.3 0.0M44.5 202.0l9.3 0.0M44.4 204.2l9.3 0.0M44.2 206.3l9.3 0.0M42.9 210.6l9.3 0.0M42.6 212.8l9.3 0.0M47.7 217.1l9.3 0.0M48.2 219.2l9.3 0.0M46.6 221.4l9.3 0.0M48.3 227.8l9.3 0.0M45.8 230.0l9.3 0.0M48.4 249.3l9.3 0.0M45.1 262.2l9.3 0.0M40.0 266.5l9.3 0.0M43.5 268.7l9.3 0.0M46.1 294.5l9.3 0.0M46.1 296.6l9.3 0.0M45.8 298.8l9.3 0.0M47.9 300.9l9.3 0.0M49.7 305.2l9.3 0.0M58.7 176.2l9.3 0.0M55.5 178.4l9.3 0.0M56.3 202.0l9.3 0.0M53.8 206.3l9.3 0.0M55.9 208.5l9.3 0.0M55.8 210.6l9.3 0.0M55.4 214.9l9.3 0.0M55.9 217.1l9.3 0.0M56.8 242.9l9.3 0.0M56.9 245.0l9.3 0.0M56.7 247.2l9.3 0.0M54.8 255.8l9.3 0.0M53.5 264.4l9.3 0.0M53.8 266.5l9.3 0.0M53.0 268.7l9.3 0.0M51.3 270.8l9.3 0.0M56.0 275.1l9.3 0.0M53.9 277.3l9.3 0.0M51.8 279.4l9.3 0.0M54.5 303.1l9.3 0.0M55.3 307.4l9.3 0.0M68.7 180.5l9.3 0.0M68.0 187.0l9.3 0.0M71.0 189.1l9.3 0.0M68.9 191.3l9.3 0.0M63.2 202.0l9.3 0.0M65.0 204.2l9.3 0.0M63.4 208.5l9.3 0.0M61.3 210.6l9.3 0.0M64.4 212.8l9.3 0.0M64.1 214.9l9.3 0.0M66.2 219.2l9.3 0.0M61.6 245.0l9.3 0.0M63.6 247.2l9.3 0.0M66.1 249.3l9.3 0.0M66.1 251.5l9.3 0.0M65.3 255.8l9.3 0.0M65.0 257.9l9.3 0.0M65.9 303.1l9.3 0.0M68.7 305.2l9.3 0.0M68.4 307.4l9.3 0.0M74.1 182.7l9.3 0.0M76.4 184.8l9.3 0.0M76.4 187.0l9.3 0.0M76.2 189.1l9.3 0.0M73.6 193.4l9.3 0.0M73.2 195.6l9.3 0.0M73.4 197.7l9.3 0.0M75.2 199.9l9.3 0.0M75.7 212.8l9.3 0.0M79.1 219.2l9.3 0.0M75.7 230.0l9.3 0.0M75.5 245.0l9.3 0.0M75.3 247.2l9.3 0.0M73.6 251.5l9.3 0.0M71.3 253.6l9.3 0.0M73.7 255.8l9.3 0.0M76.2 257.9l9.3 0.0M76.0 273.0l9.3 0.0M75.2 275.1l9.3 0.0M72.7 277.3l9.3 0.0M72.5 279.4l9.3 0.0M78.3 300.9l9.3 0.0M88.7 178.4l9.3 0.0M86.7 180.5l9.3 0.0M87.3 187.0l9.3 0.0M89.2 189.1l9.3 0.0M88.4 191.3l9.3 0.0M82.6 197.7l9.3 0.0M82.7 199.9l9.3 0.0M86.6 221.4l9.3 0.0M88.6 225.7l9.3 0.0M86.0 227.8l9.3 0.0M85.1 242.9l9.3 0.0M83.0 251.5l9.3 0.0M83.5 253.6l9.3 0.0M89.3 257.9l9.3 0.0M86.4 273.0l9.3 0.0M88.1 275.1l9.3 0.0M82.3 281.6l9.3 0.0M86.2 292.3l9.3 0.0M86.2 294.5l9.3 0.0M86.1 296.6l9.3 0.0M89.0 303.1l9.3 0.0M89.6 307.4l9.3 0.0M98.6 176.2l9.3 0.0M96.6 182.7l9.3 0.0M99.5 184.8l9.3 0.0M102.4 189.1l9.3 0.0M95.1 202.0l9.3 0.0M94.5 221.4l9.3 0.0M94.2 223.5l9.3 0.0M96.7 225.7l9.3 0.0M96.3 230.0l9.3 0.0M95.6 242.9l9.3 0.0M94.9 245.0l9.3 0.0M95.0 249.3l9.3 0.0M96.9 255.8l9.3 0.0M99.8 257.9l9.3 0.0M99.6 260.1l9.3 0.0M96.0 273.0l9.3 0.0M96.1 277.3l9.3 0.0M95.3 281.6l9.3 0.0M98.9 303.1l9.3 0.0M97.4 307.4l9.3 0.0M108.7 176.2l9.3 0.0M106.0 180.5l9.3 0.0M108.8 184.8l9.3 0.0M109.0 189.1l9.3 0.0M103.5 206.3l9.3 0.0M106.0 210.6l9.3 0.0M103.1 221.4l9.3 0.0M105.8 223.5l9.3 0.0M109.3 227.8l9.3 0.0M103.9 232.1l9.3 0.0M103.9 234.3l9.3 0.0M106.2 236.4l9.3 0.0M105.8 240.7l9.3 0.0M105.7 242.9l9.3 0.0M103.0 245.0l9.3 0.0M105.4 251.5l9.3 0.0M105.3 253.6l9.3 0.0M105.7 255.8l9.3 0.0M106.1 257.9l9.3 0.0M106.0 273.0l9.3 0.0M101.3 279.4l9.3 0.0M103.6 281.6l9.3 0.0M106.4 303.1l9.3 0.0M109.1 305.2l9.3 0.0M108.7 307.4l9.3 0.0M118.5 176.2l9.3 0.0M118.7 178.4l9.3 0.0M116.3 182.7l9.3 0.0M116.2 184.8l9.3 0.0M118.5 187.0l9.3 0.0M116.2 208.5l9.3 0.0M118.4 214.9l9.3 0.0M118.2 217.1l9.3 0.0M115.8 221.4l9.3 0.0M115.2 225.7l9.3 0.0M117.2 227.8l9.3 0.0M115.1 242.9l9.3 0.0M116.2 260.1l9.3 0.0M113.6 262.2l9.3 0.0M113.4 266.5l9.3 0.0M113.0 268.7l9.3 0.0M111.3 270.8l9.3 0.0M113.2 273.0l9.3 0.0M112.8 277.3l9.3 0.0M113.6 279.4l9.3 0.0M116.4 281.6l9.3 0.0M128.5 176.2l9.3 0.0M123.9 202.0l9.3 0.0M124.9 204.2l9.3 0.0M123.9 208.5l9.3 0.0M123.9 212.8l9.3 0.0M123.8 214.9l9.3 0.0M126.7 217.1l9.3 0.0M126.3 236.4l9.3 0.0M125.7 242.9l9.3 0.0M123.7 247.2l9.3 0.0M126.0 249.3l9.3 0.0M127.1 253.6l9.3 0.0M126.6 255.8l9.3 0.0M126.1 257.9l9.3 0.0M126.1 275.1l9.3 0.0M125.8 277.3l9.3 0.0M123.5 279.4l9.3 0.0M128.9 305.2l9.3 0.0M126.3 307.4l9.3 0.0"/>
<path fill="none" stroke="#1b9e77" stroke-width="1.35" d="M6.3 191.0l9.3 0.0M2.8 234.0l9.3 0.0M3.1 244.8l9.3 0.0M4.8 249.1l9.3 0.0M5.9 307.1l9.3 0.0M18.8 176.0l9.3 0.0M11.6 197.5l9.3 0.0M12.6 214.7l9.3 0.0M14.9 231.9l9.3 0.0M12.9 240.5l9.3 0.0M15.6 257.7l9.3 0.0M13.4 268.4l9.3 0.0M27.5 216.8l9.3 0.0M28.1 225.4l9.3 0.0M21.9 257.7l9.3 0.0M23.6 266.3l9.3 0.0M24.7 270.6l9.3 0.0M23.8 287.8l9.3 0.0M28.3 302.8l9.3 0.0M33.3 221.1l9.3 0.0M34.1 270.6l9.3 0.0M37.3 300.7l9.3 0.0M40.9 305.0l9.3 0.0M48.3 176.0l9.3 0.0M45.7 208.2l9.3 0.0M44.3 214.7l9.3 0.0M47.0 242.6l9.3 0.0M46.3 246.9l9.3 0.0M42.5 264.1l9.3 0.0M41.5 270.6l9.3 0.0M45.7 292.1l9.3 0.0M47.4 302.8l9.3 0.0M47.5 307.1l9.3 0.0M55.6 203.9l9.3 0.0M55.9 212.5l9.3 0.0M53.4 219.0l9.3 0.0M56.2 249.1l9.3 0.0M55.7 257.7l9.3 0.0M53.4 262.0l9.3 0.0M53.2 272.7l9.3 0.0M53.5 281.3l9.3 0.0M57.6 305.0l9.3 0.0M63.5 206.1l9.3 0.0M66.5 216.8l9.3 0.0M63.0 242.6l9.3 0.0M65.1 253.4l9.3 0.0M68.8 259.8l9.3 0.0M74.2 180.3l9.3 0.0M76.0 191.0l9.3 0.0M77.2 221.1l9.3 0.0M75.2 242.6l9.3 0.0M75.5 249.1l9.3 0.0M78.9 259.8l9.3 0.0M74.7 281.3l9.3 0.0M75.8 298.5l9.3 0.0M90.4 176.0l9.3 0.0M84.9 195.3l9.3 0.0M89.3 223.3l9.3 0.0M86.1 229.7l9.3 0.0M86.1 255.5l9.3 0.0M82.7 279.2l9.3 0.0M87.8 298.5l9.3 0.0M91.4 305.0l9.3 0.0M95.8 180.3l9.3 0.0M99.7 186.7l9.3 0.0M97.2 227.6l9.3 0.0M94.6 246.9l9.3 0.0M93.1 279.2l9.3 0.0M99.1 305.0l9.3 0.0M106.3 178.1l9.3 0.0M106.6 182.4l9.3 0.0M109.2 186.7l9.3 0.0M105.9 203.9l9.3 0.0M106.4 208.2l9.3 0.0M109.0 225.4l9.3 0.0M106.8 229.7l9.3 0.0M105.6 238.3l9.3 0.0M107.0 259.8l9.3 0.0M106.0 274.9l9.3 0.0M118.0 219.0l9.3 0.0M115.6 223.3l9.3 0.0M117.0 229.7l9.3 0.0M116.1 246.9l9.3 0.0M113.2 264.1l9.3 0.0M112.9 274.9l9.3 0.0M118.6 307.1l9.3 0.0M125.6 178.1l9.3 0.0M120.9 206.1l9.3 0.0M123.4 210.4l9.3 0.0M125.0 219.0l9.3 0.0M125.4 240.5l9.3 0.0M123.2 244.8l9.3 0.0M127.2 251.2l9.3 0.0M124.1 281.3l9.3 0.0M126.2 302.8l9.3 0.0"/>
</g>
<rect x="120.73" y="170.30" width="21.67" height="24.90" fill="#fff" fill-opacity="0.72"/>
<text x="130.77" y="187.50" text-anchor="middle" font-size="13.5" font-weight="bold">d</text>
<rect x="0.50" y="170.30" width="141.90" height="141.60" fill="none" stroke="#000" stroke-width="1.3"/>
<g clip-path="url(#cli)">
<path fill="none" stroke="#7570b3" stroke-width="1.95" d="M559.9 177.6l4.8 8.3M558.4 179.5l4.8 8.3M553.3 182.1l4.8 8.3M549.7 184.3l4.8 8.3M548.9 186.4l4.8 8.3M547.3 188.2l4.8 8.3M544.6 190.7l4.8 8.3M592.9 175.1l4.8 8.3M590.9 174.9l4.8 8.3M582.8 177.9l4.8 8.3M581.6 179.1l4.8 8.3M579.5 179.4l4.8 8.3M572.3 179.1l4.8 8.3M569.9 179.0l4.8 8.3M566.9 182.0l4.8 8.3M564.2 181.2l4.8 8.3M561.4 188.5l4.8 8.3M560.2 190.7l4.8 8.3M555.2 189.9l4.8 8.3M553.5 190.9l4.8 8.3M604.8 175.9l4.8 8.3M603.6 177.8l4.8 8.3M596.9 182.2l4.8 8.3M594.1 180.6l4.8 8.3M590.7 179.9l4.8 8.3M587.1 180.9l4.8 8.3M586.4 184.2l4.8 8.3M583.4 186.2l4.8 8.3M580.2 184.9l4.8 8.3M578.3 189.5l4.8 8.3M571.8 186.8l4.8 8.3M571.6 190.1l4.8 8.3M568.8 193.1l4.8 8.3M566.2 193.0l4.8 8.3M546.8 207.0l4.8 8.3M545.5 208.6l4.8 8.3M628.0 175.7l4.8 8.3M624.5 177.4l4.8 8.3M624.5 181.6l4.8 8.3M621.8 180.9l4.8 8.3M614.5 180.8l4.8 8.3M611.7 183.5l4.8 8.3M609.1 183.4l4.8 8.3M605.1 184.3l4.8 8.3M605.1 187.8l4.8 8.3M603.1 189.0l4.8 8.3M599.6 190.0l4.8 8.3M595.9 188.8l4.8 8.3M595.4 190.6l4.8 8.3M591.3 192.6l4.8 8.3M589.4 196.5l4.8 8.3M585.3 198.0l4.8 8.3M584.7 200.6l4.8 8.3M581.4 199.0l4.8 8.3M577.6 200.6l4.8 8.3M576.1 201.7l4.8 8.3M571.5 206.0l4.8 8.3M571.7 210.6l4.8 8.3M569.8 210.6l4.8 8.3M562.7 210.2l4.8 8.3M560.3 210.7l4.8 8.3M559.1 212.4l4.8 8.3M555.5 213.6l4.8 8.3M551.7 215.4l4.8 8.3M546.0 217.6l4.8 8.3M648.7 175.6l4.8 8.3M645.2 177.4l4.8 8.3M642.1 176.4l4.8 8.3M640.6 177.4l4.8 8.3M636.4 182.0l4.8 8.3M633.8 181.5l4.8 8.3M628.8 189.1l4.8 8.3M622.2 189.5l4.8 8.3M618.9 192.1l4.8 8.3M617.1 192.9l4.8 8.3M613.0 194.2l4.8 8.3M611.1 194.7l4.8 8.3M611.5 198.8l4.8 8.3M608.7 202.6l4.8 8.3M606.2 201.5l4.8 8.3M598.1 199.9l4.8 8.3M597.1 202.7l4.8 8.3M594.2 200.9l4.8 8.3M590.8 203.2l4.8 8.3M590.3 206.6l4.8 8.3M589.7 209.2l4.8 8.3M583.8 207.5l4.8 8.3M582.9 209.7l4.8 8.3M581.3 210.8l4.8 8.3M577.8 213.0l4.8 8.3M576.4 214.5l4.8 8.3M574.7 215.8l4.8 8.3M572.4 219.6l4.8 8.3M569.1 221.4l4.8 8.3M566.7 221.8l4.8 8.3M565.5 223.6l4.8 8.3M561.5 224.1l4.8 8.3M556.7 224.1l4.8 8.3M555.1 225.3l4.8 8.3M550.9 226.2l4.8 8.3M547.8 229.0l4.8 8.3M545.8 229.1l4.8 8.3M544.7 231.6l4.8 8.3M668.7 174.7l4.8 8.3M665.1 176.1l4.8 8.3M662.2 175.2l4.8 8.3M659.4 174.5l4.8 8.3M652.8 179.2l4.8 8.3M651.6 180.6l4.8 8.3M650.4 182.9l4.8 8.3M646.5 187.6l4.8 8.3M641.8 188.1l4.8 8.3M640.5 189.2l4.8 8.3M638.0 188.8l4.8 8.3M635.3 192.1l4.8 8.3M633.2 192.5l4.8 8.3M631.5 193.7l4.8 8.3M628.1 196.1l4.8 8.3M625.9 200.6l4.8 8.3M624.2 201.3l4.8 8.3M621.0 199.6l4.8 8.3M615.5 202.4l4.8 8.3M614.2 203.4l4.8 8.3M612.6 205.4l4.8 8.3M609.9 208.0l4.8 8.3M607.5 209.1l4.8 8.3M605.6 208.3l4.8 8.3M598.3 211.9l4.8 8.3M595.6 211.5l4.8 8.3M595.3 215.2l4.8 8.3M591.6 216.6l4.8 8.3M588.3 219.0l4.8 8.3M585.0 217.2l4.8 8.3M583.9 219.2l4.8 8.3M579.3 219.5l4.8 8.3M577.8 221.2l4.8 8.3M577.9 224.7l4.8 8.3M573.4 225.3l4.8 8.3M571.6 225.7l4.8 8.3M567.8 230.9l4.8 8.3M561.7 232.8l4.8 8.3M558.5 235.5l4.8 8.3M556.6 236.2l4.8 8.3M551.6 235.5l4.8 8.3M548.8 234.3l4.8 8.3M545.9 241.5l4.8 8.3M544.8 243.2l4.8 8.3M678.7 179.4l4.8 8.3M676.1 179.4l4.8 8.3M672.2 180.7l4.8 8.3M663.2 184.2l4.8 8.3M661.4 185.8l4.8 8.3M654.7 193.9l4.8 8.3M651.5 192.7l4.8 8.3M648.7 195.0l4.8 8.3M646.9 197.0l4.8 8.3M644.9 200.8l4.8 8.3M639.2 203.0l4.8 8.3M637.8 204.7l4.8 8.3M635.5 204.7l4.8 8.3M631.0 204.7l4.8 8.3M628.6 208.9l4.8 8.3M627.2 210.3l4.8 8.3M626.0 212.6l4.8 8.3M622.0 213.6l4.8 8.3M620.9 215.1l4.8 8.3M617.5 214.0l4.8 8.3M614.9 216.5l4.8 8.3M609.8 215.7l4.8 8.3M606.3 218.6l4.8 8.3M605.0 219.6l4.8 8.3M603.0 220.2l4.8 8.3M599.9 223.3l4.8 8.3M596.9 225.8l4.8 8.3M594.2 225.5l4.8 8.3M592.6 226.5l4.8 8.3M588.6 227.4l4.8 8.3M585.3 226.1l4.8 8.3M584.7 228.8l4.8 8.3M583.1 233.7l4.8 8.3M578.1 236.9l4.8 8.3M573.6 237.5l4.8 8.3M572.8 239.7l4.8 8.3M567.3 239.3l4.8 8.3M563.8 244.7l4.8 8.3M557.6 241.8l4.8 8.3M556.3 243.6l4.8 8.3M553.2 246.4l4.8 8.3M550.9 246.4l4.8 8.3M549.3 251.1l4.8 8.3M548.4 254.4l4.8 8.3M545.1 255.4l4.8 8.3M678.0 190.7l4.8 8.3M676.9 192.3l4.8 8.3M674.2 191.9l4.8 8.3M670.2 193.3l4.8 8.3M669.0 194.3l4.8 8.3M667.0 195.6l4.8 8.3M662.9 196.5l4.8 8.3M661.5 202.2l4.8 8.3M661.0 204.7l4.8 8.3M658.1 204.1l4.8 8.3M653.5 203.4l4.8 8.3M653.3 208.1l4.8 8.3M651.6 208.3l4.8 8.3M648.3 210.9l4.8 8.3M647.4 213.2l4.8 8.3M644.2 211.6l4.8 8.3M640.6 213.5l4.8 8.3M635.7 212.8l4.8 8.3M634.3 215.1l4.8 8.3M632.5 219.4l4.8 8.3M630.6 220.6l4.8 8.3M626.0 220.6l4.8 8.3M625.9 223.8l4.8 8.3M623.7 228.5l4.8 8.3M620.7 226.6l4.8 8.3M614.8 224.3l4.8 8.3M612.6 225.0l4.8 8.3M610.5 226.0l4.8 8.3M606.8 226.7l4.8 8.3M603.8 229.9l4.8 8.3M603.5 233.1l4.8 8.3M602.2 235.0l4.8 8.3M594.4 233.5l4.8 8.3M587.8 238.4l4.8 8.3M587.8 241.9l4.8 8.3M583.2 242.4l4.8 8.3M583.4 246.2l4.8 8.3M580.7 246.0l4.8 8.3M577.2 247.2l4.8 8.3M574.5 246.6l4.8 8.3M572.0 247.5l4.8 8.3M569.4 249.9l4.8 8.3M567.5 251.1l4.8 8.3M563.8 252.6l4.8 8.3M562.5 254.3l4.8 8.3M558.8 251.7l4.8 8.3M555.8 254.8l4.8 8.3M553.5 263.2l4.8 8.3M550.4 264.7l4.8 8.3M677.2 201.2l4.8 8.3M675.8 203.0l4.8 8.3M672.2 199.9l4.8 8.3M668.8 202.6l4.8 8.3M667.5 204.6l4.8 8.3M665.5 209.1l4.8 8.3M663.9 209.7l4.8 8.3M662.4 211.4l4.8 8.3M656.7 213.9l4.8 8.3M654.1 216.7l4.8 8.3M652.4 218.0l4.8 8.3M650.7 218.8l4.8 8.3M641.7 219.6l4.8 8.3M640.1 220.5l4.8 8.3M638.8 226.6l4.8 8.3M636.8 227.0l4.8 8.3M633.1 229.0l4.8 8.3M631.0 229.2l4.8 8.3M626.9 230.2l4.8 8.3M624.3 232.8l4.8 8.3M620.6 231.7l4.8 8.3M619.7 232.8l4.8 8.3M616.2 235.8l4.8 8.3M615.3 237.5l4.8 8.3M609.8 240.3l4.8 8.3M609.3 243.2l4.8 8.3M606.6 242.7l4.8 8.3M603.7 245.7l4.8 8.3M599.8 246.8l4.8 8.3M596.5 245.4l4.8 8.3M595.0 246.8l4.8 8.3M587.9 250.5l4.8 8.3M586.7 251.9l4.8 8.3M586.3 255.6l4.8 8.3M582.1 255.7l4.8 8.3M579.2 254.7l4.8 8.3M576.3 255.0l4.8 8.3M575.6 260.7l4.8 8.3M574.5 263.2l4.8 8.3M569.4 262.2l4.8 8.3M568.3 264.4l4.8 8.3M565.7 267.9l4.8 8.3M563.6 268.4l4.8 8.3M560.6 270.6l4.8 8.3M558.4 271.7l4.8 8.3M556.1 274.5l4.8 8.3M555.1 277.6l4.8 8.3M551.6 274.9l4.8 8.3M546.8 274.6l4.8 8.3M546.2 277.6l4.8 8.3M678.8 211.4l4.8 8.3M674.0 215.8l4.8 8.3M672.2 216.2l4.8 8.3M670.3 220.9l4.8 8.3M667.0 219.4l4.8 8.3M663.9 217.8l4.8 8.3M658.5 224.3l4.8 8.3M655.6 227.2l4.8 8.3M653.2 227.1l4.8 8.3M648.6 227.4l4.8 8.3M647.6 229.8l4.8 8.3M645.5 229.8l4.8 8.3M644.0 235.6l4.8 8.3M640.0 236.8l4.8 8.3M637.3 240.2l4.8 8.3M633.4 241.5l4.8 8.3M631.4 241.8l4.8 8.3M628.9 240.8l4.8 8.3M624.2 240.6l4.8 8.3M620.4 243.1l4.8 8.3M619.6 245.0l4.8 8.3M618.3 246.7l4.8 8.3M614.3 248.2l4.8 8.3M611.2 250.5l4.8 8.3M609.7 252.3l4.8 8.3M605.5 252.7l4.8 8.3M603.0 256.8l4.8 8.3M601.0 257.1l4.8 8.3M593.4 260.1l4.8 8.3M592.0 261.0l4.8 8.3M590.9 263.7l4.8 8.3M587.6 265.3l4.8 8.3M579.1 262.9l4.8 8.3M578.8 266.2l4.8 8.3M575.5 272.9l4.8 8.3M573.9 274.0l4.8 8.3M566.5 273.5l4.8 8.3M566.1 276.5l4.8 8.3M562.9 279.5l4.8 8.3M559.5 280.3l4.8 8.3M557.3 281.4l4.8 8.3M553.7 283.0l4.8 8.3M549.2 287.4l4.8 8.3M545.0 291.3l4.8 8.3M677.2 221.3l4.8 8.3M675.3 221.7l4.8 8.3M674.1 227.3l4.8 8.3M672.5 228.9l4.8 8.3M669.2 226.9l4.8 8.3M666.4 230.8l4.8 8.3M664.8 231.3l4.8 8.3M661.7 234.0l4.8 8.3M659.8 234.7l4.8 8.3M654.0 236.7l4.8 8.3M652.5 238.4l4.8 8.3M649.0 235.9l4.8 8.3M647.4 241.5l4.8 8.3M645.5 242.1l4.8 8.3M644.5 244.7l4.8 8.3M641.3 247.0l4.8 8.3M640.3 248.7l4.8 8.3M636.9 247.5l4.8 8.3M633.5 248.8l4.8 8.3M631.7 251.0l4.8 8.3M626.9 249.8l4.8 8.3M626.8 254.2l4.8 8.3M621.6 256.6l4.8 8.3M619.3 260.6l4.8 8.3M616.3 259.4l4.8 8.3M613.0 258.1l4.8 8.3M606.7 263.2l4.8 8.3M605.2 264.4l4.8 8.3M603.9 269.8l4.8 8.3M602.3 271.5l4.8 8.3M595.2 275.0l4.8 8.3M592.5 273.7l4.8 8.3M584.7 272.5l4.8 8.3M580.6 277.7l4.8 8.3M579.5 279.8l4.8 8.3M575.4 280.4l4.8 8.3M570.9 281.0l4.8 8.3M570.3 283.9l4.8 8.3M568.3 288.7l4.8 8.3M564.4 288.9l4.8 8.3M562.6 290.6l4.8 8.3M557.9 290.2l4.8 8.3M556.6 295.6l4.8 8.3M552.3 296.9l4.8 8.3M550.6 297.6l4.8 8.3M677.0 240.5l4.8 8.3M671.2 239.1l4.8 8.3M670.1 240.5l4.8 8.3M666.9 238.8l4.8 8.3M665.8 245.0l4.8 8.3M663.2 244.5l4.8 8.3M659.7 246.5l4.8 8.3M656.5 245.3l4.8 8.3M654.3 249.7l4.8 8.3M649.7 249.4l4.8 8.3M648.5 251.6l4.8 8.3M646.7 256.4l4.8 8.3M642.0 256.3l4.8 8.3M638.4 257.3l4.8 8.3M634.6 256.0l4.8 8.3M632.0 258.6l4.8 8.3M631.2 265.0l4.8 8.3M628.6 264.4l4.8 8.3M626.9 265.7l4.8 8.3M620.4 266.5l4.8 8.3M618.0 266.7l4.8 8.3M616.5 268.0l4.8 8.3M613.5 270.5l4.8 8.3M610.2 273.1l4.8 8.3M607.9 276.6l4.8 8.3M600.8 280.9l4.8 8.3M597.1 281.7l4.8 8.3M595.9 283.6l4.8 8.3M593.5 284.8l4.8 8.3M588.1 286.8l4.8 8.3M586.7 288.2l4.8 8.3M583.7 291.0l4.8 8.3M582.8 293.3l4.8 8.3M580.2 293.1l4.8 8.3M575.5 296.4l4.8 8.3M573.1 297.2l4.8 8.3M678.3 246.4l4.8 8.3M675.2 249.3l4.8 8.3M671.8 251.5l4.8 8.3M669.1 254.8l4.8 8.3M666.3 258.0l4.8 8.3M664.2 258.6l4.8 8.3M659.6 258.9l4.8 8.3M658.8 261.3l4.8 8.3M657.1 262.1l4.8 8.3M653.3 263.9l4.8 8.3M650.2 262.4l4.8 8.3M645.2 265.7l4.8 8.3M641.4 267.7l4.8 8.3M635.9 265.4l4.8 8.3M635.7 269.6l4.8 8.3M633.2 272.4l4.8 8.3M630.9 272.7l4.8 8.3M627.0 273.9l4.8 8.3M624.9 274.3l4.8 8.3M621.0 275.8l4.8 8.3M618.6 275.3l4.8 8.3M618.5 279.2l4.8 8.3M613.1 282.3l4.8 8.3M610.2 285.1l4.8 8.3M609.0 287.1l4.8 8.3M607.0 286.9l4.8 8.3M603.7 289.7l4.8 8.3M599.7 290.2l4.8 8.3M596.1 292.3l4.8 8.3M590.4 294.5l4.8 8.3M587.4 297.5l4.8 8.3M585.6 298.0l4.8 8.3M580.6 297.9l4.8 8.3M676.4 255.4l4.8 8.3M674.1 259.3l4.8 8.3M673.1 261.7l4.8 8.3M671.2 266.6l4.8 8.3M669.7 268.1l4.8 8.3M665.6 269.4l4.8 8.3M660.6 268.2l4.8 8.3M655.0 270.9l4.8 8.3M655.3 274.6l4.8 8.3M651.2 276.1l4.8 8.3M649.7 276.9l4.8 8.3M646.4 276.4l4.8 8.3M641.0 274.3l4.8 8.3M640.2 277.4l4.8 8.3M639.3 279.0l4.8 8.3M634.6 279.1l4.8 8.3M631.9 282.4l4.8 8.3M627.1 282.5l4.8 8.3M623.3 287.5l4.8 8.3M620.5 287.0l4.8 8.3M619.7 289.4l4.8 8.3M617.3 292.9l4.8 8.3M611.7 295.1l4.8 8.3M609.6 299.9l4.8 8.3M676.1 275.0l4.8 8.3M674.2 275.9l4.8 8.3M671.6 275.1l4.8 8.3M663.0 280.8l4.8 8.3M659.8 279.1l4.8 8.3M657.2 282.8l4.8 8.3M653.7 283.8l4.8 8.3M650.2 283.0l4.8 8.3M644.9 285.6l4.8 8.3M642.8 285.1l4.8 8.3M642.1 287.8l4.8 8.3M638.6 294.0l4.8 8.3M636.7 294.7l4.8 8.3M634.1 294.7l4.8 8.3M629.7 294.6l4.8 8.3M629.7 298.5l4.8 8.3M624.6 298.0l4.8 8.3M676.7 280.2l4.8 8.3M675.2 281.3l4.8 8.3M669.2 291.6l4.8 8.3M666.3 290.3l4.8 8.3M664.4 290.4l4.8 8.3M661.1 293.4l4.8 8.3M659.4 293.6l4.8 8.3M655.4 294.7l4.8 8.3M645.5 298.0l4.8 8.3M676.0 294.9l4.8 8.3M669.9 296.6l4.8 8.3M667.0 299.7l4.8 8.3"/>
<path fill="none" stroke="#7570b3" stroke-width="1.40" d="M556.9 180.1l4.8 8.3M554.9 180.8l4.8 8.3M551.2 182.5l4.8 8.3M546.9 190.7l4.8 8.3M589.0 176.4l4.8 8.3M586.6 174.8l4.8 8.3M577.0 178.7l4.8 8.3M574.9 179.3l4.8 8.3M568.3 180.2l4.8 8.3M564.4 184.9l4.8 8.3M562.8 186.6l4.8 8.3M558.3 190.3l4.8 8.3M552.9 192.7l4.8 8.3M611.2 174.6l4.8 8.3M607.1 174.9l4.8 8.3M599.5 177.5l4.8 8.3M597.8 179.2l4.8 8.3M590.2 181.1l4.8 8.3M584.1 183.0l4.8 8.3M579.6 187.5l4.8 8.3M575.5 188.1l4.8 8.3M569.4 189.6l4.8 8.3M550.1 209.1l4.8 8.3M544.7 210.9l4.8 8.3M627.8 178.7l4.8 8.3M619.2 180.1l4.8 8.3M616.0 178.2l4.8 8.3M613.9 182.9l4.8 8.3M608.3 185.5l4.8 8.3M601.3 189.2l4.8 8.3M593.4 191.3l4.8 8.3M590.2 193.4l4.8 8.3M587.4 196.8l4.8 8.3M578.3 197.5l4.8 8.3M575.3 203.7l4.8 8.3M573.7 205.4l4.8 8.3M567.3 210.4l4.8 8.3M564.6 209.7l4.8 8.3M558.4 214.1l4.8 8.3M553.8 215.4l4.8 8.3M550.1 215.9l4.8 8.3M547.6 216.1l4.8 8.3M646.9 176.2l4.8 8.3M638.9 177.5l4.8 8.3M638.0 181.0l4.8 8.3M632.3 182.7l4.8 8.3M631.6 185.2l4.8 8.3M629.6 185.8l4.8 8.3M627.2 189.8l4.8 8.3M625.1 190.4l4.8 8.3M621.0 191.6l4.8 8.3M614.8 192.6l4.8 8.3M608.9 198.6l4.8 8.3M603.0 200.6l4.8 8.3M600.2 198.5l4.8 8.3M592.6 201.5l4.8 8.3M586.8 207.8l4.8 8.3M579.7 211.5l4.8 8.3M574.3 217.9l4.8 8.3M569.3 217.8l4.8 8.3M562.9 221.9l4.8 8.3M559.8 225.9l4.8 8.3M552.4 224.4l4.8 8.3M548.2 225.0l4.8 8.3M668.1 176.5l4.8 8.3M657.0 177.6l4.8 8.3M656.5 180.8l4.8 8.3M650.5 185.9l4.8 8.3M648.2 186.2l4.8 8.3M644.3 187.0l4.8 8.3M637.4 191.4l4.8 8.3M630.0 194.6l4.8 8.3M627.3 197.8l4.8 8.3M619.8 201.3l4.8 8.3M617.8 202.0l4.8 8.3M611.3 206.4l4.8 8.3M603.1 208.0l4.8 8.3M601.5 209.7l4.8 8.3M600.5 211.4l4.8 8.3M595.1 218.0l4.8 8.3M590.2 218.0l4.8 8.3M580.7 217.5l4.8 8.3M576.6 226.5l4.8 8.3M570.7 228.2l4.8 8.3M565.5 230.4l4.8 8.3M563.7 232.6l4.8 8.3M559.7 232.6l4.8 8.3M553.7 234.5l4.8 8.3M548.3 237.4l4.8 8.3M547.4 239.7l4.8 8.3M674.9 179.8l4.8 8.3M672.3 183.8l4.8 8.3M668.8 181.9l4.8 8.3M666.3 181.8l4.8 8.3M664.4 182.8l4.8 8.3M661.8 190.0l4.8 8.3M660.3 191.5l4.8 8.3M659.0 192.9l4.8 8.3M656.9 193.6l4.8 8.3M650.1 193.4l4.8 8.3M646.8 199.5l4.8 8.3M643.2 201.5l4.8 8.3M642.8 204.6l4.8 8.3M634.4 206.4l4.8 8.3M629.5 206.3l4.8 8.3M623.5 211.8l4.8 8.3M616.4 215.4l4.8 8.3M613.1 218.1l4.8 8.3M607.7 216.1l4.8 8.3M601.9 221.8l4.8 8.3M598.7 224.2l4.8 8.3M589.6 224.6l4.8 8.3M583.2 230.0l4.8 8.3M581.2 234.5l4.8 8.3M578.5 233.6l4.8 8.3M576.2 237.7l4.8 8.3M571.1 240.1l4.8 8.3M565.6 238.9l4.8 8.3M565.3 242.2l4.8 8.3M561.1 243.3l4.8 8.3M555.7 245.8l4.8 8.3M550.9 249.7l4.8 8.3M546.1 253.3l4.8 8.3M672.0 191.7l4.8 8.3M665.5 196.4l4.8 8.3M662.6 199.1l4.8 8.3M656.0 203.5l4.8 8.3M650.1 209.3l4.8 8.3M642.5 212.2l4.8 8.3M638.7 213.8l4.8 8.3M634.5 218.6l4.8 8.3M629.2 221.7l4.8 8.3M624.3 225.1l4.8 8.3M617.5 225.7l4.8 8.3M607.7 223.8l4.8 8.3M603.7 224.9l4.8 8.3M599.6 234.3l4.8 8.3M598.4 235.9l4.8 8.3M593.9 236.0l4.8 8.3M591.5 236.2l4.8 8.3M590.0 237.4l4.8 8.3M586.2 243.1l4.8 8.3M579.3 246.8l4.8 8.3M569.6 245.9l4.8 8.3M565.9 251.7l4.8 8.3M558.9 255.7l4.8 8.3M555.9 258.3l4.8 8.3M555.8 261.8l4.8 8.3M550.9 261.7l4.8 8.3M547.8 264.4l4.8 8.3M546.2 265.1l4.8 8.3M679.2 200.0l4.8 8.3M671.3 202.4l4.8 8.3M667.6 207.7l4.8 8.3M659.8 210.1l4.8 8.3M658.0 210.7l4.8 8.3M656.8 216.8l4.8 8.3M648.2 217.9l4.8 8.3M646.0 218.3l4.8 8.3M640.7 225.7l4.8 8.3M635.0 227.6l4.8 8.3M629.9 230.1l4.8 8.3M625.6 231.2l4.8 8.3M618.0 233.8l4.8 8.3M613.2 237.3l4.8 8.3M610.7 237.1l4.8 8.3M605.4 244.3l4.8 8.3M601.2 244.7l4.8 8.3M592.9 246.7l4.8 8.3M593.0 250.4l4.8 8.3M591.6 252.3l4.8 8.3M584.0 255.1l4.8 8.3M575.8 256.7l4.8 8.3M572.3 262.8l4.8 8.3M566.1 263.8l4.8 8.3M562.0 268.9l4.8 8.3M556.7 271.6l4.8 8.3M548.7 273.8l4.8 8.3M677.0 212.2l4.8 8.3M676.5 215.4l4.8 8.3M671.9 219.5l4.8 8.3M662.7 218.7l4.8 8.3M661.7 222.1l4.8 8.3M661.7 225.4l4.8 8.3M657.4 226.1l4.8 8.3M651.5 227.8l4.8 8.3M645.6 234.1l4.8 8.3M641.3 234.2l4.8 8.3M639.2 239.1l4.8 8.3M637.6 243.5l4.8 8.3M625.5 239.5l4.8 8.3M621.5 239.9l4.8 8.3M616.9 247.9l4.8 8.3M613.5 249.9l4.8 8.3M608.6 253.6l4.8 8.3M604.9 255.1l4.8 8.3M599.7 258.6l4.8 8.3M599.0 260.7l4.8 8.3M596.3 260.5l4.8 8.3M590.9 267.0l4.8 8.3M584.3 263.0l4.8 8.3M582.0 264.2l4.8 8.3M578.8 270.1l4.8 8.3M577.5 271.7l4.8 8.3M571.8 273.6l4.8 8.3M569.4 273.9l4.8 8.3M560.3 277.9l4.8 8.3M556.5 282.9l4.8 8.3M552.7 284.2l4.8 8.3M551.1 285.6l4.8 8.3M548.8 290.4l4.8 8.3M546.3 289.7l4.8 8.3M675.5 225.8l4.8 8.3M667.8 227.6l4.8 8.3M662.2 230.2l4.8 8.3M657.7 234.4l4.8 8.3M656.4 236.4l4.8 8.3M648.0 238.2l4.8 8.3M643.1 245.7l4.8 8.3M634.9 247.3l4.8 8.3M630.8 251.5l4.8 8.3M626.0 255.5l4.8 8.3M623.3 254.6l4.8 8.3M619.5 256.6l4.8 8.3M612.8 260.9l4.8 8.3M611.2 262.0l4.8 8.3M599.6 270.3l4.8 8.3M599.0 272.5l4.8 8.3M596.9 273.5l4.8 8.3M589.4 271.8l4.8 8.3M586.6 272.2l4.8 8.3M582.2 276.0l4.8 8.3M578.2 281.0l4.8 8.3M574.5 282.7l4.8 8.3M570.0 286.4l4.8 8.3M566.5 288.6l4.8 8.3M561.4 291.4l4.8 8.3M553.8 294.8l4.8 8.3M549.8 299.0l4.8 8.3M679.2 240.0l4.8 8.3M673.8 238.1l4.8 8.3M666.4 241.7l4.8 8.3M661.5 245.2l4.8 8.3M655.5 246.5l4.8 8.3M653.0 250.6l4.8 8.3M649.2 256.3l4.8 8.3M645.4 256.9l4.8 8.3M641.2 258.2l4.8 8.3M634.4 257.7l4.8 8.3M632.3 263.2l4.8 8.3M625.0 266.2l4.8 8.3M623.6 267.5l4.8 8.3M614.5 267.8l4.8 8.3M610.9 269.8l4.8 8.3M609.2 275.0l4.8 8.3M604.2 274.2l4.8 8.3M602.4 275.2l4.8 8.3M602.8 279.2l4.8 8.3M598.9 280.9l4.8 8.3M590.7 282.4l4.8 8.3M588.9 283.2l4.8 8.3M584.6 288.1l4.8 8.3M577.4 291.7l4.8 8.3M576.7 294.4l4.8 8.3M572.0 298.2l4.8 8.3M677.3 249.1l4.8 8.3M672.6 248.2l4.8 8.3M671.8 254.9l4.8 8.3M667.9 256.3l4.8 8.3M661.7 257.3l4.8 8.3M655.5 263.2l4.8 8.3M649.2 263.5l4.8 8.3M647.3 264.9l4.8 8.3M643.2 265.0l4.8 8.3M639.3 266.2l4.8 8.3M633.7 268.8l4.8 8.3M629.1 273.3l4.8 8.3M621.9 272.9l4.8 8.3M615.8 278.3l4.8 8.3M615.3 281.2l4.8 8.3M613.1 285.2l4.8 8.3M605.4 288.2l4.8 8.3M602.6 290.7l4.8 8.3M597.3 290.8l4.8 8.3M595.0 293.7l4.8 8.3M592.2 293.4l4.8 8.3M588.1 294.1l4.8 8.3M584.4 299.8l4.8 8.3M676.0 258.2l4.8 8.3M673.1 265.3l4.8 8.3M667.8 267.9l4.8 8.3M664.1 269.8l4.8 8.3M659.0 269.2l4.8 8.3M657.4 270.5l4.8 8.3M652.9 274.7l4.8 8.3M644.3 274.9l4.8 8.3M637.8 279.9l4.8 8.3M634.4 282.4l4.8 8.3M626.1 284.0l4.8 8.3M625.4 286.6l4.8 8.3M618.4 290.9l4.8 8.3M615.5 293.8l4.8 8.3M612.4 292.4l4.8 8.3M610.3 296.8l4.8 8.3M677.2 272.4l4.8 8.3M670.4 277.1l4.8 8.3M669.1 278.5l4.8 8.3M667.1 278.9l4.8 8.3M664.5 278.7l4.8 8.3M660.3 282.8l4.8 8.3M655.5 283.0l4.8 8.3M649.2 283.4l4.8 8.3M645.9 282.2l4.8 8.3M640.9 289.4l4.8 8.3M640.6 293.2l4.8 8.3M632.9 295.7l4.8 8.3M626.7 297.2l4.8 8.3M674.8 284.7l4.8 8.3M674.2 287.3l4.8 8.3M671.1 285.8l4.8 8.3M670.1 288.5l4.8 8.3M662.0 290.4l4.8 8.3M656.8 293.9l4.8 8.3M653.6 295.5l4.8 8.3M651.0 295.6l4.8 8.3M650.0 297.0l4.8 8.3M648.2 297.8l4.8 8.3M643.7 298.5l4.8 8.3M679.0 295.7l4.8 8.3M673.5 294.3l4.8 8.3M673.2 297.9l4.8 8.3M669.0 297.8l4.8 8.3"/>
<path fill="none" stroke="#d95f02" stroke-width="1.6" d="M580.3 236.0l4.8 -8.3M599.9 264.2l4.8 -8.3M601.6 265.2l4.8 -8.3M603.3 266.2l4.8 -8.3M667.9 286.7l4.8 -8.3M669.6 287.7l4.8 -8.3M671.3 288.7l4.8 -8.3"/>
<path fill="none" stroke="#1b9e77" stroke-width="1.7" d="M549.4 200.2h9.7M549.2 202.4h9.7M549.8 204.6h9.7M549.2 206.8h9.7M549.9 209.0h9.7M559.9 204.6h9.7M559.8 206.8h9.7M560.5 209.0h9.7"/>
</g>
<rect x="667.97" y="170.30" width="16.63" height="24.90" fill="#fff" fill-opacity="0.72"/>
<text x="675.48" y="187.50" text-anchor="middle" font-size="13.5" font-weight="bold">i</text>
<rect x="542.90" y="170.30" width="141.70" height="141.60" fill="none" stroke="#000" stroke-width="1.3"/>
<g clip-path="url(#clc)">
<path fill="none" stroke="#1b9e77" stroke-width="1.95" d="M2.3 387.0l9.7 0.0M2.9 391.0l9.7 0.0M4.2 393.0l9.7 0.0M2.4 433.0l9.7 0.0M3.4 469.0l9.7 0.0M2.6 471.0l9.7 0.0M2.1 473.0l9.7 0.0M3.2 475.0l9.7 0.0M10.0 347.0l9.7 0.0M9.2 349.0l9.7 0.0M10.9 351.0l9.7 0.0M12.6 355.0l9.7 0.0M10.2 359.0l9.7 0.0M11.3 363.0l9.7 0.0M12.9 365.0l9.7 0.0M10.4 367.0l9.7 0.0M8.9 371.0l9.7 0.0M8.3 373.0l9.7 0.0M8.2 375.0l9.7 0.0M8.8 377.0l9.7 0.0M6.9 381.0l9.7 0.0M10.1 383.0l9.7 0.0M13.5 385.0l9.7 0.0M15.5 387.0l9.7 0.0M14.9 391.0l9.7 0.0M14.6 393.0l9.7 0.0M12.3 395.0l9.7 0.0M9.8 399.0l9.7 0.0M9.1 401.0l9.7 0.0M10.4 403.0l9.7 0.0M10.8 407.0l9.7 0.0M9.5 409.0l9.7 0.0M10.1 411.0l9.7 0.0M8.6 413.0l9.7 0.0M13.4 417.0l9.7 0.0M12.9 421.0l9.7 0.0M10.5 423.0l9.7 0.0M8.7 425.0l9.7 0.0M8.7 427.0l9.7 0.0M11.1 431.0l9.7 0.0M11.1 435.0l9.7 0.0M10.6 439.0l9.7 0.0M7.7 441.0l9.7 0.0M10.9 445.0l9.7 0.0M13.0 447.0l9.7 0.0M12.8 449.0l9.7 0.0M8.0 453.0l9.7 0.0M9.7 455.0l9.7 0.0M10.3 457.0l9.7 0.0M12.2 461.0l9.7 0.0M13.7 465.0l9.7 0.0M14.1 467.0l9.7 0.0M16.3 469.0l9.7 0.0M11.8 473.0l9.7 0.0M13.1 477.0l9.7 0.0M22.2 347.0l9.7 0.0M22.2 349.0l9.7 0.0M22.3 351.0l9.7 0.0M22.7 353.0l9.7 0.0M19.7 357.0l9.7 0.0M21.3 361.0l9.7 0.0M23.7 363.0l9.7 0.0M21.9 367.0l9.7 0.0M19.9 369.0l9.7 0.0M18.8 371.0l9.7 0.0M18.7 375.0l9.7 0.0M21.9 379.0l9.7 0.0M20.0 381.0l9.7 0.0M21.4 383.0l9.7 0.0M24.1 387.0l9.7 0.0M23.6 389.0l9.7 0.0M23.2 391.0l9.7 0.0M22.7 395.0l9.7 0.0M20.9 397.0l9.7 0.0M20.4 399.0l9.7 0.0M19.2 403.0l9.7 0.0M16.5 405.0l9.7 0.0M17.7 407.0l9.7 0.0M19.4 411.0l9.7 0.0M19.8 413.0l9.7 0.0M22.1 415.0l9.7 0.0M22.6 417.0l9.7 0.0M20.4 421.0l9.7 0.0M19.1 423.0l9.7 0.0M21.3 427.0l9.7 0.0M21.0 429.0l9.7 0.0M23.5 431.0l9.7 0.0M23.6 433.0l9.7 0.0M18.9 437.0l9.7 0.0M20.8 439.0l9.7 0.0M20.8 443.0l9.7 0.0M20.2 445.0l9.7 0.0M21.5 447.0l9.7 0.0M20.6 455.0l9.7 0.0M24.3 457.0l9.7 0.0M23.8 459.0l9.7 0.0M22.5 461.0l9.7 0.0M23.1 465.0l9.7 0.0M23.3 467.0l9.7 0.0M23.2 471.0l9.7 0.0M21.8 473.0l9.7 0.0M23.5 475.0l9.7 0.0M31.7 345.0l9.7 0.0M29.0 349.0l9.7 0.0M31.5 351.0l9.7 0.0M32.6 353.0l9.7 0.0M31.9 355.0l9.7 0.0M31.1 359.0l9.7 0.0M31.7 361.0l9.7 0.0M32.6 363.0l9.7 0.0M34.7 367.0l9.7 0.0M34.7 369.0l9.7 0.0M32.5 371.0l9.7 0.0M32.5 377.0l9.7 0.0M31.6 383.0l9.7 0.0M36.1 387.0l9.7 0.0M35.8 391.0l9.7 0.0M37.4 393.0l9.7 0.0M34.6 397.0l9.7 0.0M32.1 399.0l9.7 0.0M30.8 401.0l9.7 0.0M30.3 403.0l9.7 0.0M29.1 407.0l9.7 0.0M32.5 411.0l9.7 0.0M32.1 413.0l9.7 0.0M35.1 417.0l9.7 0.0M35.0 419.0l9.7 0.0M33.5 421.0l9.7 0.0M33.5 423.0l9.7 0.0M33.4 427.0l9.7 0.0M31.3 429.0l9.7 0.0M30.6 431.0l9.7 0.0M32.9 433.0l9.7 0.0M32.6 437.0l9.7 0.0M33.0 439.0l9.7 0.0M32.6 441.0l9.7 0.0M32.5 443.0l9.7 0.0M31.9 447.0l9.7 0.0M31.4 449.0l9.7 0.0M31.4 453.0l9.7 0.0M36.7 457.0l9.7 0.0M35.1 459.0l9.7 0.0M32.6 461.0l9.7 0.0M34.1 465.0l9.7 0.0M36.3 467.0l9.7 0.0M35.3 471.0l9.7 0.0M32.7 473.0l9.7 0.0M35.1 477.0l9.7 0.0M46.2 345.0l9.7 0.0M44.0 347.0l9.7 0.0M41.8 349.0l9.7 0.0M40.4 351.0l9.7 0.0M39.6 355.0l9.7 0.0M37.4 357.0l9.7 0.0M39.4 359.0l9.7 0.0M45.3 363.0l9.7 0.0M45.6 365.0l9.7 0.0M43.5 367.0l9.7 0.0M41.9 373.0l9.7 0.0M44.3 375.0l9.7 0.0M44.2 379.0l9.7 0.0M43.9 383.0l9.7 0.0M43.8 385.0l9.7 0.0M47.8 393.0l9.7 0.0M45.4 395.0l9.7 0.0M43.2 397.0l9.7 0.0M39.5 401.0l9.7 0.0M41.4 403.0l9.7 0.0M42.1 405.0l9.7 0.0M40.1 409.0l9.7 0.0M42.4 411.0l9.7 0.0M42.8 413.0l9.7 0.0M44.5 417.0l9.7 0.0M46.2 419.0l9.7 0.0M45.7 421.0l9.7 0.0M43.3 423.0l9.7 0.0M42.1 427.0l9.7 0.0M41.0 429.0l9.7 0.0M40.7 431.0l9.7 0.0M40.6 435.0l9.7 0.0M41.2 437.0l9.7 0.0M43.1 439.0l9.7 0.0M43.0 441.0l9.7 0.0M42.2 445.0l9.7 0.0M42.6 447.0l9.7 0.0M43.3 449.0l9.7 0.0M43.4 453.0l9.7 0.0M43.5 455.0l9.7 0.0M45.7 457.0l9.7 0.0M46.0 459.0l9.7 0.0M44.0 463.0l9.7 0.0M43.1 465.0l9.7 0.0M45.4 467.0l9.7 0.0M47.3 471.0l9.7 0.0M45.3 475.0l9.7 0.0M44.5 477.0l9.7 0.0M54.8 347.0l9.7 0.0M53.0 349.0l9.7 0.0M52.3 353.0l9.7 0.0M49.8 355.0l9.7 0.0M52.6 359.0l9.7 0.0M53.6 363.0l9.7 0.0M55.8 365.0l9.7 0.0M55.4 367.0l9.7 0.0M54.6 371.0l9.7 0.0M55.0 373.0l9.7 0.0M55.6 375.0l9.7 0.0M55.2 379.0l9.7 0.0M53.6 381.0l9.7 0.0M53.9 385.0l9.7 0.0M56.3 387.0l9.7 0.0M55.7 391.0l9.7 0.0M55.8 395.0l9.7 0.0M54.8 397.0l9.7 0.0M52.4 399.0l9.7 0.0M51.9 403.0l9.7 0.0M49.1 405.0l9.7 0.0M51.2 407.0l9.7 0.0M51.4 409.0l9.7 0.0M49.7 413.0l9.7 0.0M52.2 415.0l9.7 0.0M53.3 417.0l9.7 0.0M55.8 419.0l9.7 0.0M55.3 423.0l9.7 0.0M52.8 425.0l9.7 0.0M52.1 427.0l9.7 0.0M51.5 431.0l9.7 0.0M52.3 433.0l9.7 0.0M51.4 435.0l9.7 0.0M51.0 437.0l9.7 0.0M51.7 441.0l9.7 0.0M53.1 445.0l9.7 0.0M56.1 447.0l9.7 0.0M58.5 449.0l9.7 0.0M56.6 451.0l9.7 0.0M56.1 455.0l9.7 0.0M57.8 457.0l9.7 0.0M54.4 461.0l9.7 0.0M53.3 465.0l9.7 0.0M55.5 467.0l9.7 0.0M56.6 471.0l9.7 0.0M56.6 473.0l9.7 0.0M55.3 475.0l9.7 0.0M57.8 477.0l9.7 0.0M63.1 345.0l9.7 0.0M62.7 347.0l9.7 0.0M61.8 351.0l9.7 0.0M63.6 353.0l9.7 0.0M61.5 355.0l9.7 0.0M61.7 357.0l9.7 0.0M65.6 361.0l9.7 0.0M65.6 363.0l9.7 0.0M66.6 365.0l9.7 0.0M67.4 367.0l9.7 0.0M66.3 371.0l9.7 0.0M64.5 373.0l9.7 0.0M64.4 375.0l9.7 0.0M63.7 377.0l9.7 0.0M62.1 381.0l9.7 0.0M62.6 383.0l9.7 0.0M64.0 385.0l9.7 0.0M65.7 389.0l9.7 0.0M65.5 391.0l9.7 0.0M63.8 395.0l9.7 0.0M63.7 397.0l9.7 0.0M60.4 401.0l9.7 0.0M62.0 405.0l9.7 0.0M63.3 407.0l9.7 0.0M64.1 409.0l9.7 0.0M64.3 413.0l9.7 0.0M65.6 415.0l9.7 0.0M66.1 417.0l9.7 0.0M66.6 419.0l9.7 0.0M63.6 423.0l9.7 0.0M63.1 425.0l9.7 0.0M64.1 429.0l9.7 0.0M64.8 431.0l9.7 0.0M66.0 433.0l9.7 0.0M62.8 435.0l9.7 0.0M62.8 439.0l9.7 0.0M62.5 441.0l9.7 0.0M65.9 445.0l9.7 0.0M67.7 447.0l9.7 0.0M68.1 449.0l9.7 0.0M67.8 451.0l9.7 0.0M66.7 455.0l9.7 0.0M67.9 457.0l9.7 0.0M65.7 459.0l9.7 0.0M66.3 463.0l9.7 0.0M64.9 465.0l9.7 0.0M66.1 467.0l9.7 0.0M66.8 471.0l9.7 0.0M66.2 475.0l9.7 0.0M76.1 345.0l9.7 0.0M74.0 347.0l9.7 0.0M74.7 351.0l9.7 0.0M76.9 353.0l9.7 0.0M75.0 355.0l9.7 0.0M71.7 359.0l9.7 0.0M72.2 361.0l9.7 0.0M77.1 365.0l9.7 0.0M75.5 367.0l9.7 0.0M74.3 369.0l9.7 0.0M74.4 371.0l9.7 0.0M75.6 375.0l9.7 0.0M77.6 377.0l9.7 0.0M75.3 379.0l9.7 0.0M73.3 383.0l9.7 0.0M72.6 385.0l9.7 0.0M74.0 389.0l9.7 0.0M75.1 391.0l9.7 0.0M73.7 395.0l9.7 0.0M73.2 397.0l9.7 0.0M73.1 399.0l9.7 0.0M73.1 401.0l9.7 0.0M71.3 405.0l9.7 0.0M73.4 409.0l9.7 0.0M73.7 411.0l9.7 0.0M74.1 415.0l9.7 0.0M77.9 419.0l9.7 0.0M75.8 421.0l9.7 0.0M73.6 423.0l9.7 0.0M73.6 425.0l9.7 0.0M75.4 429.0l9.7 0.0M75.1 431.0l9.7 0.0M72.2 437.0l9.7 0.0M73.5 439.0l9.7 0.0M74.7 443.0l9.7 0.0M74.9 445.0l9.7 0.0M78.1 451.0l9.7 0.0M76.0 453.0l9.7 0.0M81.0 457.0l9.7 0.0M78.3 459.0l9.7 0.0M75.7 461.0l9.7 0.0M72.8 465.0l9.7 0.0M74.2 467.0l9.7 0.0M75.3 471.0l9.7 0.0M75.5 473.0l9.7 0.0M74.9 477.0l9.7 0.0M82.1 345.0l9.7 0.0M82.9 347.0l9.7 0.0M85.8 351.0l9.7 0.0M85.0 355.0l9.7 0.0M85.1 357.0l9.7 0.0M85.5 361.0l9.7 0.0M86.2 363.0l9.7 0.0M86.8 365.0l9.7 0.0M84.3 369.0l9.7 0.0M84.5 371.0l9.7 0.0M83.8 373.0l9.7 0.0M84.5 375.0l9.7 0.0M84.9 379.0l9.7 0.0M83.6 381.0l9.7 0.0M84.9 383.0l9.7 0.0M84.8 385.0l9.7 0.0M84.0 389.0l9.7 0.0M86.2 391.0l9.7 0.0M87.2 395.0l9.7 0.0M85.4 397.0l9.7 0.0M83.8 399.0l9.7 0.0M84.2 403.0l9.7 0.0M84.2 405.0l9.7 0.0M84.9 407.0l9.7 0.0M85.4 411.0l9.7 0.0M84.3 413.0l9.7 0.0M84.1 417.0l9.7 0.0M85.5 419.0l9.7 0.0M85.5 423.0l9.7 0.0M85.7 425.0l9.7 0.0M83.0 429.0l9.7 0.0M82.4 431.0l9.7 0.0M82.3 435.0l9.7 0.0M82.8 437.0l9.7 0.0M84.8 439.0l9.7 0.0M83.5 441.0l9.7 0.0M84.0 445.0l9.7 0.0M85.6 447.0l9.7 0.0M86.9 449.0l9.7 0.0M87.2 451.0l9.7 0.0M90.2 455.0l9.7 0.0M88.6 459.0l9.7 0.0M86.0 461.0l9.7 0.0M86.3 465.0l9.7 0.0M87.1 471.0l9.7 0.0M87.1 473.0l9.7 0.0M86.8 475.0l9.7 0.0M95.6 347.0l9.7 0.0M95.8 349.0l9.7 0.0M96.0 353.0l9.7 0.0M96.5 355.0l9.7 0.0M96.7 357.0l9.7 0.0M97.6 361.0l9.7 0.0M99.4 363.0l9.7 0.0M98.9 367.0l9.7 0.0M95.9 371.0l9.7 0.0M96.6 373.0l9.7 0.0M97.0 375.0l9.7 0.0M96.1 379.0l9.7 0.0M95.1 383.0l9.7 0.0M96.9 385.0l9.7 0.0M97.6 387.0l9.7 0.0M95.2 391.0l9.7 0.0M96.1 393.0l9.7 0.0M95.7 395.0l9.7 0.0M96.3 399.0l9.7 0.0M97.6 403.0l9.7 0.0M96.1 405.0l9.7 0.0M96.2 409.0l9.7 0.0M97.3 411.0l9.7 0.0M96.0 413.0l9.7 0.0M96.0 417.0l9.7 0.0M95.7 419.0l9.7 0.0M94.4 421.0l9.7 0.0M94.4 423.0l9.7 0.0M93.5 427.0l9.7 0.0M93.1 429.0l9.7 0.0M96.3 433.0l9.7 0.0M96.4 435.0l9.7 0.0M95.8 437.0l9.7 0.0M96.8 439.0l9.7 0.0M95.7 443.0l9.7 0.0M96.6 447.0l9.7 0.0M99.9 449.0l9.7 0.0M99.9 453.0l9.7 0.0M100.1 457.0l9.7 0.0M97.5 461.0l9.7 0.0M97.6 463.0l9.7 0.0M97.8 465.0l9.7 0.0M97.7 467.0l9.7 0.0M97.0 471.0l9.7 0.0M94.6 473.0l9.7 0.0M97.7 477.0l9.7 0.0M105.7 345.0l9.7 0.0M105.6 347.0l9.7 0.0M106.0 349.0l9.7 0.0M105.8 355.0l9.7 0.0M106.3 357.0l9.7 0.0M110.4 361.0l9.7 0.0M111.3 365.0l9.7 0.0M109.0 367.0l9.7 0.0M108.7 369.0l9.7 0.0M106.8 373.0l9.7 0.0M108.6 377.0l9.7 0.0M103.8 381.0l9.7 0.0M106.5 385.0l9.7 0.0M108.6 387.0l9.7 0.0M108.7 389.0l9.7 0.0M108.6 391.0l9.7 0.0M106.5 395.0l9.7 0.0M104.6 397.0l9.7 0.0M105.3 401.0l9.7 0.0M108.2 403.0l9.7 0.0M106.9 405.0l9.7 0.0M108.2 407.0l9.7 0.0M107.0 411.0l9.7 0.0M105.2 413.0l9.7 0.0M104.7 415.0l9.7 0.0M104.9 417.0l9.7 0.0M106.1 421.0l9.7 0.0M105.2 423.0l9.7 0.0M105.0 425.0l9.7 0.0M103.6 429.0l9.7 0.0M109.6 433.0l9.7 0.0M107.2 435.0l9.7 0.0M105.4 439.0l9.7 0.0M104.3 443.0l9.7 0.0M105.4 445.0l9.7 0.0M108.8 449.0l9.7 0.0M108.4 451.0l9.7 0.0M107.4 453.0l9.7 0.0M107.8 455.0l9.7 0.0M107.3 459.0l9.7 0.0M105.2 461.0l9.7 0.0M106.7 463.0l9.7 0.0M106.4 467.0l9.7 0.0M104.9 471.0l9.7 0.0M103.5 473.0l9.7 0.0M106.4 475.0l9.7 0.0M107.3 477.0l9.7 0.0M116.5 345.0l9.7 0.0M116.0 347.0l9.7 0.0M114.7 349.0l9.7 0.0M115.4 351.0l9.7 0.0M117.2 355.0l9.7 0.0M115.6 357.0l9.7 0.0M116.9 361.0l9.7 0.0M118.7 363.0l9.7 0.0M118.1 365.0l9.7 0.0M117.3 369.0l9.7 0.0M117.1 371.0l9.7 0.0M114.1 373.0l9.7 0.0M114.4 377.0l9.7 0.0M114.5 379.0l9.7 0.0M117.3 383.0l9.7 0.0M119.4 385.0l9.7 0.0M120.3 389.0l9.7 0.0M119.5 393.0l9.7 0.0M117.8 397.0l9.7 0.0M116.0 399.0l9.7 0.0M114.4 401.0l9.7 0.0M116.5 405.0l9.7 0.0M116.5 409.0l9.7 0.0M117.6 413.0l9.7 0.0M117.5 415.0l9.7 0.0M119.4 417.0l9.7 0.0M115.3 421.0l9.7 0.0M113.7 423.0l9.7 0.0M113.0 425.0l9.7 0.0M115.6 427.0l9.7 0.0M115.7 431.0l9.7 0.0M116.7 433.0l9.7 0.0M115.9 437.0l9.7 0.0M118.3 439.0l9.7 0.0M118.1 441.0l9.7 0.0M118.5 443.0l9.7 0.0M118.1 447.0l9.7 0.0M118.3 449.0l9.7 0.0M117.7 451.0l9.7 0.0M117.7 455.0l9.7 0.0M117.8 459.0l9.7 0.0M117.9 461.0l9.7 0.0M119.6 463.0l9.7 0.0M118.7 465.0l9.7 0.0M118.7 469.0l9.7 0.0M117.7 471.0l9.7 0.0M119.0 475.0l9.7 0.0M125.4 345.0l9.7 0.0M126.2 349.0l9.7 0.0M126.6 351.0l9.7 0.0M129.0 355.0l9.7 0.0M128.9 357.0l9.7 0.0M131.0 361.0l9.7 0.0M131.3 363.0l9.7 0.0M128.9 367.0l9.7 0.0M125.2 371.0l9.7 0.0M127.9 377.0l9.7 0.0M126.9 379.0l9.7 0.0M127.4 381.0l9.7 0.0M128.0 383.0l9.7 0.0M128.6 387.0l9.7 0.0M126.8 389.0l9.7 0.0M128.3 391.0l9.7 0.0M130.5 393.0l9.7 0.0M127.5 397.0l9.7 0.0M126.8 401.0l9.7 0.0M126.0 405.0l9.7 0.0M126.5 407.0l9.7 0.0M124.5 409.0l9.7 0.0M127.3 411.0l9.7 0.0M126.7 415.0l9.7 0.0M125.6 417.0l9.7 0.0M126.6 421.0l9.7 0.0M124.5 423.0l9.7 0.0M124.7 425.0l9.7 0.0M125.6 427.0l9.7 0.0M126.7 431.0l9.7 0.0M128.7 433.0l9.7 0.0M126.3 435.0l9.7 0.0M126.3 437.0l9.7 0.0M127.5 441.0l9.7 0.0M131.0 445.0l9.7 0.0M131.3 447.0l9.7 0.0M131.7 449.0l9.7 0.0M129.1 451.0l9.7 0.0M127.9 455.0l9.7 0.0M130.6 459.0l9.7 0.0M129.8 463.0l9.7 0.0M127.7 465.0l9.7 0.0M127.2 467.0l9.7 0.0M129.9 469.0l9.7 0.0M128.4 473.0l9.7 0.0M130.2 477.0l9.7 0.0"/>
<path fill="none" stroke="#1b9e77" stroke-width="1.30" d="M2.3 394.7l9.7 0.0M3.7 476.7l9.7 0.0M14.1 352.7l9.7 0.0M10.5 356.7l9.7 0.0M10.1 360.7l9.7 0.0M8.7 368.7l9.7 0.0M9.4 378.7l9.7 0.0M10.0 396.7l9.7 0.0M8.5 404.7l9.7 0.0M10.8 414.7l9.7 0.0M13.1 418.7l9.7 0.0M8.1 428.7l9.7 0.0M13.7 432.7l9.7 0.0M8.9 436.7l9.7 0.0M9.9 442.7l9.7 0.0M10.3 450.7l9.7 0.0M10.8 458.7l9.7 0.0M14.3 462.7l9.7 0.0M14.0 470.7l9.7 0.0M12.7 474.7l9.7 0.0M22.6 344.7l9.7 0.0M20.6 354.7l9.7 0.0M21.3 358.7l9.7 0.0M23.2 364.7l9.7 0.0M16.4 372.7l9.7 0.0M20.4 376.7l9.7 0.0M22.0 384.7l9.7 0.0M23.1 392.7l9.7 0.0M19.4 400.7l9.7 0.0M16.6 408.7l9.7 0.0M22.1 418.7l9.7 0.0M21.0 434.7l9.7 0.0M20.0 440.7l9.7 0.0M21.1 448.7l9.7 0.0M18.2 452.7l9.7 0.0M24.0 462.7l9.7 0.0M23.6 468.7l9.7 0.0M25.0 476.7l9.7 0.0M31.4 346.7l9.7 0.0M30.6 356.7l9.7 0.0M34.8 364.7l9.7 0.0M32.3 374.7l9.7 0.0M29.9 380.7l9.7 0.0M34.3 384.7l9.7 0.0M35.1 388.7l9.7 0.0M35.6 394.7l9.7 0.0M28.6 404.7l9.7 0.0M29.7 408.7l9.7 0.0M32.5 414.7l9.7 0.0M34.0 424.7l9.7 0.0M32.6 434.7l9.7 0.0M32.6 444.7l9.7 0.0M31.6 450.7l9.7 0.0M34.1 454.7l9.7 0.0M33.5 462.7l9.7 0.0M37.4 468.7l9.7 0.0M33.8 474.7l9.7 0.0M40.6 352.7l9.7 0.0M42.4 360.7l9.7 0.0M41.3 368.7l9.7 0.0M46.3 376.7l9.7 0.0M43.3 380.7l9.7 0.0M43.4 386.7l9.7 0.0M46.5 390.7l9.7 0.0M40.3 398.7l9.7 0.0M41.7 406.7l9.7 0.0M40.2 424.7l9.7 0.0M41.1 432.7l9.7 0.0M42.9 442.7l9.7 0.0M43.4 450.7l9.7 0.0M42.5 460.7l9.7 0.0M47.6 468.7l9.7 0.0M45.8 472.7l9.7 0.0M57.3 344.7l9.7 0.0M53.4 350.7l9.7 0.0M49.8 356.7l9.7 0.0M52.9 360.7l9.7 0.0M56.1 368.7l9.7 0.0M55.2 376.7l9.7 0.0M53.0 382.7l9.7 0.0M58.3 392.7l9.7 0.0M50.5 400.7l9.7 0.0M51.5 410.7l9.7 0.0M55.8 420.7l9.7 0.0M49.5 428.7l9.7 0.0M52.6 438.7l9.7 0.0M52.9 442.7l9.7 0.0M56.2 452.7l9.7 0.0M56.1 458.7l9.7 0.0M55.7 462.7l9.7 0.0M57.6 468.7l9.7 0.0M59.8 348.7l9.7 0.0M63.2 358.7l9.7 0.0M67.5 368.7l9.7 0.0M62.6 378.7l9.7 0.0M66.4 386.7l9.7 0.0M65.1 392.7l9.7 0.0M62.3 398.7l9.7 0.0M62.3 402.7l9.7 0.0M64.3 410.7l9.7 0.0M64.2 420.7l9.7 0.0M64.0 426.7l9.7 0.0M60.3 436.7l9.7 0.0M63.1 442.7l9.7 0.0M66.9 452.7l9.7 0.0M64.0 460.7l9.7 0.0M69.2 468.7l9.7 0.0M66.7 472.7l9.7 0.0M66.5 476.7l9.7 0.0M72.3 348.7l9.7 0.0M72.6 356.7l9.7 0.0M75.0 362.7l9.7 0.0M74.2 372.7l9.7 0.0M73.5 380.7l9.7 0.0M73.9 386.7l9.7 0.0M75.9 392.7l9.7 0.0M73.0 402.7l9.7 0.0M73.1 406.7l9.7 0.0M72.1 412.7l9.7 0.0M76.6 416.7l9.7 0.0M75.8 426.7l9.7 0.0M75.8 432.7l9.7 0.0M74.1 440.7l9.7 0.0M78.0 448.7l9.7 0.0M78.4 454.7l9.7 0.0M75.2 462.7l9.7 0.0M75.3 468.7l9.7 0.0M75.6 474.7l9.7 0.0M82.8 348.7l9.7 0.0M87.5 352.7l9.7 0.0M85.1 358.7l9.7 0.0M87.3 366.7l9.7 0.0M84.5 376.7l9.7 0.0M84.2 386.7l9.7 0.0M88.6 392.7l9.7 0.0M81.6 400.7l9.7 0.0M83.3 408.7l9.7 0.0M84.0 414.7l9.7 0.0M85.7 420.7l9.7 0.0M85.7 426.7l9.7 0.0M83.0 432.7l9.7 0.0M83.1 442.7l9.7 0.0M87.5 452.7l9.7 0.0M91.8 456.7l9.7 0.0M87.6 462.7l9.7 0.0M89.1 468.7l9.7 0.0M87.4 476.7l9.7 0.0M97.8 344.7l9.7 0.0M95.5 350.7l9.7 0.0M96.8 358.7l9.7 0.0M101.8 364.7l9.7 0.0M96.3 368.7l9.7 0.0M97.4 376.7l9.7 0.0M96.0 380.7l9.7 0.0M95.5 388.7l9.7 0.0M96.3 400.7l9.7 0.0M96.5 406.7l9.7 0.0M96.0 414.7l9.7 0.0M91.6 424.7l9.7 0.0M94.7 430.7l9.7 0.0M96.2 440.7l9.7 0.0M96.4 444.7l9.7 0.0M99.9 450.7l9.7 0.0M100.3 454.7l9.7 0.0M98.4 458.7l9.7 0.0M99.3 468.7l9.7 0.0M95.4 474.7l9.7 0.0M106.2 350.7l9.7 0.0M108.7 358.7l9.7 0.0M110.2 362.7l9.7 0.0M106.8 370.7l9.7 0.0M107.1 374.7l9.7 0.0M106.2 378.7l9.7 0.0M103.7 382.7l9.7 0.0M108.5 392.7l9.7 0.0M104.9 398.7l9.7 0.0M107.5 408.7l9.7 0.0M106.8 418.7l9.7 0.0M105.4 426.7l9.7 0.0M106.8 430.7l9.7 0.0M105.3 436.7l9.7 0.0M102.2 440.7l9.7 0.0M107.3 446.7l9.7 0.0M107.8 456.7l9.7 0.0M106.2 464.7l9.7 0.0M105.7 468.7l9.7 0.0M116.9 352.7l9.7 0.0M116.6 358.7l9.7 0.0M118.6 366.7l9.7 0.0M114.3 374.7l9.7 0.0M114.7 380.7l9.7 0.0M119.5 386.7l9.7 0.0M119.8 390.7l9.7 0.0M117.5 394.7l9.7 0.0M117.2 402.7l9.7 0.0M118.0 410.7l9.7 0.0M119.1 418.7l9.7 0.0M115.0 428.7l9.7 0.0M116.1 434.7l9.7 0.0M118.6 444.7l9.7 0.0M117.3 452.7l9.7 0.0M117.5 456.7l9.7 0.0M118.6 466.7l9.7 0.0M118.7 472.7l9.7 0.0M119.9 476.7l9.7 0.0M125.5 346.7l9.7 0.0M129.0 352.7l9.7 0.0M128.9 358.7l9.7 0.0M131.3 364.7l9.7 0.0M126.7 368.7l9.7 0.0M126.2 374.7l9.7 0.0M128.5 384.7l9.7 0.0M128.9 394.7l9.7 0.0M127.4 398.7l9.7 0.0M125.8 402.7l9.7 0.0M126.2 412.7l9.7 0.0M126.9 418.7l9.7 0.0M124.0 428.7l9.7 0.0M129.6 438.7l9.7 0.0M129.0 442.7l9.7 0.0M127.3 452.7l9.7 0.0M130.4 456.7l9.7 0.0M129.4 460.7l9.7 0.0M130.4 470.7l9.7 0.0M128.9 474.7l9.7 0.0"/>
</g>
<rect x="122.39" y="340.30" width="20.01" height="24.90" fill="#fff" fill-opacity="0.72"/>
<text x="131.60" y="357.50" text-anchor="middle" font-size="13.5" font-weight="bold">c</text>
<rect x="0.50" y="340.30" width="141.90" height="141.60" fill="none" stroke="#000" stroke-width="1.3"/>
<g clip-path="url(#clj)">
<path fill="none" stroke="#7570b3" stroke-width="1.50" d="M559.2 346.6l4.6 8.0M557.7 348.6l4.6 8.0M549.5 352.7l4.6 8.0M545.2 354.6l4.6 8.0M581.6 348.7l4.6 8.0M576.4 348.8l4.6 8.0M572.7 351.6l4.6 8.0M589.6 353.2l4.6 8.0M584.9 354.3l4.6 8.0M582.8 359.9l4.6 8.0M580.0 359.6l4.6 8.0M559.3 369.8l4.6 8.0M555.9 373.0l4.6 8.0M551.2 378.7l4.6 8.0M547.8 377.4l4.6 8.0M545.8 378.6l4.6 8.0M604.2 355.5l4.6 8.0M600.9 359.0l4.6 8.0M599.1 360.5l4.6 8.0M588.4 364.9l4.6 8.0M563.6 381.9l4.6 8.0M560.7 381.5l4.6 8.0M557.3 380.1l4.6 8.0M556.9 384.1l4.6 8.0M553.1 386.7l4.6 8.0M548.8 388.3l4.6 8.0M546.5 389.0l4.6 8.0M621.6 358.0l4.6 8.0M609.4 364.6l4.6 8.0M607.5 365.8l4.6 8.0M573.8 385.7l4.6 8.0M570.2 384.1l4.6 8.0M569.0 391.1l4.6 8.0M565.4 389.6l4.6 8.0M561.7 392.2l4.6 8.0M555.1 394.6l4.6 8.0M553.9 397.3l4.6 8.0M549.4 398.6l4.6 8.0M545.5 401.0l4.6 8.0M628.3 365.1l4.6 8.0M626.8 367.1l4.6 8.0M622.5 368.8l4.6 8.0M620.6 370.1l4.6 8.0M618.7 371.5l4.6 8.0M616.8 372.8l4.6 8.0M612.8 375.0l4.6 8.0M592.6 386.0l4.6 8.0M590.6 387.1l4.6 8.0M586.1 393.2l4.6 8.0M582.8 392.0l4.6 8.0M581.9 395.1l4.6 8.0M577.1 396.1l4.6 8.0M574.9 396.7l4.6 8.0M567.3 397.4l4.6 8.0M566.6 400.9l4.6 8.0M566.0 404.5l4.6 8.0M563.0 403.7l4.6 8.0M558.8 405.8l4.6 8.0M552.8 409.2l4.6 8.0M647.2 365.7l4.6 8.0M643.6 368.6l4.6 8.0M641.7 369.8l4.6 8.0M637.8 372.3l4.6 8.0M633.8 374.5l4.6 8.0M625.4 378.5l4.6 8.0M599.9 394.2l4.6 8.0M596.1 396.7l4.6 8.0M594.2 398.0l4.6 8.0M591.7 398.3l4.6 8.0M587.4 400.1l4.6 8.0M587.1 404.1l4.6 8.0M580.9 402.5l4.6 8.0M578.3 407.2l4.6 8.0M575.6 407.2l4.6 8.0M563.4 418.3l4.6 8.0M560.3 417.5l4.6 8.0M559.3 420.4l4.6 8.0M555.9 419.2l4.6 8.0M551.9 421.4l4.6 8.0M648.4 376.9l4.6 8.0M645.1 375.8l4.6 8.0M644.2 378.7l4.6 8.0M643.9 382.9l4.6 8.0M638.0 381.8l4.6 8.0M637.1 384.9l4.6 8.0M632.7 386.5l4.6 8.0M620.3 397.2l4.6 8.0M613.3 398.9l4.6 8.0M583.2 415.8l4.6 8.0M578.2 416.4l4.6 8.0M577.1 418.9l4.6 8.0M572.7 420.7l4.6 8.0M568.8 423.0l4.6 8.0M565.0 425.6l4.6 8.0M564.3 429.1l4.6 8.0M561.4 428.6l4.6 8.0M559.4 429.7l4.6 8.0M553.9 429.5l4.6 8.0M553.3 433.0l4.6 8.0M552.2 435.6l4.6 8.0M546.9 435.7l4.6 8.0M661.5 381.2l4.6 8.0M659.6 382.5l4.6 8.0M657.9 384.1l4.6 8.0M653.5 385.7l4.6 8.0M640.1 394.7l4.6 8.0M637.7 395.2l4.6 8.0M635.8 396.4l4.6 8.0M619.1 404.3l4.6 8.0M618.4 407.7l4.6 8.0M591.7 421.3l4.6 8.0M587.9 423.9l4.6 8.0M583.0 424.6l4.6 8.0M582.1 427.7l4.6 8.0M573.9 431.9l4.6 8.0M571.7 432.6l4.6 8.0M569.8 433.9l4.6 8.0M569.5 438.0l4.6 8.0M563.2 436.3l4.6 8.0M562.6 439.9l4.6 8.0M559.3 438.8l4.6 8.0M558.3 441.6l4.6 8.0M553.9 443.1l4.6 8.0M550.1 441.3l4.6 8.0M549.7 445.2l4.6 8.0M546.1 448.1l4.6 8.0M666.5 389.9l4.6 8.0M666.2 393.9l4.6 8.0M654.8 397.1l4.6 8.0M652.6 398.0l4.6 8.0M647.4 398.2l4.6 8.0M646.7 401.6l4.6 8.0M642.9 404.1l4.6 8.0M639.3 407.1l4.6 8.0M634.4 407.9l4.6 8.0M577.3 442.4l4.6 8.0M567.9 444.4l4.6 8.0M567.3 448.0l4.6 8.0M565.3 449.2l4.6 8.0M561.0 450.9l4.6 8.0M556.0 451.4l4.6 8.0M554.2 457.5l4.6 8.0M547.1 463.6l4.6 8.0M678.9 397.6l4.6 8.0M675.4 396.1l4.6 8.0M672.1 394.9l4.6 8.0M671.9 399.1l4.6 8.0M667.8 401.3l4.6 8.0M665.6 402.1l4.6 8.0M662.1 405.2l4.6 8.0M660.1 406.3l4.6 8.0M655.9 408.3l4.6 8.0M640.9 414.5l4.6 8.0M636.1 420.0l4.6 8.0M635.2 423.1l4.6 8.0M620.2 429.2l4.6 8.0M619.3 432.3l4.6 8.0M611.9 433.3l4.6 8.0M607.1 438.7l4.6 8.0M601.0 437.4l4.6 8.0M567.7 458.0l4.6 8.0M560.1 463.1l4.6 8.0M559.6 467.0l4.6 8.0M552.7 464.2l4.6 8.0M544.8 468.8l4.6 8.0M677.8 404.8l4.6 8.0M672.0 413.2l4.6 8.0M668.6 411.8l4.6 8.0M666.9 413.5l4.6 8.0M664.5 418.6l4.6 8.0M642.1 425.7l4.6 8.0M633.3 428.9l4.6 8.0M628.4 438.9l4.6 8.0M625.0 437.6l4.6 8.0M623.1 438.8l4.6 8.0M608.7 446.2l4.6 8.0M605.3 449.4l4.6 8.0M677.9 418.9l4.6 8.0M677.3 422.4l4.6 8.0M674.0 421.3l4.6 8.0M669.7 423.0l4.6 8.0M667.7 424.1l4.6 8.0M663.9 426.7l4.6 8.0M661.8 427.7l4.6 8.0M655.8 431.2l4.6 8.0M653.8 432.3l4.6 8.0M650.4 431.0l4.6 8.0M649.8 434.6l4.6 8.0M631.6 444.4l4.6 8.0M629.8 445.8l4.6 8.0M626.4 449.2l4.6 8.0M623.3 448.4l4.6 8.0M638.6 456.5l4.6 8.0M631.2 457.4l4.6 8.0M629.6 459.3l4.6 8.0M638.7 465.8l4.6 8.0M636.4 466.5l4.6 8.0M633.2 465.5l4.6 8.0M632.0 468.0l4.6 8.0"/>
<path fill="none" stroke="#7570b3" stroke-width="1.20" d="M551.9 352.0l4.6 8.0M547.6 353.8l4.6 8.0M578.5 347.4l4.6 8.0M574.9 350.5l4.6 8.0M570.8 352.5l4.6 8.0M587.2 353.4l4.6 8.0M583.1 355.5l4.6 8.0M551.8 374.8l4.6 8.0M612.0 354.9l4.6 8.0M602.9 357.5l4.6 8.0M597.2 361.5l4.6 8.0M592.5 362.6l4.6 8.0M582.6 368.4l4.6 8.0M568.4 376.1l4.6 8.0M564.7 378.9l4.6 8.0M549.7 385.1l4.6 8.0M617.9 360.6l4.6 8.0M613.7 362.5l4.6 8.0M569.6 387.4l4.6 8.0M562.2 388.4l4.6 8.0M558.4 395.6l4.6 8.0M547.7 400.0l4.6 8.0M624.7 367.7l4.6 8.0M614.6 373.2l4.6 8.0M594.8 385.0l4.6 8.0M586.7 389.4l4.6 8.0M559.6 402.1l4.6 8.0M635.8 373.2l4.6 8.0M631.8 375.5l4.6 8.0M627.6 377.3l4.6 8.0M598.2 395.4l4.6 8.0M589.4 398.6l4.6 8.0M584.0 403.1l4.6 8.0M580.4 406.0l4.6 8.0M552.8 417.9l4.6 8.0M651.8 377.8l4.6 8.0M635.1 385.8l4.6 8.0M576.1 421.5l4.6 8.0M567.0 424.3l4.6 8.0M557.7 431.1l4.6 8.0M548.6 433.7l4.6 8.0M657.6 387.9l4.6 8.0M650.0 384.0l4.6 8.0M633.7 397.1l4.6 8.0M586.3 425.5l4.6 8.0M581.6 431.0l4.6 8.0M574.8 428.4l4.6 8.0M566.1 436.5l4.6 8.0M557.2 444.0l4.6 8.0M547.8 446.1l4.6 8.0M667.4 386.4l4.6 8.0M663.2 393.0l4.6 8.0M650.8 399.2l4.6 8.0M644.8 402.5l4.6 8.0M637.2 407.8l4.6 8.0M579.3 441.0l4.6 8.0M574.4 446.3l4.6 8.0M563.2 449.8l4.6 8.0M555.4 454.7l4.6 8.0M547.4 459.3l4.6 8.0M671.2 402.3l4.6 8.0M663.9 403.4l4.6 8.0M653.5 408.4l4.6 8.0M640.3 417.7l4.6 8.0M612.5 429.5l4.6 8.0M604.1 437.9l4.6 8.0M556.2 465.4l4.6 8.0M552.6 468.2l4.6 8.0M672.9 409.8l4.6 8.0M665.4 415.2l4.6 8.0M645.4 426.5l4.6 8.0M605.8 445.3l4.6 8.0M672.1 422.3l4.6 8.0M658.5 430.8l4.6 8.0M648.5 436.6l4.6 8.0M629.6 449.9l4.6 8.0M622.7 451.7l4.6 8.0M640.6 464.3l4.6 8.0"/>
<path fill="none" stroke="#d95f02" stroke-width="1.50" d="M572.2 477.0l4.6 -8.0M577.1 477.6l4.6 -8.0M571.7 463.9l4.6 -8.0M573.8 465.0l4.6 -8.0M575.8 466.1l4.6 -8.0M579.1 469.5l4.6 -8.0M582.5 468.3l4.6 -8.0M583.6 471.0l4.6 -8.0M587.8 472.9l4.6 -8.0M589.3 474.8l4.6 -8.0M576.3 455.9l4.6 -8.0M576.9 459.5l4.6 -8.0M580.3 458.2l4.6 -8.0M586.5 461.3l4.6 -8.0M588.5 462.5l4.6 -8.0M590.6 463.5l4.6 -8.0M592.6 464.5l4.6 -8.0M596.4 467.1l4.6 -8.0M604.1 472.3l4.6 -8.0M607.7 470.6l4.6 -8.0M610.7 474.6l4.6 -8.0M613.9 478.2l4.6 -8.0M583.2 448.6l4.6 -8.0M585.3 449.5l4.6 -8.0M588.5 448.7l4.6 -8.0M591.2 453.2l4.6 -8.0M593.2 454.4l4.6 -8.0M597.6 455.9l4.6 -8.0M599.7 456.8l4.6 -8.0M601.5 458.3l4.6 -8.0M603.3 459.9l4.6 -8.0M607.1 462.4l4.6 -8.0M609.0 463.8l4.6 -8.0M611.3 464.4l4.6 -8.0M615.7 465.9l4.6 -8.0M617.3 467.7l4.6 -8.0M618.6 470.1l4.6 -8.0M620.8 470.9l4.6 -8.0M625.6 471.8l4.6 -8.0M629.1 470.2l4.6 -8.0M582.4 436.2l4.6 -8.0M584.8 436.7l4.6 -8.0M586.5 438.3l4.6 -8.0M587.1 441.9l4.6 -8.0M592.4 441.9l4.6 -8.0M594.2 443.4l4.6 -8.0M597.9 441.6l4.6 -8.0M600.4 446.5l4.6 -8.0M610.5 451.9l4.6 -8.0M618.3 452.2l4.6 -8.0M622.1 459.5l4.6 -8.0M635.0 464.7l4.6 -8.0M644.4 471.4l4.6 -8.0M646.4 472.5l4.6 -8.0M648.1 474.1l4.6 -8.0M591.5 429.6l4.6 -8.0M593.6 430.6l4.6 -8.0M595.4 432.2l4.6 -8.0M597.4 433.2l4.6 -8.0M602.9 432.9l4.6 -8.0M603.5 436.4l4.6 -8.0M607.7 438.4l4.6 -8.0M611.0 441.8l4.6 -8.0M617.6 444.3l4.6 -8.0M635.4 454.7l4.6 -8.0M637.4 456.0l4.6 -8.0M639.3 457.2l4.6 -8.0M641.1 458.7l4.6 -8.0M645.2 460.8l4.6 -8.0M649.4 462.8l4.6 -8.0M655.3 466.3l4.6 -8.0M656.2 469.4l4.6 -8.0M659.3 468.7l4.6 -8.0M662.7 472.0l4.6 -8.0M667.0 473.8l4.6 -8.0M670.6 472.1l4.6 -8.0M675.2 477.9l4.6 -8.0M593.3 421.9l4.6 -8.0M596.2 421.5l4.6 -8.0M597.9 423.1l4.6 -8.0M602.2 424.8l4.6 -8.0M608.2 423.7l4.6 -8.0M609.1 426.8l4.6 -8.0M609.5 430.7l4.6 -8.0M621.1 433.6l4.6 -8.0M624.5 436.9l4.6 -8.0M626.2 438.5l4.6 -8.0M630.2 440.8l4.6 -8.0M632.3 441.7l4.6 -8.0M636.9 442.9l4.6 -8.0M638.9 444.1l4.6 -8.0M640.6 445.8l4.6 -8.0M648.3 450.9l4.6 -8.0M648.9 454.3l4.6 -8.0M652.0 453.7l4.6 -8.0M656.3 455.4l4.6 -8.0M660.8 456.9l4.6 -8.0M667.2 459.5l4.6 -8.0M668.7 466.1l4.6 -8.0M570.0 393.3l4.6 -8.0M571.7 394.9l4.6 -8.0M591.7 406.3l4.6 -8.0M594.1 406.8l4.6 -8.0M598.1 409.0l4.6 -8.0M601.3 412.6l4.6 -8.0M604.9 415.6l4.6 -8.0M607.5 415.8l4.6 -8.0M614.0 418.2l4.6 -8.0M615.5 420.2l4.6 -8.0M618.0 425.1l4.6 -8.0M625.2 421.9l4.6 -8.0M626.1 424.9l4.6 -8.0M626.6 428.6l4.6 -8.0M639.8 433.5l4.6 -8.0M641.6 434.8l4.6 -8.0M657.3 444.6l4.6 -8.0M659.1 445.9l4.6 -8.0M661.6 446.3l4.6 -8.0M663.5 447.6l4.6 -8.0M669.1 451.6l4.6 -8.0M671.2 452.6l4.6 -8.0M672.9 454.3l4.6 -8.0M547.5 367.8l4.6 -8.0M548.1 371.4l4.6 -8.0M554.3 374.5l4.6 -8.0M562.7 378.3l4.6 -8.0M564.6 379.7l4.6 -8.0M568.6 382.0l4.6 -8.0M572.8 383.9l4.6 -8.0M575.4 384.0l4.6 -8.0M577.0 385.8l4.6 -8.0M603.2 404.9l4.6 -8.0M608.8 404.3l4.6 -8.0M613.1 406.1l4.6 -8.0M621.9 413.8l4.6 -8.0M623.0 416.4l4.6 -8.0M630.4 412.9l4.6 -8.0M631.0 416.5l4.6 -8.0M665.1 435.7l4.6 -8.0M670.2 440.6l4.6 -8.0M672.2 441.7l4.6 -8.0M560.0 364.7l4.6 -8.0M564.1 366.7l4.6 -8.0M566.0 367.9l4.6 -8.0M570.1 370.2l4.6 -8.0M575.6 374.3l4.6 -8.0M578.7 373.6l4.6 -8.0M581.7 377.7l4.6 -8.0M584.3 377.7l4.6 -8.0M586.2 379.1l4.6 -8.0M590.0 381.7l4.6 -8.0M592.2 382.5l4.6 -8.0M611.9 394.3l4.6 -8.0M613.7 395.8l4.6 -8.0M616.1 396.3l4.6 -8.0M620.2 398.3l4.6 -8.0M623.2 397.7l4.6 -8.0M623.8 401.3l4.6 -8.0M627.7 403.8l4.6 -8.0M629.5 405.2l4.6 -8.0M631.5 406.3l4.6 -8.0M655.8 419.4l4.6 -8.0M659.0 423.2l4.6 -8.0M661.1 424.0l4.6 -8.0M613.5 386.9l4.6 -8.0M616.7 386.0l4.6 -8.0M620.9 388.0l4.6 -8.0M622.9 389.0l4.6 -8.0M628.2 389.0l4.6 -8.0M629.1 392.1l4.6 -8.0M629.6 395.8l4.6 -8.0M632.5 395.3l4.6 -8.0M580.2 352.7l4.6 -8.0M582.0 354.0l4.6 -8.0M585.0 353.6l4.6 -8.0M596.0 362.1l4.6 -8.0M653.1 396.5l4.6 -8.0M654.1 399.4l4.6 -8.0M660.4 397.7l4.6 -8.0M662.0 399.5l4.6 -8.0M605.0 355.7l4.6 -8.0M607.8 360.0l4.6 -8.0M613.3 359.7l4.6 -8.0M615.0 361.3l4.6 -8.0M618.9 363.8l4.6 -8.0M622.1 362.9l4.6 -8.0M654.8 384.5l4.6 -8.0M620.0 352.7l4.6 -8.0M622.2 353.4l4.6 -8.0M630.0 358.4l4.6 -8.0M631.9 359.7l4.6 -8.0M636.5 361.0l4.6 -8.0M640.0 364.1l4.6 -8.0M643.7 366.8l4.6 -8.0M648.8 371.8l4.6 -8.0M652.1 370.7l4.6 -8.0M655.2 369.8l4.6 -8.0M656.2 377.4l4.6 -8.0M659.6 376.1l4.6 -8.0M663.4 374.0l4.6 -8.0M664.1 377.5l4.6 -8.0M667.8 380.2l4.6 -8.0M669.8 381.4l4.6 -8.0M633.3 352.6l4.6 -8.0M642.8 354.7l4.6 -8.0M660.2 365.8l4.6 -8.0M667.1 367.6l4.6 -8.0M669.2 368.7l4.6 -8.0M669.9 372.1l4.6 -8.0"/>
<path fill="none" stroke="#d95f02" stroke-width="1.20" d="M584.1 474.4l4.6 -8.0M584.2 460.5l4.6 -8.0M612.3 476.2l4.6 -8.0M581.0 447.5l4.6 -8.0M588.9 452.3l4.6 -8.0M593.9 457.4l4.6 -8.0M604.8 461.4l4.6 -8.0M621.5 474.0l4.6 -8.0M629.7 473.6l4.6 -8.0M590.5 440.2l4.6 -8.0M598.3 445.2l4.6 -8.0M618.7 455.9l4.6 -8.0M642.0 470.8l4.6 -8.0M650.2 474.8l4.6 -8.0M653.7 478.0l4.6 -8.0M599.6 433.7l4.6 -8.0M605.4 437.4l4.6 -8.0M607.6 442.8l4.6 -8.0M633.2 453.8l4.6 -8.0M643.1 459.6l4.6 -8.0M647.2 461.7l4.6 -8.0M652.1 467.1l4.6 -8.0M662.0 468.2l4.6 -8.0M663.1 475.5l4.6 -8.0M671.7 474.4l4.6 -8.0M592.5 418.4l4.6 -8.0M604.6 425.0l4.6 -8.0M622.6 435.2l4.6 -8.0M628.1 439.6l4.6 -8.0M644.2 448.4l4.6 -8.0M655.1 452.6l4.6 -8.0M664.3 459.6l4.6 -8.0M667.8 462.7l4.6 -8.0M573.6 396.0l4.6 -8.0M597.6 405.0l4.6 -8.0M598.2 413.1l4.6 -8.0M609.8 416.1l4.6 -8.0M617.2 421.6l4.6 -8.0M621.7 423.0l4.6 -8.0M665.2 448.8l4.6 -8.0M552.6 372.5l4.6 -8.0M562.0 374.7l4.6 -8.0M570.8 382.4l4.6 -8.0M578.5 387.5l4.6 -8.0M602.7 400.7l4.6 -8.0M626.6 414.6l4.6 -8.0M666.5 437.5l4.6 -8.0M579.6 376.4l4.6 -8.0M587.9 380.5l4.6 -8.0M618.0 397.2l4.6 -8.0M624.0 405.3l4.6 -8.0M653.5 418.5l4.6 -8.0M657.4 421.1l4.6 -8.0M558.9 352.5l4.6 -8.0M618.8 386.7l4.6 -8.0M624.7 390.2l4.6 -8.0M592.7 358.2l4.6 -8.0M597.5 363.8l4.6 -8.0M609.5 366.0l4.6 -8.0M657.8 397.4l4.6 -8.0M606.4 357.5l4.6 -8.0M616.8 362.6l4.6 -8.0M652.7 383.1l4.6 -8.0M658.8 386.5l4.6 -8.0M626.8 354.4l4.6 -8.0M633.1 361.9l4.6 -8.0M639.4 360.1l4.6 -8.0M645.5 367.9l4.6 -8.0M655.4 373.9l4.6 -8.0M665.0 380.2l4.6 -8.0M671.5 382.7l4.6 -8.0M644.4 356.1l4.6 -8.0M664.5 367.3l4.6 -8.0"/>
<path fill="none" stroke="#1b9e77" stroke-width="1.50" d="M549.0 415.5l9.2 0.0M548.8 420.1l9.2 0.0M546.5 427.0l9.2 0.0M548.6 429.3l9.2 0.0M559.3 346.5l9.2 0.0M559.2 351.1l9.2 0.0M557.8 355.7l9.2 0.0M557.1 413.2l9.2 0.0M559.5 415.5l9.2 0.0M558.0 420.1l9.2 0.0M559.2 475.3l9.2 0.0M570.1 346.5l9.2 0.0M569.3 351.1l9.2 0.0M568.1 353.4l9.2 0.0M567.5 358.0l9.2 0.0M569.2 360.3l9.2 0.0M571.5 362.6l9.2 0.0M570.0 364.9l9.2 0.0M569.2 369.5l9.2 0.0M569.5 415.5l9.2 0.0M568.5 420.1l9.2 0.0M569.7 468.4l9.2 0.0M566.0 473.0l9.2 0.0M568.7 477.6l9.2 0.0M580.1 369.5l9.2 0.0M579.6 383.3l9.2 0.0M578.8 413.2l9.2 0.0M579.2 415.5l9.2 0.0M576.1 417.8l9.2 0.0M578.5 475.3l9.2 0.0M589.1 346.5l9.2 0.0M591.7 348.8l9.2 0.0M591.6 371.8l9.2 0.0M590.5 376.4l9.2 0.0M588.9 383.3l9.2 0.0M586.8 385.6l9.2 0.0M591.7 390.2l9.2 0.0M586.1 413.2l9.2 0.0M588.5 415.5l9.2 0.0M588.9 417.8l9.2 0.0M589.5 466.1l9.2 0.0M589.6 470.7l9.2 0.0M586.4 473.0l9.2 0.0M585.5 477.6l9.2 0.0M599.0 374.1l9.2 0.0M598.3 376.4l9.2 0.0M596.2 381.0l9.2 0.0M599.7 385.6l9.2 0.0M600.6 387.9l9.2 0.0M598.1 463.8l9.2 0.0M599.1 466.1l9.2 0.0M600.1 470.7l9.2 0.0M596.7 473.0l9.2 0.0M595.7 477.6l9.2 0.0M610.1 374.1l9.2 0.0M605.6 381.0l9.2 0.0M607.2 385.6l9.2 0.0M609.5 422.4l9.2 0.0M609.5 424.7l9.2 0.0M609.7 427.0l9.2 0.0M619.1 346.5l9.2 0.0M622.0 348.8l9.2 0.0M619.1 362.6l9.2 0.0M619.6 369.5l9.2 0.0M620.1 427.0l9.2 0.0M629.0 346.5l9.2 0.0M629.2 364.9l9.2 0.0M626.2 367.2l9.2 0.0M640.2 353.4l9.2 0.0M640.0 355.7l9.2 0.0M638.7 367.2l9.2 0.0M638.1 369.5l9.2 0.0M640.4 394.8l9.2 0.0M639.0 399.4l9.2 0.0M640.9 415.5l9.2 0.0M640.6 417.8l9.2 0.0M639.8 422.4l9.2 0.0M639.7 427.0l9.2 0.0M639.5 429.3l9.2 0.0M650.6 346.5l9.2 0.0M650.5 348.8l9.2 0.0M649.9 351.1l9.2 0.0M649.9 355.7l9.2 0.0M649.7 360.3l9.2 0.0M649.3 392.5l9.2 0.0M649.5 397.1l9.2 0.0M650.6 413.2l9.2 0.0M647.9 417.8l9.2 0.0M648.8 422.4l9.2 0.0M649.3 424.7l9.2 0.0M660.0 348.8l9.2 0.0M659.5 351.1l9.2 0.0M661.9 353.4l9.2 0.0M659.0 355.7l9.2 0.0M659.4 360.3l9.2 0.0M660.3 383.3l9.2 0.0M659.2 422.4l9.2 0.0M659.0 424.7l9.2 0.0M659.4 429.3l9.2 0.0M659.7 452.3l9.2 0.0M657.8 459.2l9.2 0.0M659.6 475.3l9.2 0.0M672.6 348.8l9.2 0.0M668.9 353.4l9.2 0.0M669.4 355.7l9.2 0.0M669.1 358.0l9.2 0.0M670.2 360.3l9.2 0.0M667.4 381.0l9.2 0.0M670.0 383.3l9.2 0.0M669.8 387.9l9.2 0.0M669.1 390.2l9.2 0.0M669.9 456.9l9.2 0.0M670.3 463.8l9.2 0.0M670.1 466.1l9.2 0.0M669.5 473.0l9.2 0.0M669.6 475.3l9.2 0.0M667.4 477.6l9.2 0.0"/>
<path fill="none" stroke="#1b9e77" stroke-width="1.20" d="M548.7 373.9l9.2 0.0M548.8 378.5l9.2 0.0M546.4 413.0l9.2 0.0M561.7 348.6l9.2 0.0M558.5 353.2l9.2 0.0M559.1 360.1l9.2 0.0M559.0 417.6l9.2 0.0M559.7 477.4l9.2 0.0M572.7 348.6l9.2 0.0M566.4 413.0l9.2 0.0M569.0 417.6l9.2 0.0M567.3 463.6l9.2 0.0M569.9 470.5l9.2 0.0M568.1 475.1l9.2 0.0M579.9 364.7l9.2 0.0M579.3 385.4l9.2 0.0M577.9 477.4l9.2 0.0M585.8 380.8l9.2 0.0M589.6 387.7l9.2 0.0M602.0 371.6l9.2 0.0M598.4 378.5l9.2 0.0M603.2 390.0l9.2 0.0M598.9 475.1l9.2 0.0M608.6 378.5l9.2 0.0M610.2 387.7l9.2 0.0M609.1 429.1l9.2 0.0M619.0 422.2l9.2 0.0M629.8 362.4l9.2 0.0M628.9 369.3l9.2 0.0M639.7 350.9l9.2 0.0M640.5 392.3l9.2 0.0M639.9 424.5l9.2 0.0M651.8 353.2l9.2 0.0M649.8 357.8l9.2 0.0M647.3 394.6l9.2 0.0M650.9 415.3l9.2 0.0M650.3 419.9l9.2 0.0M649.1 426.8l9.2 0.0M649.4 452.1l9.2 0.0M661.1 346.3l9.2 0.0M658.9 357.8l9.2 0.0M659.4 385.4l9.2 0.0M659.0 426.8l9.2 0.0M660.2 461.3l9.2 0.0M659.4 472.8l9.2 0.0M669.9 346.3l9.2 0.0M669.6 385.4l9.2 0.0M670.2 452.1l9.2 0.0M669.6 470.5l9.2 0.0"/>
</g>
<rect x="667.97" y="340.30" width="16.63" height="24.90" fill="#fff" fill-opacity="0.72"/>
<text x="675.48" y="357.50" text-anchor="middle" font-size="13.5" font-weight="bold">j</text>
<rect x="542.90" y="340.30" width="141.70" height="141.60" fill="none" stroke="#000" stroke-width="1.3"/>
<path d="M212.06 249.43L142.40 214.00" stroke="#000" stroke-width="1.5"/>
<path d="M239.12 235.91L142.60 104.20" stroke="#000" stroke-width="1.5"/>
<path d="M306.75 208.88L278.00 142.00" stroke="#000" stroke-width="1.5"/>
<path d="M279.70 371.09L142.40 410.90" stroke="#000" stroke-width="1.5"/>
<path d="M375.96 289.98L503.80 142.00" stroke="#000" stroke-width="1.5"/>
<path d="M457.13 208.88L572.80 142.00" stroke="#000" stroke-width="1.5"/>
<path d="M430.07 289.98L543.00 260.00" stroke="#000" stroke-width="1.5"/>
<path d="M416.55 398.12L543.00 405.60" stroke="#000" stroke-width="1.5"/>
<circle cx="212.06" cy="249.43" r="3.9" fill="#000"/>
<circle cx="239.12" cy="235.91" r="3.9" fill="#000"/>
<circle cx="306.75" cy="208.88" r="3.9" fill="#000"/>
<circle cx="279.70" cy="371.09" r="3.9" fill="#000"/>
<circle cx="375.96" cy="289.98" r="3.9" fill="#000"/>
<circle cx="457.13" cy="208.88" r="3.9" fill="#000"/>
<circle cx="430.07" cy="289.98" r="3.9" fill="#000"/>
<circle cx="416.55" cy="398.12" r="3.9" fill="#000"/>
</svg></body></html>
